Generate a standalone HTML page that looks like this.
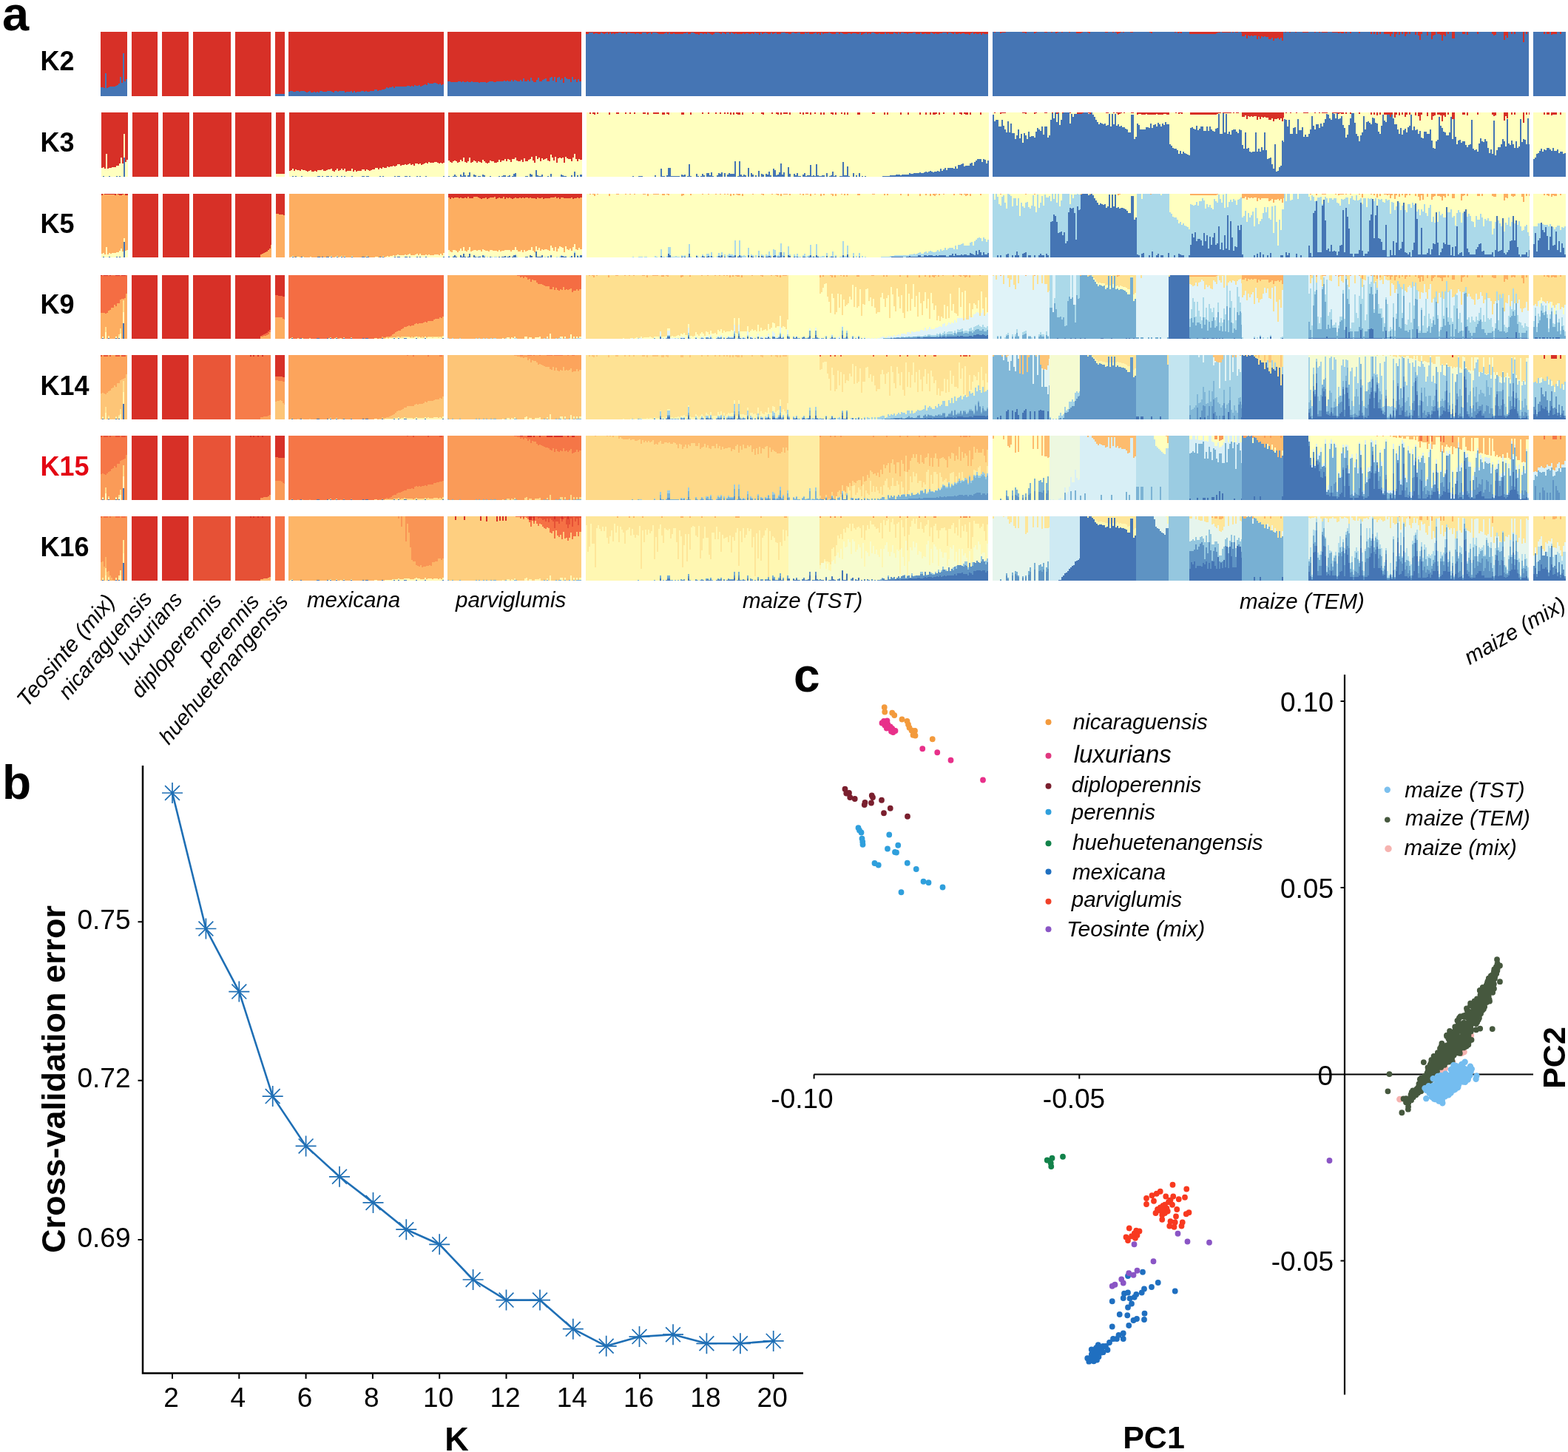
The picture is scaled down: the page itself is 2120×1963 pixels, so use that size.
<!DOCTYPE html>
<html><head><meta charset="utf-8"><title>Figure</title>
<style>
html,body{margin:0;padding:0;background:#fff}
body{width:2120px;height:1963px;overflow:hidden;font-family:"Liberation Sans",sans-serif}
svg{display:block}
text{font-family:"Liberation Sans",sans-serif}
</style></head><body>
<svg width="2120" height="1963" viewBox="0 0 2120 1963">
<rect width="2120" height="1963" fill="#fff"/>
<g shape-rendering="crispEdges">
<g transform="translate(0,43) scale(1,0.8650)">
<path fill="#d73027" d="M136 100V0H172V100zM177.75 100V0H213.25V100zM219.25 100V0H255V100zM260.5 100V0H312V100zM317.5 100V0H366.25V100zM372 100V0H384.5V100zM390 100V0H599.75V100zM605 100V0H786.25V100zM791.75 100V0H1335.75V100zM1343.5 100V0H1345.5V100zM1351.5 100V0H1359.5V100zM1381.5 100V0H1387.5V100zM1397.5 100V0H1401.5V100zM1411.5 100V0H1415.5V100zM1421 100V0H1423V100zM1427 100V0H1431V100zM1435 100V0H1437V100zM1445 100V0H1447V100zM1455 100V0H1460V100zM1460 100V0H1464V100zM1470 100V0H1474V100zM1494 100V0H1498V100zM1504 100V0H1506V100zM1508 100V0H1516V100zM1518 100V0H1520V100zM1528 100V0H1532V100zM1554 100V0H1558V100zM1588 100V0H1590V100zM1592 100V0H1598V100zM1608 100V0H1650V100zM1652 100V0H1664V100zM1666 100V0H1668V100zM1670 100V0H1674V100zM1678 100V0H1678.5V100zM1678.5 100V0H1735V100zM1737 100V0H1739V100zM1743 100V0H1745V100zM1751 100V0H1753V100zM1761 100V0H1768.5V100zM1776.5 100V0H1778.5V100zM1782.5 100V0H1784.5V100zM1786.5 100V0H1794.5V100zM1800.5 100V0H1816.5V100zM1818.5 100V0H1820.5V100zM1824.5 100V0H1826.5V100zM1836.5 100V0H1838.5V100zM1852.5 100V0H1854.5V100zM1856.5 100V0H1858.5V100zM1860.5 100V0H1862.5V100zM1864.5 100V0H1866.5V100zM1870.5 100V0H1882.5V100zM1884.5 100V0H1888.5V100zM1890.5 100V0H1892.5V100zM1894.5 100V0H1896.5V100zM1898.5 100V0H1902.5V100zM1904.5 100V0H1906.5V100zM1912.5 100V0H1914.5V100zM1916.5 100V0H1922.5V100zM1928.5 100V0H1930.5V100zM1934.5 100V0H1940.5V100zM1942.5 100V0H1954.5V100zM1956.5 100V0H1958.5V100zM1962.5 100V0H1966.5V100zM1976.5 100V0H1980.5V100zM1982.5 100V0H1984.5V100zM1996.5 100V0H1998.5V100zM2016.5 100V0H2022.5V100zM2032.5 100V0H2038.5V100zM2042.5 100V0H2044.5V100zM2046.5 100V0H2048.5V100zM2058.5 100V0H2060.5V100zM2062.5 100V0H2064.5V100zM2066.5 100V0H2067V100zM2086.5 100V0H2088.5V100zM2090.5 100V0H2094.5V100zM2096.5 100V0H2104.5V100zM2108.5 100V0H2110.5V100z"/>
<path fill="#4575b4" d="M136 100V87H140V88H142V65H144V88H146V87H148V86H150V85H156V84H158V83H160V81H162V70H164V80H166V34H168V77H170V74H172V100zM372 100V97H384.5V100zM390 100V94H392V93H396V94H400V93H404V94H406V93H412V94H414V95H416V94H418V93H420V95H424V94H426V95H428V94H430V95H432V93H436V94H442V93H444V92H448V94H450V95H452V93H454V92H456V94H458V93H466V95H468V94H474V93H476V95H478V93H480V95H482V94H488V93H492V94H494V93H496V94H500V93H502V92H506V90H510V92H512V91H516V90H520V89H522V87H524V88H526V87H530V86H532V88H534V86H536V85H538V86H542V85H548V86H550V84H554V85H556V84H558V86H560V83H562V84H566V83H568V85H570V84H572V83H574V82H576V83H578V80H580V81H586V80H590V81H592V82H594V81H596V83H598V82H599.75V100zM605 100V77H607V78H609V79H619V78H623V79H625V78H627V79H631V78H633V79H637V78H639V79H647V80H649V79H657V80H659V79H661V77H667V79H671V78H673V77H675V78H681V76H683V77H685V76H687V78H691V75H693V77H695V75H697V76H699V77H703V75H705V78H707V73H709V78H713V75H715V78H717V72H719V76H721V79H725V75H727V72H729V78H731V77H733V75H735V74H737V73H739V77H743V72H745V71H747V76H749V70H751V79H753V72H755V71H757V75H759V73H761V80H763V71H765V73H767V74H771V79H773V71H775V75H777V74H779V79H781V74H783V78H786.25V100zM791.75 100V3H795.75V1H801.75V4H803.75V2H807.75V3H809.75V4H811.75V1H813.75V2H815.75V3H817.75V2H819.75V1H821.75V4H823.75V1H825.75V4H827.75V2H829.75V3H831.75V2H835.75V1H839.75V2H843.75V1H845.75V4H847.75V1H851.75V2H857.75V3H859.75V2H863.75V3H865.75V4H867.75V1H873.75V4H875.75V2H877.75V1H879.75V3H881.75V1H887.75V2H889.75V3H897.75V2H899.75V1H901.75V3H903.75V1H905.75V4H909.75V2H911.75V3H917.75V4H921.75V3H923.75V2H927.75V1H929.75V4H931.75V3H933.75V1H937.75V2H939.75V4H943.75V5H945.75V2H949.75V3H951.75V2H953.75V3H955.75V1H957.75V2H959.75V4H961.75V5H963.75V4H965.75V1H971.75V2H973.75V4H975.75V1H977.75V2H979.75V3H981.75V1H985.75V4H987.75V1H989.75V2H991.75V4H993.75V2H995.75V3H1001.75V4H1003.75V2H1005.75V3H1007.75V2H1011.75V4H1015.75V2H1017.75V3H1019.75V1H1021.75V2H1025.75V5H1027.75V1H1029.75V4H1031.75V2H1033.75V1H1035.75V2H1037.75V4H1041.75V1H1043.75V4H1045.75V2H1047.75V1H1049.75V3H1053.75V4H1055.75V1H1061.75V2H1065.75V3H1069.75V1H1073.75V2H1077.75V1H1081.75V3H1085.75V4H1087.75V1H1089.75V2H1091.75V1H1093.75V4H1095.75V3H1099.75V2H1101.75V1H1103.75V4H1105.75V2H1107.75V5H1109.75V1H1111.75V3H1113.75V2H1119.75V1H1121.75V2H1123.75V4H1129.75V1H1133.75V3H1135.75V1H1137.75V2H1139.75V3H1143.75V4H1145.75V2H1149.75V4H1151.75V2H1157.75V3H1161.75V1H1163.75V5H1165.75V4H1167.75V2H1169.75V1H1171.75V4H1173.75V2H1175.75V3H1177.75V1H1181.75V2H1183.75V3H1185.75V4H1187.75V2H1189.75V3H1195.75V1H1197.75V4H1199.75V2H1201.75V4H1203.75V3H1205.75V4H1207.75V1H1209.75V2H1211.75V4H1213.75V1H1215.75V3H1217.75V1H1221.75V2H1225.75V4H1227.75V2H1233.75V1H1237.75V4H1239.75V3H1241.75V4H1243.75V1H1245.75V4H1249.75V2H1251.75V4H1257.75V1H1259.75V2H1261.75V4H1263.75V2H1265.75V3H1269.75V2H1273.75V1H1279.75V4H1281.75V1H1285.75V2H1287.75V3H1289.75V1H1291.75V3H1295.75V2H1297.75V3H1299.75V2H1303.75V4H1305.75V3H1309.75V5H1311.75V2H1313.75V1H1315.75V3H1317.75V2H1319.75V4H1323.75V2H1325.75V5H1327.75V2H1329.75V4H1333.75V3H1335.75V100zM1341.5 100V0H1343.5V1H1345.5V0H1351.5V2H1353.5V1H1359.5V0H1381.5V1H1385.5V2H1387.5V0H1397.5V2H1399.5V1H1401.5V0H1411.5V1H1415.5V0H1419V100zM1419 100V0H1421V1H1423V0H1427V2H1429V1H1431V0H1435V1H1437V0H1445V1H1447V0H1455V2H1460V100zM1460 100V2H1462V1H1464V0H1470V1H1472V2H1474V0H1494V1H1498V0H1504V1H1506V0H1508V1H1510V3H1512V2H1514V1H1516V0H1518V1H1520V0H1528V1H1532V0H1536V100zM1536 100V0H1554V1H1556V2H1558V0H1580V100zM1580 100V0H1588V1H1590V0H1592V2H1594V1H1596V2H1598V0H1608V100zM1608 100V3H1644V2H1646V1H1650V0H1652V1H1664V0H1666V1H1668V0H1670V1H1674V0H1678V1H1678.5V100zM1678.5 100V7H1682.5V5H1684.5V10H1686.5V6H1688.5V7H1690.5V6H1692.5V7H1694.5V6H1698.5V12H1700.5V7H1702.5V10H1704.5V7H1706.5V8H1708.5V7H1710.5V8H1714.5V12H1716.5V11H1718.5V9H1720.5V14H1722.5V10H1726.5V9H1728.5V11H1730.5V9H1732.5V14H1734.5V8H1735V100zM1735 100V0H1737V1H1739V0H1743V1H1745V0H1751V1H1753V0H1761V1H1768.5V100zM1768.5 100V0H1776.5V1H1778.5V0H1782.5V1H1784.5V0H1786.5V1H1794.5V0H1800.5V1H1808.5V2H1810.5V1H1812.5V2H1816.5V0H1818.5V2H1820.5V0H1824.5V2H1826.5V0H1836.5V2H1838.5V0H1852.5V3H1854.5V0H1856.5V3H1858.5V0H1860.5V5H1862.5V0H1864.5V4H1866.5V0H1870.5V3H1874.5V4H1876.5V3H1878.5V7H1880.5V3H1882.5V0H1884.5V8H1886.5V4H1888.5V0H1890.5V5H1892.5V0H1894.5V4H1896.5V0H1898.5V7H1900.5V4H1902.5V0H1904.5V4H1906.5V0H1912.5V5H1914.5V0H1916.5V6H1918.5V13H1920.5V4H1922.5V0H1928.5V6H1930.5V0H1934.5V12H1936.5V6H1938.5V5H1940.5V0H1942.5V4H1946.5V5H1948.5V14H1950.5V5H1952.5V7H1954.5V0H1956.5V4H1958.5V0H1962.5V10H1966.5V0H1976.5V4H1980.5V0H1982.5V5H1984.5V0H1996.5V4H1998.5V0H2016.5V4H2018.5V6H2020.5V5H2022.5V0H2032.5V13H2034.5V6H2036.5V9H2038.5V0H2042.5V4H2044.5V0H2046.5V4H2048.5V0H2058.5V16H2060.5V0H2062.5V4H2064.5V0H2066.5V4H2067V100zM2072.5 100V0H2086.5V3H2088.5V0H2090.5V3H2092.5V4H2094.5V0H2096.5V5H2098.5V3H2100.5V4H2104.5V0H2108.5V3H2110.5V0H2116.5V100z"/>
</g>
<g transform="translate(.75,152) scale(1,0.8675)">
<path fill="#d73027" d="M136 100V0H172V100zM177.75 100V0H213.25V100zM219.25 100V0H255V100zM260.5 100V0H312V100zM317.5 100V0H366.25V100zM372 100V0H384.5V100zM390 100V0H599.75V100zM605 100V0H786.25V100zM795.75 100V0H797.75V100zM799.75 100V0H803.75V100zM805.75 100V0H807.75V100zM821.75 100V0H823.75V100zM831.75 100V0H835.75V100zM843.75 100V0H845.75V100zM849.75 100V0H851.75V100zM855.75 100V0H857.75V100zM867.75 100V0H871.75V100zM873.75 100V0H875.75V100zM881.75 100V0H889.75V100zM893.75 100V0H897.75V100zM899.75 100V0H903.75V100zM919.75 100V0H923.75V100zM931.75 100V0H933.75V100zM947.75 100V0H949.75V100zM955.75 100V0H957.75V100zM965.75 100V0H967.75V100zM971.75 100V0H973.75V100zM977.75 100V0H979.75V100zM981.75 100V0H983.75V100zM985.75 100V0H987.75V100zM989.75 100V0H991.75V100zM993.75 100V0H999.75V100zM1001.75 100V0H1003.75V100zM1015.75 100V0H1017.75V100zM1027.75 100V0H1031.75V100zM1041.75 100V0H1043.75V100zM1047.75 100V0H1051.75V100zM1053.75 100V0H1055.75V100zM1057.75 100V0H1063.75V100zM1065.75 100V0H1067.75V100zM1079.75 100V0H1081.75V100zM1083.75 100V0H1085.75V100zM1087.75 100V0H1091.75V100zM1093.75 100V0H1095.75V100zM1099.75 100V0H1101.75V100zM1107.75 100V0H1109.75V100zM1111.75 100V0H1113.75V100zM1121.75 100V0H1125.75V100zM1127.75 100V0H1129.75V100zM1135.75 100V0H1137.75V100zM1139.75 100V0H1141.75V100zM1143.75 100V0H1145.75V100zM1157.75 100V0H1161.75V100zM1177.75 100V0H1181.75V100zM1193.75 100V0H1195.75V100zM1197.75 100V0H1199.75V100zM1215.75 100V0H1217.75V100zM1225.75 100V0H1227.75V100zM1241.75 100V0H1243.75V100zM1249.75 100V0H1251.75V100zM1255.75 100V0H1257.75V100zM1259.75 100V0H1265.75V100zM1267.75 100V0H1269.75V100zM1273.75 100V0H1275.75V100zM1287.75 100V0H1289.75V100zM1295.75 100V0H1299.75V100zM1301.75 100V0H1307.75V100zM1309.75 100V0H1311.75V100zM1323.75 100V0H1325.75V100zM1343.5 100V0H1345.5V100zM1351.5 100V0H1359.5V100zM1381.5 100V0H1387.5V100zM1397.5 100V0H1401.5V100zM1411.5 100V0H1415.5V100zM1421 100V0H1423V100zM1427 100V0H1431V100zM1435 100V0H1437V100zM1445 100V0H1447V100zM1455 100V0H1460V100zM1460 100V0H1464V100zM1470 100V0H1474V100zM1494 100V0H1498V100zM1504 100V0H1506V100zM1508 100V0H1516V100zM1518 100V0H1520V100zM1528 100V0H1532V100zM1536 100V0H1580V100zM1588 100V0H1590V100zM1592 100V0H1598V100zM1608 100V0H1650V100zM1652 100V0H1664V100zM1666 100V0H1668V100zM1670 100V0H1674V100zM1678 100V0H1678.5V100zM1678.5 100V0H1735V100zM1737 100V0H1739V100zM1743 100V0H1745V100zM1751 100V0H1753V100zM1761 100V0H1768.5V100zM1776.5 100V0H1778.5V100zM1782.5 100V0H1784.5V100zM1786.5 100V0H1794.5V100zM1800.5 100V0H1816.5V100zM1818.5 100V0H1820.5V100zM1824.5 100V0H1826.5V100zM1836.5 100V0H1838.5V100zM1852.5 100V0H1854.5V100zM1856.5 100V0H1858.5V100zM1860.5 100V0H1862.5V100zM1864.5 100V0H1866.5V100zM1870.5 100V0H1882.5V100zM1884.5 100V0H1888.5V100zM1890.5 100V0H1892.5V100zM1894.5 100V0H1896.5V100zM1898.5 100V0H1902.5V100zM1904.5 100V0H1906.5V100zM1912.5 100V0H1914.5V100zM1916.5 100V0H1922.5V100zM1928.5 100V0H1930.5V100zM1934.5 100V0H1940.5V100zM1942.5 100V0H1954.5V100zM1956.5 100V0H1958.5V100zM1962.5 100V0H1966.5V100zM1976.5 100V0H1980.5V100zM1982.5 100V0H1984.5V100zM1996.5 100V0H1998.5V100zM2016.5 100V0H2022.5V100zM2032.5 100V0H2038.5V100zM2042.5 100V0H2044.5V100zM2046.5 100V0H2048.5V100zM2058.5 100V0H2060.5V100zM2062.5 100V0H2064.5V100zM2066.5 100V0H2067V100zM2086.5 100V0H2088.5V100zM2090.5 100V0H2094.5V100zM2096.5 100V0H2104.5V100zM2108.5 100V0H2110.5V100z"/>
<path fill="#ffffbf" d="M136 100V87H138V85H140V88H142V65H144V88H146V86H150V85H156V83H160V80H162V70H164V80H166V34H168V77H170V74H172V100zM372 100V96H384.5V100zM390 100V91H392V90H394V88H396V91H398V89H400V90H404V91H406V89H408V90H412V91H414V92H416V91H418V90H420V92H424V91H426V92H428V90H434V89H436V91H440V90H442V89H446V88H448V91H450V92H452V90H454V88H456V91H458V90H460V88H462V90H464V88H466V92H468V91H474V88H476V92H478V90H480V92H482V91H488V89H492V91H494V89H496V90H498V91H500V90H502V89H506V87H510V89H512V86H514V88H516V85H518V87H520V86H522V84H524V85H526V84H530V83H532V84H534V83H536V81H540V83H542V82H546V81H548V82H550V81H552V80H554V82H556V81H558V83H560V80H562V79H564V81H566V79H568V82H570V81H572V80H574V78H576V80H578V77H580V78H586V77H590V78H592V79H594V78H596V80H598V78H599.75V100zM605 100V75H607V77H609V78H611V76H613V75H615V76H617V78H619V77H621V74H623V76H625V70H627V77H629V78H631V76H633V70H635V78H637V77H639V75H641V76H643V78H645V76H647V77H649V78H651V74H653V76H655V78H657V79H659V78H661V75H663V76H667V78H671V77H673V74H675V77H677V75H681V73H683V76H685V73H687V74H689V77H691V73H695V70H697V75H699V76H703V74H705V77H707V72H709V76H713V74H715V73H717V69H719V75H721V78H723V68H725V73H727V70H729V76H731V72H733V74H735V73H737V72H739V75H741V76H743V66H745V70H747V75H749V69H751V78H753V71H755V70H757V71H759V70H761V78H763V69H765V72H767V73H771V76H773V70H775V65H777V73H779V76H781V73H783V74H786.25V100zM791.75 100V0H795.75V2H797.75V0H799.75V2H801.75V4H803.75V0H805.75V2H807.75V0H821.75V4H823.75V0H831.75V2H835.75V0H843.75V2H845.75V0H849.75V2H851.75V0H855.75V2H857.75V0H867.75V2H871.75V0H873.75V4H875.75V0H881.75V2H889.75V0H893.75V3H897.75V0H899.75V2H901.75V3H903.75V0H919.75V4H921.75V3H923.75V0H931.75V3H933.75V0H947.75V2H949.75V0H955.75V2H957.75V0H965.75V2H967.75V0H971.75V2H973.75V0H977.75V2H979.75V0H981.75V2H983.75V0H985.75V4H987.75V0H989.75V3H991.75V0H993.75V2H995.75V3H999.75V0H1001.75V4H1003.75V0H1015.75V2H1017.75V0H1027.75V2H1029.75V3H1031.75V0H1041.75V2H1043.75V0H1047.75V2H1049.75V3H1051.75V0H1053.75V4H1055.75V0H1057.75V2H1063.75V0H1065.75V3H1067.75V0H1079.75V2H1081.75V0H1083.75V3H1085.75V0H1087.75V2H1091.75V0H1093.75V4H1095.75V0H1099.75V2H1101.75V0H1107.75V4H1109.75V0H1111.75V3H1113.75V0H1121.75V2H1123.75V4H1125.75V0H1127.75V4H1129.75V0H1135.75V2H1137.75V0H1139.75V3H1141.75V0H1143.75V3H1145.75V0H1157.75V3H1161.75V0H1177.75V2H1181.75V0H1193.75V3H1195.75V0H1197.75V3H1199.75V0H1215.75V3H1217.75V0H1225.75V4H1227.75V0H1241.75V4H1243.75V0H1249.75V3H1251.75V0H1255.75V4H1257.75V0H1259.75V3H1261.75V4H1263.75V2H1265.75V0H1267.75V3H1269.75V0H1273.75V2H1275.75V0H1287.75V3H1289.75V0H1295.75V2H1297.75V3H1299.75V0H1301.75V2H1303.75V4H1305.75V3H1307.75V0H1309.75V4H1311.75V0H1323.75V3H1325.75V0H1335.75V100zM1341.5 100V0H1343.5V1H1345.5V0H1351.5V2H1353.5V1H1359.5V0H1381.5V1H1385.5V2H1387.5V0H1397.5V2H1399.5V1H1401.5V0H1411.5V1H1415.5V0H1419V100zM1419 100V0H1421V100zM1423 100V0H1425V100zM1427 100V2H1429V100zM1431 100V0H1435V100zM1445 100V1H1447V0H1455V100zM1470 100V1H1472V100zM1476 100V0H1494V1H1498V0H1504V1H1506V0H1508V1H1510V3H1512V2H1514V1H1516V0H1518V1H1520V0H1528V1H1532V0H1536V100zM1536 100V3H1538V2H1542V3H1548V2H1550V3H1552V4H1556V3H1560V4H1562V2H1564V4H1566V3H1572V2H1576V3H1580V100zM1580 100V0H1588V1H1590V0H1592V2H1594V1H1596V2H1598V0H1608V100zM1608 100V3H1644V2H1646V1H1650V0H1652V100zM1654 100V1H1664V0H1666V1H1668V0H1670V1H1674V0H1678V1H1678.5V100zM1678.5 100V7H1682.5V5H1684.5V10H1686.5V6H1688.5V7H1690.5V6H1692.5V7H1694.5V6H1698.5V12H1700.5V7H1702.5V10H1704.5V7H1706.5V8H1708.5V7H1710.5V8H1714.5V12H1716.5V11H1718.5V9H1720.5V14H1722.5V10H1726.5V9H1728.5V11H1730.5V9H1732.5V14H1734.5V8H1735V100zM1735 100V0H1737V1H1739V0H1743V1H1745V0H1751V1H1753V0H1761V1H1768.5V100zM1768.5 100V0H1776.5V1H1778.5V0H1782.5V1H1784.5V0H1786.5V1H1794.5V0H1800.5V100zM1802.5 100V1H1806.5V100zM1808.5 100V2H1810.5V1H1812.5V2H1816.5V0H1818.5V2H1820.5V0H1824.5V2H1826.5V0H1836.5V2H1838.5V0H1852.5V3H1854.5V0H1856.5V3H1858.5V0H1860.5V5H1862.5V0H1864.5V4H1866.5V0H1870.5V3H1874.5V100zM1882.5 100V0H1884.5V8H1886.5V4H1888.5V0H1890.5V5H1892.5V0H1894.5V4H1896.5V0H1898.5V7H1900.5V4H1902.5V0H1904.5V4H1906.5V0H1912.5V5H1914.5V0H1916.5V6H1918.5V13H1920.5V4H1922.5V0H1928.5V6H1930.5V0H1934.5V12H1936.5V6H1938.5V5H1940.5V0H1942.5V4H1946.5V5H1948.5V14H1950.5V5H1952.5V7H1954.5V0H1956.5V4H1958.5V0H1962.5V10H1964.5V100zM1966.5 100V0H1976.5V4H1980.5V0H1982.5V5H1984.5V0H1996.5V4H1998.5V0H2016.5V4H2018.5V6H2020.5V5H2022.5V0H2032.5V13H2034.5V6H2036.5V9H2038.5V0H2042.5V4H2044.5V0H2046.5V4H2048.5V0H2058.5V16H2060.5V0H2062.5V4H2064.5V0H2066.5V4H2067V100zM2072.5 100V0H2086.5V3H2088.5V0H2090.5V3H2092.5V4H2094.5V0H2096.5V5H2098.5V3H2100.5V4H2104.5V0H2108.5V3H2110.5V0H2116.5V100z"/>
<path fill="#4575b4" d="M138 100V99H140V100zM146 100V99H148V100zM156 100V99H158V100zM160 100V99H162V100zM166 100V70H168V100zM394 100V99H396V100zM398 100V99H400V100zM406 100V99H408V100zM428 100V99H432V100zM434 100V99H436V100zM440 100V99H444V100zM446 100V99H448V100zM454 100V99H456V100zM460 100V99H462V100zM464 100V99H466V100zM474 100V99H476V100zM488 100V99H492V100zM494 100V99H498V100zM512 100V99H514V100zM516 100V99H518V100zM532 100V99H534V100zM536 100V99H540V100zM546 100V99H550V100zM552 100V99H554V100zM562 100V99H564V100zM566 100V99H568V100zM574 100V99H576V100zM598 100V99H599.75V100zM605 100V99H607V100zM611 100V99H613V97H615V99H617V100zM621 100V97H623V99H625V93H627V98H629V100zM631 100V98H633V93H635V100zM639 100V97H641V98H643V100zM645 100V99H649V100zM651 100V97H653V98H655V100zM661 100V99H663V100zM673 100V99H675V100zM677 100V99H679V98H683V100zM685 100V99H687V98H689V100zM691 100V99H693V96H695V95H697V100zM709 100V99H713V100zM715 100V96H717V97H719V100zM723 100V90H725V98H727V99H731V97H733V100zM739 100V99H741V100zM743 100V96H745V100zM757 100V97H759V98H761V99H765V100zM771 100V98H773V100zM775 100V92H777V100zM779 100V98H781V100zM783 100V97H786.25V100zM853.75 100V99H855.75V100zM861.75 100V99H867.75V100zM883.75 100V98H885.75V100zM891.75 100V88H893.75V99H897.75V100zM899.75 100V98H901.75V86H905.75V99H917.75V100zM919.75 100V97H921.75V98H923.75V97H925.75V100zM927.75 100V99H929.75V81H931.75V99H933.75V100zM939.75 100V96H941.75V99H943.75V100zM945.75 100V99H947.75V96H949.75V98H951.75V100zM953.75 100V95H957.75V98H959.75V93H961.75V99H963.75V100zM967.75 100V98H969.75V94H971.75V96H973.75V93H975.75V100zM977.75 100V95H979.75V100zM981.75 100V97H983.75V94H985.75V96H991.75V76H993.75V100zM995.75 100V99H997.75V76H999.75V97H1001.75V99H1003.75V97H1005.75V98H1007.75V100zM1009.75 100V87H1011.75V100zM1013.75 100V95H1015.75V97H1017.75V100zM1019.75 100V98H1021.75V100zM1023.75 100V91H1025.75V100zM1027.75 100V96H1029.75V97H1031.75V100zM1033.75 100V96H1035.75V97H1037.75V92H1039.75V98H1041.75V100zM1043.75 100V88H1045.75V90H1047.75V98H1049.75V97H1051.75V93H1053.75V80H1055.75V97H1057.75V93H1059.75V100zM1063.75 100V85H1065.75V96H1067.75V100zM1071.75 100V96H1073.75V98H1075.75V95H1077.75V99H1081.75V100zM1083.75 100V97H1085.75V95H1087.75V99H1089.75V98H1093.75V82H1095.75V99H1097.75V98H1099.75V99H1101.75V81H1103.75V98H1105.75V99H1109.75V98H1113.75V100zM1115.75 100V94H1117.75V100zM1119.75 100V99H1121.75V98H1123.75V92H1125.75V99H1127.75V98H1129.75V100zM1133.75 100V99H1137.75V77H1139.75V98H1143.75V84H1145.75V99H1147.75V100zM1151.75 100V94H1153.75V100zM1155.75 100V98H1157.75V100zM1159.75 100V94H1161.75V100zM1163.75 100V99H1165.75V100zM1167.75 100V99H1169.75V100zM1191.75 100V99H1201.75V98H1209.75V97H1215.75V98H1217.75V97H1227.75V95H1229.75V96H1233.75V95H1239.75V94H1241.75V93H1243.75V95H1247.75V93H1249.75V92H1251.75V93H1253.75V92H1255.75V91H1257.75V92H1259.75V93H1261.75V92H1265.75V91H1267.75V92H1269.75V88H1271.75V91H1273.75V89H1275.75V87H1277.75V90H1279.75V87H1283.75V86H1287.75V88H1289.75V84H1291.75V88H1293.75V82H1297.75V81H1299.75V80H1301.75V84H1303.75V83H1309.75V80H1311.75V78H1313.75V83H1315.75V77H1317.75V75H1319.75V73H1325.75V77H1327.75V73H1329.75V74H1331.75V79H1333.75V75H1335.75V100zM1341.5 100V3H1343.5V14H1345.5V12H1349.5V22H1353.5V11H1355.5V21H1357.5V27H1359.5V31H1361.5V14H1363.5V31H1365.5V17H1367.5V32H1371.5V41H1373.5V36H1375.5V27H1377.5V40H1379.5V34H1381.5V47H1383.5V32H1385.5V36H1387.5V42H1389.5V30H1391.5V38H1393.5V37H1397.5V39H1399.5V30H1401.5V24H1403.5V26H1405.5V29H1407.5V22H1409.5V35H1411.5V22H1415.5V39H1417.5V36H1419V100zM1419 100V12H1421V1H1423V9H1425V0H1427V15H1429V1H1431V20H1433V11H1435V1H1437V0H1445V17H1447V2H1449V7H1451V2H1460V100zM1460 100V2H1462V1H1464V0H1470V2H1474V0H1476V3H1478V7H1480V11H1482V15H1484V18H1486V16H1488V17H1490V18H1492V17H1494V21H1496V20H1498V2H1500V22H1502V2H1504V19H1506V2H1508V21H1510V18H1512V22H1514V21H1516V23H1520V25H1522V27H1524V31H1528V3H1530V4H1532V41H1534V38H1536V100zM1536 100V17H1538V20H1540V26H1544V27H1548V23H1552V24H1554V17H1556V24H1558V20H1560V18H1562V22H1564V16H1566V18H1568V22H1570V17H1572V20H1574V15H1576V19H1580V100zM1580 100V49H1582V52H1584V55H1586V57H1588V56H1590V59H1592V64H1594V60H1596V64H1598V61H1600V63H1602V64H1604V66H1606V67H1608V100zM1608 100V24H1610V23H1612V25H1614V27H1616V21H1618V28H1620V25H1622V22H1626V29H1630V22H1632V29H1634V22H1636V27H1638V29H1640V30H1642V25H1644V24H1646V2H1648V34H1652V1H1654V31H1656V2H1658V34H1660V30H1662V35H1664V28H1666V26H1670V30H1672V32H1674V26H1676V28H1678V21H1678.5V100zM1678.5 100V51H1680.5V56H1682.5V31H1684.5V57H1686.5V55H1688.5V61H1690.5V62H1692.5V61H1696.5V31H1698.5V61H1700.5V57H1702.5V61H1704.5V54H1706.5V59H1708.5V31H1710.5V59H1712.5V73H1714.5V71H1716.5V70H1718.5V81H1720.5V88H1722.5V49H1724.5V92H1726.5V91H1728.5V85H1730.5V83H1732.5V44H1734.5V46H1735V100zM1735 100V10H1737V11H1739V22H1741V11H1743V34H1745V33H1747V24H1749V23H1751V34H1753V10H1755V28H1759V23H1761V38H1763V35H1765V38H1768.5V100zM1768.5 100V34H1770.5V27H1772.5V6H1774.5V21H1776.5V26H1778.5V18H1780.5V19H1782.5V24H1784.5V17H1786.5V22H1788.5V16H1790.5V10H1792.5V2H1794.5V3H1796.5V9H1798.5V11H1800.5V1H1802.5V2H1804.5V9H1806.5V1H1808.5V10H1810.5V9H1812.5V6H1814.5V20H1816.5V24H1818.5V39H1820.5V35H1822.5V20H1824.5V9H1826.5V1H1830.5V16H1832.5V33H1834.5V37H1836.5V45H1838.5V36H1840.5V31H1842.5V6H1844.5V27H1846.5V15H1848.5V14H1850.5V16H1852.5V19H1854.5V8H1856.5V9H1858.5V16H1860.5V17H1862.5V30H1864.5V34H1866.5V21H1868.5V4H1870.5V13H1872.5V15H1874.5V4H1876.5V3H1878.5V7H1880.5V3H1882.5V9H1884.5V18H1886.5V19H1888.5V26H1890.5V34H1892.5V24H1894.5V35H1896.5V28H1898.5V25H1900.5V31H1902.5V23H1904.5V21H1906.5V4H1908.5V28H1910.5V22H1912.5V28H1914.5V27H1916.5V33H1918.5V29H1920.5V39H1922.5V40H1924.5V30H1928.5V33H1930.5V34H1932.5V27H1934.5V44H1936.5V55H1938.5V56H1940.5V45H1942.5V43H1944.5V7H1946.5V21H1948.5V24H1950.5V30H1952.5V31H1954.5V36H1958.5V31H1960.5V7H1962.5V42H1964.5V10H1966.5V38H1968.5V49H1970.5V44H1972.5V43H1974.5V47H1976.5V45H1980.5V51H1982.5V54H1984.5V51H1986.5V49H1988.5V11H1990.5V57H1992.5V59H1994.5V58H1996.5V61H1998.5V48H2000.5V40H2002.5V45H2004.5V46H2006.5V42H2008.5V45H2010.5V55H2012.5V63H2014.5V58H2016.5V65H2018.5V13H2020.5V67H2022.5V59H2024.5V54H2028.5V49H2030.5V41H2032.5V45H2034.5V53H2036.5V10H2038.5V48H2040.5V51H2042.5V44H2044.5V49H2046.5V55H2048.5V45H2050.5V55H2052.5V53H2054.5V10H2056.5V46H2058.5V41H2060.5V43H2062.5V49H2064.5V9H2066.5V49H2067V100zM2072.5 100V73H2074.5V70H2076.5V65H2078.5V63H2080.5V60H2082.5V57H2084.5V61H2086.5V58H2088.5V59H2090.5V55H2094.5V58H2096.5V60H2098.5V55H2100.5V60H2104.5V58H2106.5V63H2108.5V61H2112.5V65H2114.5V63H2116.5V100z"/>
</g>
<g transform="translate(.75,261.5) scale(1,0.8650)">
<path fill="#d73027" d="M136 100V0H172V100zM177.75 100V0H213.25V100zM219.25 100V0H255V100zM260.5 100V0H312V100zM317.5 100V0H366.25V100zM372 100V0H384.5V100zM605 100V0H786.25V100z"/>
<path fill="#fdae61" d="M136 100V3H138V1H140V2H154V3H156V1H158V2H160V3H164V2H166V1H168V3H172V100zM351.5 100V95H353.5V94H355.5V93H357.5V92H359.5V91H361.5V89H363.5V86H365.5V80H366.25V100zM372 100V32H376V33H382V34H384.5V100zM390 100V0H599.75V100zM605 100V6H607V9H609V6H611V7H613V6H619V7H621V6H623V7H627V6H629V8H631V5H633V7H635V8H637V7H639V5H645V6H647V7H649V9H651V7H653V8H655V6H657V9H659V7H661V6H667V5H669V9H671V8H673V6H675V7H679V5H681V9H683V6H685V7H687V6H689V7H691V9H693V8H695V6H697V8H699V7H701V6H703V7H705V6H707V8H709V6H713V8H715V6H717V8H723V9H725V6H727V7H731V6H733V9H735V8H739V7H743V6H749V5H751V7H753V6H755V9H757V6H761V8H763V7H767V8H769V7H771V6H773V9H775V8H779V6H781V7H783V6H786.25V100zM795.75 100V0H797.75V100zM799.75 100V0H803.75V100zM805.75 100V0H807.75V100zM821.75 100V0H823.75V100zM831.75 100V0H835.75V100zM843.75 100V0H845.75V100zM849.75 100V0H851.75V100zM855.75 100V0H857.75V100zM867.75 100V0H871.75V100zM873.75 100V0H875.75V100zM881.75 100V0H889.75V100zM893.75 100V0H897.75V100zM899.75 100V0H903.75V100zM919.75 100V0H923.75V100zM931.75 100V0H933.75V100zM947.75 100V0H949.75V100zM955.75 100V0H957.75V100zM965.75 100V0H967.75V100zM971.75 100V0H973.75V100zM977.75 100V0H979.75V100zM981.75 100V0H983.75V100zM985.75 100V0H987.75V100zM989.75 100V0H991.75V100zM993.75 100V0H999.75V100zM1001.75 100V0H1003.75V100zM1015.75 100V0H1017.75V100zM1027.75 100V0H1031.75V100zM1041.75 100V0H1043.75V100zM1047.75 100V0H1051.75V100zM1053.75 100V0H1055.75V100zM1057.75 100V0H1063.75V100zM1065.75 100V0H1067.75V100zM1079.75 100V0H1081.75V100zM1083.75 100V0H1085.75V100zM1087.75 100V0H1091.75V100zM1093.75 100V0H1095.75V100zM1099.75 100V0H1101.75V100zM1107.75 100V0H1109.75V100zM1111.75 100V0H1113.75V100zM1121.75 100V0H1125.75V100zM1127.75 100V0H1129.75V100zM1135.75 100V0H1137.75V100zM1139.75 100V0H1141.75V100zM1143.75 100V0H1145.75V100zM1157.75 100V0H1161.75V100zM1177.75 100V0H1181.75V100zM1193.75 100V0H1195.75V100zM1197.75 100V0H1199.75V100zM1215.75 100V0H1217.75V100zM1225.75 100V0H1227.75V100zM1241.75 100V0H1243.75V100zM1249.75 100V0H1251.75V100zM1255.75 100V0H1257.75V100zM1259.75 100V0H1265.75V100zM1267.75 100V0H1269.75V100zM1273.75 100V0H1275.75V100zM1287.75 100V0H1289.75V100zM1295.75 100V0H1299.75V100zM1301.75 100V0H1307.75V100zM1309.75 100V0H1311.75V100zM1323.75 100V0H1325.75V100zM1343.5 100V0H1345.5V100zM1351.5 100V0H1359.5V100zM1381.5 100V0H1387.5V100zM1397.5 100V0H1401.5V100zM1411.5 100V0H1415.5V100zM1460 100V0H1464V100zM1470 100V0H1474V100zM1494 100V0H1498V100zM1504 100V0H1506V100zM1508 100V0H1516V100zM1518 100V0H1520V100zM1528 100V0H1532V100zM1554 100V0H1556V100zM1608 100V0H1650V100zM1652 100V0H1664V100zM1666 100V0H1668V100zM1670 100V0H1674V100zM1678 100V0H1678.5V100zM1678.5 100V0H1735V100zM2086.5 100V0H2088.5V100zM2090.5 100V0H2094.5V100zM2096.5 100V0H2104.5V100zM2108.5 100V0H2110.5V100zM1768.5 100V0H1772.5V100zM1774.5 100V0H1780.5V100zM1782.5 100V0H1784.5V100zM1786.5 100V0H1794.5V100zM1800.5 100V0H1816.5V100zM1818.5 100V0H1820.5V100zM1824.5 100V0H1826.5V100zM1836.5 100V0H1838.5V100zM1840.5 100V0H1842.5V100zM1852.5 100V0H1854.5V100zM1856.5 100V0H1858.5V100zM1860.5 100V0H1862.5V100zM1864.5 100V0H1866.5V100zM1870.5 100V0H1882.5V100zM1884.5 100V0H1888.5V100zM1890.5 100V0H1892.5V100zM1894.5 100V0H1896.5V100zM1898.5 100V0H1902.5V100zM1904.5 100V0H1906.5V100zM1912.5 100V0H1914.5V100zM1916.5 100V0H1924.5V100zM1928.5 100V0H1930.5V100zM1934.5 100V0H1940.5V100zM1942.5 100V0H1954.5V100zM1956.5 100V0H1958.5V100zM1962.5 100V0H1966.5V100zM1974.5 100V0H1980.5V100zM1982.5 100V0H1984.5V100zM1996.5 100V0H2000.5V100zM2002.5 100V0H2004.5V100zM2016.5 100V0H2022.5V100zM2032.5 100V0H2038.5V100zM2042.5 100V0H2048.5V100zM2056.5 100V0H2060.5V100zM2062.5 100V0H2064.5V100zM2066.5 100V0H2067V100z"/>
<path fill="#ffffbf" d="M136 100V94H138V93H140V95H142V84H144V95H146V93H148V94H150V93H156V92H160V90H162V86H164V91H166V70H168V90H170V88H172V100zM392 100V99H394V98H396V100zM400 100V99H404V100zM408 100V99H410V100zM418 100V99H420V100zM444 100V99H446V98H448V100zM452 100V99H454V98H456V100zM458 100V99H460V98H462V100zM464 100V98H466V100zM474 100V98H476V100zM494 100V98H496V100zM506 100V99H510V100zM516 100V98H518V100zM520 100V99H522V98H524V99H526V98H530V97H532V98H534V97H536V95H538V96H540V97H542V96H546V95H548V96H550V95H552V94H554V97H556V96H558V97H560V95H562V94H564V96H566V94H568V97H570V96H574V95H576V97H578V95H580V96H586V95H592V96H594V94H596V96H598V93H599.75V100zM605 100V88H607V91H609V92H611V89H615V90H617V92H619V90H621V86H623V90H625V84H627V90H629V91H631V89H633V84H635V91H637V90H639V88H641V89H643V90H645V89H649V91H651V87H653V88H655V90H659V91H661V88H665V90H671V91H673V88H675V91H677V90H681V88H683V89H685V88H687V89H689V91H691V88H695V84H697V88H699V91H703V89H705V92H707V88H709V91H711V90H713V89H715V88H717V84H719V90H721V92H723V83H725V88H727V85H729V90H731V87H733V89H735V87H739V88H741V90H743V82H745V85H747V90H749V84H751V91H753V86H755V83H757V84H759V85H761V92H763V83H765V87H767V88H769V86H771V90H773V84H775V79H777V87H779V89H781V85H783V87H786.25V100zM791.75 100V0H795.75V2H797.75V0H799.75V2H801.75V4H803.75V0H805.75V2H807.75V0H821.75V4H823.75V0H831.75V2H835.75V0H843.75V2H845.75V0H849.75V2H851.75V0H855.75V2H857.75V0H867.75V2H871.75V0H873.75V4H875.75V0H881.75V2H889.75V0H893.75V3H897.75V0H899.75V2H901.75V3H903.75V0H919.75V4H921.75V3H923.75V0H931.75V3H933.75V0H947.75V2H949.75V0H955.75V2H957.75V0H965.75V2H967.75V0H971.75V2H973.75V0H977.75V2H979.75V0H981.75V2H983.75V0H985.75V4H987.75V0H989.75V3H991.75V0H993.75V2H995.75V3H999.75V0H1001.75V4H1003.75V0H1015.75V2H1017.75V0H1027.75V2H1029.75V3H1031.75V0H1041.75V2H1043.75V0H1047.75V2H1049.75V3H1051.75V0H1053.75V4H1055.75V0H1057.75V2H1063.75V0H1065.75V3H1067.75V0H1079.75V2H1081.75V0H1083.75V3H1085.75V0H1087.75V2H1091.75V0H1093.75V4H1095.75V0H1099.75V2H1101.75V0H1107.75V4H1109.75V0H1111.75V3H1113.75V0H1121.75V2H1123.75V4H1125.75V0H1127.75V4H1129.75V0H1135.75V2H1137.75V0H1139.75V3H1141.75V0H1143.75V3H1145.75V0H1157.75V3H1161.75V0H1177.75V2H1181.75V0H1193.75V3H1195.75V0H1197.75V3H1199.75V0H1215.75V3H1217.75V0H1225.75V4H1227.75V0H1241.75V4H1243.75V0H1249.75V3H1251.75V0H1255.75V4H1257.75V0H1259.75V3H1261.75V4H1263.75V2H1265.75V0H1267.75V3H1269.75V0H1273.75V2H1275.75V0H1287.75V3H1289.75V0H1295.75V2H1297.75V3H1299.75V0H1301.75V2H1303.75V4H1305.75V3H1307.75V0H1309.75V4H1311.75V0H1323.75V3H1325.75V0H1335.75V100zM1343.5 100V1H1345.5V100zM1347.5 100V0H1351.5V2H1353.5V1H1359.5V0H1361.5V100zM1363.5 100V0H1381.5V1H1385.5V2H1387.5V0H1397.5V2H1399.5V1H1401.5V0H1411.5V1H1415.5V0H1419V100zM1419 100V0H1421V100zM1423 100V0H1425V100zM1427 100V0H1429V100zM1431 100V0H1435V100zM1445 100V0H1455V100zM1457 100V0H1460V100zM1470 100V1H1472V100zM1476 100V0H1494V1H1498V0H1504V1H1506V0H1508V1H1510V3H1512V2H1514V1H1516V0H1518V1H1520V0H1528V1H1532V0H1536V100zM1542 100V0H1544V100zM1568 100V0H1570V100zM1574 100V0H1576V100zM1580 100V0H1608V100zM1608 100V3H1644V2H1646V1H1650V0H1652V1H1656V100zM1658 100V1H1664V0H1666V1H1668V0H1670V1H1674V0H1678V1H1678.5V100zM1678.5 100V7H1682.5V5H1684.5V10H1686.5V6H1688.5V7H1690.5V6H1692.5V7H1694.5V6H1698.5V12H1700.5V7H1702.5V10H1704.5V7H1706.5V8H1708.5V7H1710.5V8H1714.5V12H1716.5V11H1718.5V9H1720.5V14H1722.5V10H1726.5V9H1728.5V11H1730.5V9H1732.5V14H1734.5V8H1735V100zM1737 100V0H1739V100zM1743 100V0H1747V100zM1753 100V0H1755V100zM2072.5 100V0H2086.5V3H2088.5V0H2090.5V3H2092.5V4H2094.5V0H2096.5V5H2098.5V3H2100.5V4H2104.5V0H2108.5V3H2110.5V0H2116.5V100zM1768.5 100V1H1770.5V2H1772.5V0H1774.5V1H1778.5V3H1780.5V0H1782.5V1H1784.5V0H1786.5V2H1792.5V1H1794.5V0H1800.5V1H1804.5V2H1806.5V1H1808.5V3H1810.5V2H1816.5V0H1818.5V2H1820.5V0H1824.5V2H1826.5V0H1836.5V2H1838.5V0H1840.5V6H1842.5V0H1852.5V2H1854.5V0H1856.5V3H1858.5V0H1860.5V6H1862.5V0H1864.5V4H1866.5V0H1870.5V2H1874.5V3H1876.5V2H1878.5V8H1880.5V3H1882.5V0H1884.5V9H1886.5V3H1888.5V0H1890.5V5H1892.5V0H1894.5V3H1896.5V0H1898.5V6H1900.5V3H1902.5V0H1904.5V3H1906.5V0H1912.5V4H1914.5V0H1916.5V5H1918.5V11H1920.5V3H1922.5V10H1924.5V0H1928.5V5H1930.5V0H1934.5V10H1936.5V5H1938.5V4H1940.5V0H1942.5V4H1946.5V5H1948.5V11H1950.5V4H1952.5V6H1954.5V0H1956.5V4H1958.5V0H1962.5V8H1966.5V0H1974.5V11H1976.5V4H1978.5V3H1980.5V0H1982.5V4H1984.5V0H1996.5V4H2000.5V0H2002.5V4H2004.5V0H2016.5V4H2018.5V5H2022.5V0H2032.5V11H2034.5V6H2036.5V8H2038.5V0H2042.5V4H2044.5V5H2046.5V4H2048.5V0H2056.5V5H2058.5V13H2060.5V0H2062.5V4H2064.5V0H2066.5V4H2067V100z"/>
<path fill="#abd9e9" d="M605 100V98H607V100zM611 100V98H613V100zM621 100V96H623V100zM643 100V99H645V100zM647 100V98H649V100zM653 100V97H655V100zM657 100V99H659V100zM663 100V99H665V100zM667 100V99H671V100zM683 100V99H685V100zM695 100V95H697V99H699V100zM735 100V99H737V100zM739 100V98H741V100zM751 100V99H753V100zM755 100V99H757V96H759V100zM763 100V98H765V100zM769 100V99H771V100zM775 100V91H777V100zM779 100V97H781V99H783V96H786.25V100zM853.75 100V99H855.75V100zM861.75 100V99H867.75V100zM869.75 100V99H873.75V100zM883.75 100V98H885.75V99H887.75V100zM891.75 100V87H893.75V99H897.75V100zM899.75 100V98H901.75V84H905.75V99H911.75V98H913.75V99H917.75V100zM919.75 100V96H921.75V98H923.75V96H925.75V100zM927.75 100V99H929.75V79H931.75V99H933.75V100zM939.75 100V96H941.75V99H943.75V100zM945.75 100V99H947.75V95H949.75V98H951.75V100zM953.75 100V94H957.75V98H959.75V92H961.75V99H963.75V100zM967.75 100V98H969.75V93H971.75V96H973.75V92H975.75V100zM977.75 100V95H979.75V100zM981.75 100V97H983.75V94H985.75V95H989.75V96H991.75V73H993.75V100zM995.75 100V98H997.75V73H999.75V97H1001.75V98H1003.75V96H1005.75V98H1007.75V100zM1009.75 100V85H1011.75V100zM1013.75 100V95H1015.75V97H1017.75V100zM1019.75 100V97H1021.75V100zM1023.75 100V90H1025.75V100zM1027.75 100V95H1029.75V96H1031.75V100zM1033.75 100V95H1035.75V96H1037.75V91H1039.75V97H1041.75V100zM1043.75 100V87H1045.75V89H1047.75V98H1049.75V97H1051.75V92H1053.75V78H1055.75V97H1057.75V92H1059.75V100zM1063.75 100V83H1065.75V95H1067.75V100zM1071.75 100V95H1073.75V98H1075.75V94H1077.75V99H1081.75V100zM1083.75 100V97H1085.75V94H1087.75V99H1089.75V98H1091.75V97H1093.75V80H1095.75V99H1097.75V98H1099.75V99H1101.75V79H1103.75V98H1105.75V99H1109.75V98H1113.75V100zM1115.75 100V93H1117.75V100zM1119.75 100V99H1121.75V98H1123.75V91H1125.75V99H1127.75V97H1129.75V100zM1133.75 100V99H1137.75V74H1139.75V98H1143.75V82H1145.75V99H1147.75V100zM1151.75 100V93H1153.75V100zM1155.75 100V98H1157.75V100zM1159.75 100V93H1161.75V100zM1163.75 100V98H1165.75V100zM1167.75 100V99H1169.75V100zM1189.75 100V99H1201.75V98H1207.75V97H1217.75V96H1221.75V97H1223.75V96H1227.75V95H1233.75V94H1235.75V95H1237.75V94H1239.75V93H1241.75V92H1243.75V94H1247.75V92H1249.75V91H1251.75V93H1253.75V91H1255.75V90H1257.75V91H1259.75V92H1263.75V91H1265.75V89H1267.75V91H1269.75V87H1271.75V90H1273.75V88H1275.75V85H1277.75V89H1279.75V86H1281.75V85H1287.75V87H1289.75V82H1291.75V87H1293.75V80H1297.75V79H1299.75V78H1301.75V82H1303.75V81H1309.75V77H1311.75V76H1313.75V81H1315.75V75H1317.75V72H1319.75V70H1321.75V69H1323.75V70H1325.75V74H1327.75V69H1329.75V71H1331.75V76H1333.75V72H1335.75V100zM1341.5 100V0H1343.5V10H1345.5V0H1347.5V5H1349.5V17H1351.5V19H1353.5V5H1355.5V3H1357.5V14H1359.5V24H1361.5V0H1363.5V2H1365.5V4H1367.5V20H1369.5V8H1371.5V7H1373.5V19H1375.5V7H1377.5V35H1379.5V14H1381.5V20H1383.5V23H1385.5V14H1387.5V13H1389.5V21H1391.5V24H1393.5V19H1395.5V3H1397.5V20H1399.5V29H1401.5V2H1403.5V22H1405.5V15H1407.5V4H1409.5V19H1411.5V2H1413.5V6H1417.5V4H1419V100zM1419 100V12H1421V0H1423V9H1425V0H1427V15H1429V0H1431V20H1433V11H1435V0H1445V17H1447V2H1449V7H1451V2H1455V0H1457V2H1460V100zM1536 100V0H1542V9H1544V0H1554V2H1556V0H1568V3H1570V0H1574V1H1576V0H1580V100zM1580 100V29H1582V32H1584V36H1586V38H1590V41H1592V47H1594V45H1596V49H1598V47H1600V50H1602V52H1604V53H1606V56H1608V100zM1608 100V17H1610V18H1612V19H1614V18H1616V13H1618V19H1620V12H1624V8H1626V11H1628V24H1630V17H1632V21H1634V18H1636V23H1638V25H1640V9H1642V12H1644V15H1646V2H1648V9H1650V14H1652V2H1654V23H1656V1H1658V21H1660V13H1662V10H1664V13H1666V9H1668V11H1670V18H1672V10H1674V9H1676V6H1678V15H1678.5V100zM1678.5 100V38H1680.5V35H1682.5V27H1684.5V44H1686.5V31H1688.5V38H1690.5V34H1692.5V28H1694.5V51H1696.5V22H1698.5V39H1700.5V48H1702.5V43H1704.5V40H1706.5V31H1708.5V21H1710.5V30H1712.5V21H1714.5V39H1716.5V41H1718.5V20H1720.5V62H1722.5V19H1724.5V45H1726.5V81H1728.5V41H1730.5V57H1732.5V25H1735V100zM1735 100V0H1737V12H1739V0H1743V11H1745V10H1747V0H1753V9H1755V0H1768.5V100zM2072.5 100V52H2074.5V51H2076.5V52H2078.5V47H2082.5V100zM2084.5 100V48H2086.5V49H2092.5V52H2094.5V48H2096.5V100zM2098.5 100V53H2100.5V56H2102.5V53H2104.5V50H2108.5V57H2110.5V53H2112.5V54H2114.5V51H2116.5V100zM1768.5 100V5H1770.5V11H1772.5V3H1774.5V5H1776.5V12H1778.5V11H1780.5V6H1784.5V5H1786.5V17H1788.5V100zM1790.5 100V5H1792.5V7H1794.5V15H1796.5V7H1798.5V8H1800.5V10H1802.5V8H1804.5V7H1806.5V15H1808.5V16H1810.5V19H1812.5V9H1814.5V10H1816.5V9H1818.5V6H1822.5V17H1824.5V7H1826.5V4H1828.5V10H1830.5V11H1832.5V3H1834.5V11H1836.5V10H1838.5V8H1840.5V17H1842.5V7H1846.5V21H1848.5V7H1850.5V9H1852.5V7H1854.5V100zM1856.5 100V12H1858.5V8H1860.5V100zM1862.5 100V9H1864.5V10H1866.5V9H1868.5V13H1870.5V14H1872.5V9H1874.5V11H1876.5V10H1878.5V32H1880.5V13H1882.5V14H1884.5V26H1886.5V20H1888.5V100zM1890.5 100V15H1892.5V26H1894.5V19H1896.5V100zM1898.5 100V26H1900.5V29H1902.5V17H1906.5V23H1908.5V14H1910.5V18H1912.5V100zM1914.5 100V28H1916.5V25H1918.5V34H1920.5V25H1922.5V28H1924.5V17H1926.5V31H1928.5V35H1930.5V23H1932.5V18H1934.5V45H1936.5V36H1938.5V46H1940.5V100zM1942.5 100V44H1944.5V28H1946.5V34H1948.5V32H1950.5V37H1952.5V38H1954.5V100zM1956.5 100V29H1958.5V30H1960.5V25H1962.5V37H1964.5V35H1966.5V50H1968.5V31H1970.5V26H1972.5V30H1974.5V46H1976.5V31H1978.5V100zM1982.5 100V36H1984.5V32H1986.5V35H1988.5V43H1990.5V44H1992.5V53H1994.5V35H1996.5V41H2000.5V32H2002.5V37H2004.5V51H2006.5V40H2008.5V42H2010.5V39H2012.5V43H2016.5V64H2018.5V55H2020.5V45H2022.5V100zM2024.5 100V42H2026.5V47H2028.5V52H2030.5V100zM2032.5 100V60H2034.5V46H2036.5V49H2038.5V38H2040.5V51H2042.5V45H2044.5V100zM2046.5 100V47H2048.5V100zM2050.5 100V49H2052.5V43H2054.5V52H2056.5V58H2058.5V57H2060.5V52H2062.5V49H2064.5V61H2066.5V66H2067V100z"/>
<path fill="#4575b4" d="M138 100V99H140V100zM146 100V99H148V100zM156 100V99H158V100zM160 100V99H162V100zM166 100V76H168V100zM394 100V99H396V100zM398 100V99H400V100zM406 100V99H408V100zM428 100V99H432V100zM434 100V99H436V100zM440 100V99H444V100zM446 100V99H448V100zM454 100V99H456V100zM460 100V99H462V100zM464 100V99H466V100zM474 100V99H476V100zM488 100V99H492V100zM494 100V99H498V100zM512 100V99H514V100zM516 100V99H518V100zM532 100V99H534V100zM536 100V99H540V100zM546 100V99H550V100zM552 100V99H554V100zM562 100V99H564V100zM566 100V99H568V100zM574 100V99H576V100zM598 100V99H599.75V100zM605 100V99H607V100zM611 100V99H613V97H615V99H617V100zM621 100V97H623V99H625V94H627V99H629V100zM631 100V99H633V94H635V100zM639 100V97H641V99H643V100zM645 100V99H649V100zM651 100V97H653V99H655V100zM661 100V99H663V100zM673 100V99H675V100zM677 100V99H681V98H683V100zM685 100V99H687V98H689V100zM691 100V99H693V97H695V96H697V100zM709 100V99H713V100zM715 100V96H717V98H719V100zM723 100V91H725V99H731V97H733V100zM739 100V99H741V100zM743 100V96H745V100zM757 100V98H761V99H765V100zM771 100V98H773V100zM775 100V93H777V100zM779 100V98H781V100zM783 100V97H786.25V100zM891.75 100V98H893.75V100zM901.75 100V94H903.75V96H905.75V100zM919.75 100V99H921.75V100zM923.75 100V99H925.75V100zM929.75 100V94H931.75V100zM939.75 100V98H941.75V100zM947.75 100V98H949.75V99H951.75V100zM953.75 100V99H955.75V98H957.75V100zM959.75 100V98H961.75V100zM969.75 100V98H971.75V99H973.75V97H975.75V100zM977.75 100V99H979.75V100zM983.75 100V98H987.75V99H991.75V97H993.75V100zM995.75 100V99H997.75V96H999.75V99H1001.75V100zM1009.75 100V96H1011.75V100zM1013.75 100V98H1015.75V99H1017.75V100zM1023.75 100V98H1025.75V100zM1027.75 100V98H1029.75V99H1031.75V100zM1033.75 100V99H1037.75V98H1039.75V99H1041.75V100zM1043.75 100V98H1045.75V97H1047.75V100zM1049.75 100V99H1053.75V92H1055.75V100zM1057.75 100V98H1059.75V100zM1063.75 100V96H1065.75V98H1067.75V100zM1071.75 100V99H1073.75V100zM1075.75 100V99H1077.75V100zM1083.75 100V99H1087.75V100zM1091.75 100V99H1093.75V97H1095.75V100zM1097.75 100V99H1099.75V100zM1101.75 100V96H1103.75V99H1105.75V100zM1115.75 100V98H1117.75V100zM1121.75 100V99H1125.75V100zM1127.75 100V99H1129.75V100zM1137.75 100V96H1139.75V100zM1143.75 100V95H1145.75V100zM1151.75 100V99H1153.75V100zM1159.75 100V99H1161.75V100zM1203.75 100V99H1219.75V100zM1223.75 100V99H1227.75V98H1229.75V99H1239.75V97H1243.75V99H1247.75V97H1251.75V98H1253.75V97H1259.75V98H1263.75V97H1265.75V98H1267.75V97H1273.75V96H1277.75V99H1281.75V97H1283.75V96H1285.75V94H1287.75V98H1289.75V94H1291.75V97H1297.75V95H1299.75V97H1301.75V95H1305.75V97H1307.75V96H1309.75V93H1311.75V94H1313.75V95H1315.75V97H1317.75V90H1319.75V95H1321.75V88H1323.75V92H1325.75V97H1327.75V92H1329.75V95H1333.75V93H1335.75V100zM1347.5 100V97H1349.5V100zM1351.5 100V97H1353.5V100zM1359.5 100V95H1361.5V94H1363.5V100zM1367.5 100V96H1369.5V100zM1371.5 100V96H1373.5V91H1375.5V97H1377.5V100zM1381.5 100V94H1383.5V93H1385.5V92H1387.5V100zM1389.5 100V97H1393.5V100zM1397.5 100V97H1399.5V100zM1403.5 100V96H1405.5V94H1407.5V96H1411.5V100zM1413.5 100V94H1415.5V97H1417.5V100zM1419 100V44H1421V43H1423V33H1425V35H1427V45H1429V62H1431V61H1433V59H1435V65H1437V61H1439V78H1441V75H1443V30H1445V22H1447V24H1449V23H1451V31H1453V72H1455V20H1457V26H1459V25H1460V100zM1460 100V2H1462V1H1464V0H1470V3H1472V2H1474V0H1476V3H1478V7H1480V11H1482V15H1484V18H1486V16H1488V17H1490V18H1492V17H1494V22H1496V20H1498V2H1500V22H1502V2H1504V20H1506V2H1508V23H1510V21H1512V24H1514V22H1516V23H1518V24H1520V25H1522V27H1524V31H1528V4H1532V41H1534V38H1536V100zM1536 100V95H1538V96H1540V100zM1542 100V94H1544V93H1546V100zM1552 100V97H1554V100zM1556 100V91H1558V100zM1562 100V97H1564V94H1566V100zM1568 100V96H1570V97H1572V100zM1578 100V93H1580V100zM1586 100V96H1588V100zM1592 100V94H1594V95H1596V97H1598V96H1600V100zM1606 100V96H1608V100zM1608 100V80H1610V63H1612V69H1614V61H1616V75H1618V71H1622V73H1624V81H1626V62H1628V75H1630V65H1632V86H1634V68H1636V80H1638V69H1640V62H1642V80H1644V78H1646V51H1648V87H1650V77H1652V88H1654V65H1656V86H1658V34H1660V89H1662V43H1664V69H1666V90H1668V83H1670V84H1672V50H1674V57H1676V49H1678V76H1678.5V100zM1678.5 100V95H1680.5V100zM1694.5 100V97H1696.5V100zM1698.5 100V94H1700.5V100zM1702.5 100V92H1704.5V100zM1706.5 100V95H1708.5V100zM1712.5 100V96H1714.5V100zM1716.5 100V93H1718.5V100zM1730.5 100V96H1734.5V100zM1737 100V92H1739V97H1741V93H1743V100zM1751 100V94H1753V100zM1757 100V97H1759V100zM2072.5 100V79H2074.5V62H2076.5V91H2078.5V73H2080.5V70H2082.5V46H2084.5V57H2086.5V61H2088.5V53H2090.5V66H2092.5V89H2094.5V68H2096.5V51H2098.5V81H2100.5V80H2102.5V60H2104.5V89H2106.5V75H2108.5V92H2110.5V78H2112.5V85H2114.5V95H2116.5V100zM1768.5 100V82H1770.5V93H1772.5V99H1774.5V31H1776.5V27H1778.5V12H1780.5V92H1786.5V19H1788.5V10H1790.5V42H1792.5V88H1794.5V86H1796.5V91H1798.5V80H1800.5V91H1802.5V90H1804.5V91H1806.5V97H1808.5V91H1810.5V82H1812.5V80H1814.5V26H1816.5V92H1818.5V23H1820.5V36H1822.5V55H1824.5V94H1828.5V99H1830.5V94H1836.5V88H1838.5V15H1840.5V90H1842.5V98H1844.5V94H1848.5V91H1850.5V42H1852.5V33H1854.5V9H1856.5V70H1858.5V34H1860.5V19H1862.5V70H1864.5V71H1866.5V76H1868.5V88H1872.5V49H1874.5V99H1878.5V89H1880.5V97H1882.5V75H1884.5V97H1886.5V77H1888.5V12H1890.5V88H1892.5V86H1894.5V76H1896.5V15H1898.5V92H1900.5V93H1902.5V95H1904.5V92H1906.5V99H1908.5V88H1910.5V77H1912.5V16H1914.5V40H1916.5V95H1920.5V54H1922.5V95H1928.5V93H1930.5V86H1932.5V95H1934.5V87H1936.5V78H1938.5V79H1940.5V29H1942.5V77H1944.5V97H1946.5V92H1948.5V86H1950.5V77H1952.5V79H1954.5V21H1956.5V80H1960.5V97H1962.5V84H1964.5V98H1966.5V83H1968.5V51H1970.5V95H1972.5V93H1974.5V92H1976.5V98H1978.5V28H1980.5V25H1982.5V86H1984.5V92H1986.5V95H1994.5V87H1996.5V84H1998.5V79H2000.5V78H2002.5V91H2004.5V90H2006.5V95H2016.5V92H2018.5V99H2020.5V89H2022.5V35H2024.5V91H2026.5V90H2028.5V89H2030.5V39H2032.5V93H2034.5V95H2036.5V92H2038.5V88H2040.5V75H2042.5V73H2044.5V35H2046.5V73H2048.5V42H2050.5V84H2052.5V95H2054.5V99H2056.5V95H2062.5V92H2064.5V99H2066.5V89H2067V100z"/>
</g>
<g transform="translate(0,371.5) scale(1,0.8650)">
<path fill="#d73027" d="M136 100V0H138V100zM140 100V0H146V100zM148 100V0H150V100zM156 100V0H162V100zM164 100V0H170V100zM177.75 100V0H213.25V100zM219.25 100V0H255V100zM260.5 100V0H312V100zM317.5 100V0H366.25V100zM372 100V0H384.5V100zM703 100V0H707V100zM713 100V0H719V100zM721 100V0H723V100zM729 100V0H731V100zM739 100V0H747V100zM749 100V0H761V100zM767 100V0H769V100zM773 100V0H777V100z"/>
<path fill="#f46d43" d="M136 100V2H138V0H140V2H146V0H148V2H150V0H156V2H162V0H164V2H170V0H172V100zM351.5 100V95H353.5V94H355.5V93H357.5V92H359.5V91H361.5V89H363.5V86H365.5V80H366.25V100zM372 100V32H376V33H382V34H384.5V100zM390 100V0H599.75V100zM695 100V0H703V1H707V0H713V1H719V0H721V1H723V0H729V1H731V0H739V1H747V0H749V1H761V0H767V1H769V0H773V1H777V0H786.25V100z"/>
<path fill="#fdae61" d="M136 100V60H138V59H140V60H142V61H144V59H146V56H148V55H150V52H152V51H154V47H156V49H158V44H162V39H164V38H166V37H168V36H170V30H172V100zM351.5 100V96H355.5V95H359.5V94H361.5V93H363.5V90H365.5V86H366.25V100zM372 100V67H376V66H380V67H382V69H384V70H384.5V100zM458 100V99H460V100zM512 100V99H516V97H518V98H522V97H526V96H528V95H530V93H532V92H534V90H536V88H538V87H542V85H544V84H546V82H550V80H552V79H554V80H556V79H560V77H562V76H564V77H566V76H572V75H574V73H576V74H578V72H586V70H588V69H594V67H596V68H598V65H599.75V100zM605 100V0H695V1H699V2H703V4H705V3H707V5H709V3H711V4H713V8H715V6H717V11H719V8H721V9H725V12H727V15H729V14H731V15H733V16H735V17H737V18H743V22H745V23H747V19H749V24H751V20H753V24H755V25H757V23H759V24H761V19H763V24H765V23H767V24H769V23H771V21H773V27H775V25H779V22H781V25H783V23H786.25V100zM795.75 100V0H797.75V100zM799.75 100V0H803.75V100zM805.75 100V0H807.75V100zM821.75 100V0H823.75V100zM831.75 100V0H835.75V100zM843.75 100V0H845.75V100zM849.75 100V0H851.75V100zM855.75 100V0H857.75V100zM867.75 100V0H871.75V100zM873.75 100V0H875.75V100zM881.75 100V0H889.75V100zM893.75 100V0H897.75V100zM899.75 100V0H903.75V100zM919.75 100V0H923.75V100zM931.75 100V0H933.75V100zM947.75 100V0H949.75V100zM955.75 100V0H957.75V100zM965.75 100V0H967.75V100zM971.75 100V0H973.75V100zM977.75 100V0H979.75V100zM981.75 100V0H983.75V100zM985.75 100V0H987.75V100zM989.75 100V0H991.75V100zM993.75 100V0H999.75V100zM1001.75 100V0H1003.75V100zM1015.75 100V0H1017.75V100zM1027.75 100V0H1031.75V100zM1041.75 100V0H1043.75V100zM1047.75 100V0H1051.75V100zM1053.75 100V0H1055.75V100zM1057.75 100V0H1063.75V100zM1107.5 100V0H1109.5V100zM1111.5 100V0H1113.5V100zM1121.5 100V0H1125.5V100zM1127.5 100V0H1129.5V100zM1135.5 100V0H1137.5V100zM1139.5 100V0H1141.5V100zM1143.5 100V0H1145.5V100zM1157.5 100V0H1161.5V100zM1177.5 100V0H1181.5V100zM1193.5 100V0H1195.5V100zM1197.5 100V0H1199.5V100zM1215.5 100V0H1217.5V100zM1225.5 100V0H1227.5V100zM1241.5 100V0H1243.5V100zM1249.5 100V0H1251.5V100zM1255.5 100V0H1257.5V100zM1259.5 100V0H1265.5V100zM1267.5 100V0H1269.5V100zM1273.5 100V0H1275.5V100zM1287.5 100V0H1289.5V100zM1295.5 100V0H1299.5V100zM1301.5 100V0H1307.5V100zM1309.5 100V0H1311.5V100zM1323.5 100V0H1325.5V100zM1343.5 100V0H1345.5V100zM1351.5 100V0H1359.5V100zM1381.5 100V0H1387.5V100zM1397.5 100V0H1401.5V100zM1411.5 100V0H1415.5V100zM1460 100V0H1464V100zM1470 100V0H1474V100zM1494 100V0H1498V100zM1504 100V0H1506V100zM1508 100V0H1516V100zM1518 100V0H1520V100zM1528 100V0H1532V100zM1608 100V0H1650V100zM1652 100V0H1664V100zM1666 100V0H1668V100zM1670 100V0H1674V100zM1678 100V0H1678.5V100zM1678.5 100V0H1735V100zM2086.5 100V0H2088.5V100zM2090.5 100V0H2094.5V100zM2096.5 100V0H2104.5V100zM2108.5 100V0H2110.5V100zM1768.5 100V0H1772.5V100zM1774.5 100V0H1780.5V100zM1782.5 100V0H1784.5V100zM1786.5 100V0H1794.5V100zM1800.5 100V0H1816.5V100zM1818.5 100V0H1820.5V100zM1824.5 100V0H1826.5V100zM1836.5 100V0H1838.5V100zM1840.5 100V0H1842.5V100zM1852.5 100V0H1854.5V100zM1856.5 100V0H1858.5V100zM1860.5 100V0H1862.5V100zM1864.5 100V0H1866.5V100zM1870.5 100V0H1882.5V100zM1884.5 100V0H1888.5V100zM1890.5 100V0H1892.5V100zM1894.5 100V0H1896.5V100zM1898.5 100V0H1902.5V100zM1904.5 100V0H1906.5V100zM1912.5 100V0H1914.5V100zM1916.5 100V0H1924.5V100zM1928.5 100V0H1930.5V100zM1934.5 100V0H1940.5V100zM1942.5 100V0H1954.5V100zM1956.5 100V0H1958.5V100zM1962.5 100V0H1966.5V100zM1974.5 100V0H1980.5V100zM1982.5 100V0H1984.5V100zM1996.5 100V0H2000.5V100zM2002.5 100V0H2004.5V100zM2016.5 100V0H2022.5V100zM2032.5 100V0H2038.5V100zM2042.5 100V0H2048.5V100zM2056.5 100V0H2060.5V100zM2062.5 100V0H2064.5V100zM2066.5 100V0H2067V100z"/>
<path fill="#fee090" d="M138 100V96H140V100zM142 100V81H144V100zM146 100V95H148V100zM156 100V96H158V100zM160 100V93H162V84H164V100zM166 100V40H168V100zM392 100V99H394V98H396V100zM402 100V99H404V100zM408 100V99H410V100zM418 100V99H420V100zM444 100V99H446V98H448V100zM452 100V99H454V98H456V100zM460 100V99H462V100zM464 100V98H466V100zM474 100V98H476V100zM506 100V99H510V100zM520 100V99H522V98H524V99H526V98H532V100zM534 100V98H536V97H540V98H542V97H546V96H548V97H554V98H556V97H558V98H560V97H562V96H564V97H568V98H570V97H572V98H574V96H576V98H578V96H580V97H586V96H592V97H594V96H596V97H598V95H599.75V100zM791.75 100V0H795.75V2H797.75V0H799.75V2H801.75V4H803.75V0H805.75V2H807.75V0H821.75V4H823.75V0H831.75V2H835.75V0H843.75V2H845.75V0H849.75V2H851.75V0H855.75V2H857.75V0H867.75V2H871.75V0H873.75V4H875.75V0H881.75V2H889.75V0H893.75V3H897.75V0H899.75V2H901.75V3H903.75V0H919.75V4H921.75V3H923.75V0H931.75V3H933.75V0H947.75V2H949.75V0H955.75V2H957.75V0H965.75V2H967.75V0H971.75V2H973.75V0H977.75V2H979.75V0H981.75V2H983.75V0H985.75V4H987.75V0H989.75V3H991.75V0H993.75V2H995.75V3H999.75V0H1001.75V4H1003.75V0H1015.75V2H1017.75V0H1027.75V2H1029.75V3H1031.75V0H1041.75V2H1043.75V0H1047.75V2H1049.75V3H1051.75V0H1053.75V4H1055.75V0H1057.75V2H1063.75V0H1066V100zM1107.5 100V4H1109.5V0H1111.5V3H1113.5V0H1121.5V2H1123.5V4H1125.5V0H1127.5V4H1129.5V0H1135.5V2H1137.5V0H1139.5V3H1141.5V0H1143.5V3H1145.5V0H1157.5V3H1161.5V0H1177.5V2H1181.5V0H1193.5V3H1195.5V0H1197.5V3H1199.5V0H1215.5V3H1217.5V0H1225.5V4H1227.5V0H1241.5V4H1243.5V0H1249.5V3H1251.5V0H1255.5V4H1257.5V0H1259.5V3H1261.5V4H1263.5V2H1265.5V0H1267.5V3H1269.5V0H1273.5V2H1275.5V0H1287.5V3H1289.5V0H1295.5V2H1297.5V3H1299.5V0H1301.5V2H1303.5V4H1305.5V3H1307.5V0H1309.5V4H1311.5V0H1323.5V2H1325.5V0H1335.75V100zM1341.5 100V0H1343.5V100zM1345.5 100V0H1347.5V100zM1355.5 100V1H1357.5V100zM1361.5 100V0H1367.5V100zM1369.5 100V0H1373.5V100zM1375.5 100V0H1377.5V100zM1395.5 100V0H1397.5V100zM1401.5 100V0H1403.5V100zM1407.5 100V0H1409.5V100zM1411.5 100V1H1415.5V0H1419V100zM1470 100V1H1472V100zM1476 100V0H1494V1H1498V0H1504V1H1506V0H1508V1H1510V3H1512V2H1514V1H1516V0H1518V1H1520V0H1528V1H1532V0H1536V100zM1542 100V0H1544V100zM1574 100V0H1576V100zM1580 100V0H1582V100zM1608 100V3H1644V2H1646V1H1650V0H1652V1H1656V100zM1658 100V1H1664V0H1666V1H1668V0H1670V1H1674V0H1678V1H1678.5V100zM1678.5 100V7H1682.5V5H1684.5V10H1686.5V6H1688.5V7H1690.5V6H1692.5V7H1694.5V6H1698.5V12H1700.5V7H1702.5V10H1704.5V7H1706.5V8H1708.5V7H1710.5V8H1714.5V12H1716.5V11H1718.5V9H1720.5V14H1722.5V10H1726.5V9H1728.5V11H1730.5V9H1732.5V14H1734.5V8H1735V100zM2072.5 100V0H2086.5V3H2088.5V0H2090.5V3H2092.5V4H2094.5V0H2096.5V4H2098.5V3H2100.5V4H2104.5V0H2108.5V3H2110.5V0H2116.5V100zM1770.5 100V2H1772.5V0H1774.5V100zM1778.5 100V3H1780.5V100zM1784.5 100V0H1786.5V2H1788.5V100zM1796.5 100V0H1800.5V100zM1808.5 100V3H1810.5V100zM1812.5 100V2H1816.5V100zM1820.5 100V0H1824.5V100zM1830.5 100V0H1832.5V100zM1838.5 100V0H1840.5V6H1842.5V0H1846.5V100zM1856.5 100V3H1858.5V0H1860.5V6H1862.5V100zM1864.5 100V4H1866.5V0H1870.5V100zM1872.5 100V2H1874.5V3H1876.5V2H1878.5V8H1880.5V3H1882.5V0H1884.5V9H1886.5V3H1888.5V0H1890.5V5H1892.5V0H1894.5V3H1896.5V0H1898.5V6H1900.5V3H1902.5V0H1904.5V3H1906.5V0H1912.5V3H1914.5V0H1916.5V5H1918.5V11H1920.5V3H1922.5V10H1924.5V0H1928.5V5H1930.5V0H1934.5V10H1936.5V5H1938.5V3H1940.5V0H1942.5V4H1946.5V5H1948.5V10H1950.5V4H1954.5V0H1956.5V4H1958.5V0H1962.5V8H1966.5V0H1974.5V11H1976.5V4H1978.5V3H1980.5V0H1982.5V4H1984.5V0H1996.5V4H2000.5V0H2002.5V4H2004.5V0H2016.5V4H2018.5V5H2022.5V0H2032.5V11H2034.5V6H2036.5V8H2038.5V0H2042.5V4H2044.5V3H2046.5V4H2048.5V0H2056.5V5H2058.5V13H2060.5V0H2062.5V4H2064.5V0H2066.5V4H2067V100z"/>
<path fill="#ffffbf" d="M138 100V97H140V100zM142 100V90H144V100zM146 100V97H148V100zM156 100V97H158V100zM160 100V96H162V92H164V100zM166 100V58H168V100zM522 100V99H524V100zM526 100V99H532V98H534V99H538V98H540V99H546V98H554V99H560V98H562V97H564V99H566V98H568V99H574V97H576V99H578V98H584V99H586V98H592V99H594V98H596V99H598V97H599.75V100zM679 100V99H681V100zM685 100V98H689V100zM691 100V98H693V99H695V97H697V100zM709 100V97H711V96H713V100zM715 100V98H719V100zM723 100V98H729V97H731V100zM739 100V97H741V100zM743 100V92H745V100zM757 100V96H761V100zM763 100V96H765V100zM771 100V93H773V100zM775 100V96H777V100zM779 100V96H781V100zM783 100V96H786.25V100zM841.75 100V99H843.75V100zM851.75 100V99H853.75V100zM857.75 100V99H859.75V98H861.75V100zM865.75 100V97H867.75V99H869.75V98H877.75V97H879.75V98H881.75V99H883.75V96H887.75V97H891.75V88H893.75V96H897.75V97H899.75V95H901.75V84H905.75V96H907.75V95H909.75V97H911.75V96H913.75V95H915.75V94H917.75V95H919.75V92H921.75V93H923.75V91H925.75V94H929.75V77H931.75V95H935.75V96H937.75V95H939.75V90H941.75V93H943.75V95H945.75V92H947.75V90H949.75V92H951.75V95H953.75V88H955.75V90H957.75V93H959.75V87H961.75V92H965.75V91H967.75V93H969.75V86H971.75V89H973.75V85H975.75V91H977.75V87H979.75V90H981.75V88H987.75V86H989.75V87H991.75V68H993.75V91H995.75V92H997.75V68H999.75V89H1001.75V88H1003.75V89H1009.75V80H1011.75V90H1013.75V87H1015.75V85H1017.75V87H1019.75V86H1021.75V88H1023.75V78H1025.75V89H1027.75V83H1029.75V87H1031.75V86H1033.75V85H1035.75V87H1037.75V77H1039.75V85H1041.75V83H1043.75V74H1045.75V76H1047.75V83H1049.75V80H1053.75V64H1055.75V83H1057.75V80H1059.75V81H1061.75V85H1063.75V70H1066V100zM1066 100V0H1107.5V100zM1107.5 100V29H1109.5V27H1111.5V20H1113.5V15H1115.5V13H1117.5V34H1119.5V42H1121.5V60H1123.5V29H1125.5V36H1127.5V62H1129.5V58H1131.5V29H1133.5V52H1135.5V31H1137.5V63H1139.5V39H1141.5V49H1143.5V47H1145.5V45H1147.5V34H1149.5V39H1151.5V16H1153.5V50H1155.5V19H1157.5V52H1159.5V49H1161.5V23H1163.5V64H1165.5V46H1167.5V47H1169.5V22H1171.5V21H1173.5V41H1175.5V35H1177.5V49H1179.5V37H1181.5V52H1183.5V61H1185.5V58H1189.5V35H1191.5V28H1193.5V38H1195.5V50H1197.5V36H1199.5V32H1201.5V68H1203.5V19H1205.5V31H1207.5V49H1209.5V57H1211.5V21H1213.5V34H1215.5V53H1217.5V32H1219.5V59H1221.5V68H1223.5V14H1225.5V57H1227.5V29H1229.5V56H1231.5V37H1233.5V15H1235.5V50H1237.5V33H1239.5V65H1241.5V27H1243.5V45H1245.5V63H1247.5V41H1249.5V27H1251.5V53H1253.5V37H1255.5V69H1257.5V28H1259.5V44H1261.5V55H1263.5V48H1265.5V71H1267.5V64H1269.5V72H1271.5V65H1273.5V68H1275.5V47H1277.5V69H1279.5V49H1281.5V68H1283.5V29H1285.5V56H1287.5V46H1289.5V60H1291.5V61H1293.5V64H1295.5V20H1297.5V50H1299.5V27H1301.5V100zM1303.5 100V25H1305.5V100zM1309.5 100V45H1311.5V100zM1313.5 100V54H1315.5V44H1317.5V47H1319.5V53H1321.5V40H1323.5V100zM1325.5 100V26H1327.5V53H1329.5V100zM1331.5 100V35H1333.5V58H1335.75V100zM1476 100V2H1478V5H1480V8H1482V11H1484V13H1486V12H1488V13H1494V17H1496V16H1498V100zM1500 100V17H1502V1H1504V15H1506V100zM1508 100V18H1510V17H1512V19H1514V17H1516V18H1518V19H1522V20H1524V23H1528V3H1532V31H1534V28H1536V100zM2080.5 100V40H2082.5V35H2084.5V100zM2092.5 100V45H2094.5V100zM2096.5 100V42H2098.5V100zM2100.5 100V52H2102.5V100zM2104.5 100V45H2106.5V100zM2112.5 100V52H2114.5V100z"/>
<path fill="#e0f3f8" d="M853.75 100V99H855.75V100zM863.75 100V99H867.75V100zM891.75 100V89H893.75V99H895.75V100zM899.75 100V98H901.75V87H905.75V99H911.75V100zM913.75 100V99H915.75V100zM919.75 100V97H921.75V98H923.75V97H925.75V100zM927.75 100V99H929.75V83H931.75V100zM939.75 100V96H941.75V99H943.75V100zM947.75 100V96H949.75V98H951.75V100zM953.75 100V96H955.75V95H957.75V98H959.75V94H961.75V100zM967.75 100V98H969.75V95H971.75V97H973.75V94H975.75V100zM977.75 100V96H979.75V100zM981.75 100V98H983.75V95H985.75V96H989.75V97H991.75V78H993.75V100zM997.75 100V78H999.75V98H1001.75V100zM1003.75 100V97H1005.75V98H1007.75V100zM1009.75 100V88H1011.75V100zM1013.75 100V96H1015.75V97H1017.75V100zM1019.75 100V98H1021.75V100zM1023.75 100V92H1025.75V100zM1027.75 100V96H1029.75V97H1031.75V100zM1033.75 100V96H1035.75V97H1037.75V92H1039.75V98H1041.75V100zM1043.75 100V89H1045.75V91H1047.75V98H1051.75V94H1053.75V82H1055.75V98H1057.75V93H1059.75V100zM1063.75 100V86H1066V100zM1066 100V96H1068V100zM1072 100V96H1074V98H1076V95H1078V100zM1094 100V84H1096V99H1098V100zM1102 100V83H1104V100zM1107.5 100V99H1109.5V100zM1119.5 100V99H1121.5V100zM1123.5 100V93H1125.5V100zM1131.5 100V98H1133.5V97H1135.5V100zM1137.5 100V80H1139.5V100zM1149.5 100V98H1151.5V100zM1155.5 100V98H1157.5V99H1159.5V100zM1167.5 100V98H1169.5V100zM1171.5 100V99H1175.5V100zM1177.5 100V99H1179.5V100zM1181.5 100V99H1183.5V100zM1185.5 100V99H1189.5V98H1191.5V97H1195.5V100zM1197.5 100V98H1199.5V95H1201.5V97H1203.5V95H1205.5V96H1207.5V94H1209.5V97H1211.5V94H1213.5V93H1215.5V95H1217.5V92H1223.5V93H1225.5V90H1229.5V92H1231.5V89H1233.5V90H1237.5V89H1239.5V88H1243.5V86H1247.5V87H1249.5V83H1251.5V87H1253.5V85H1255.5V82H1257.5V85H1263.5V83H1267.5V81H1269.5V80H1271.5V81H1273.5V77H1275.5V76H1277.5V80H1279.5V78H1281.5V74H1283.5V77H1285.5V75H1287.5V76H1289.5V71H1291.5V75H1293.5V68H1301.5V71H1303.5V68H1305.5V70H1309.5V64H1311.5V66H1315.5V62H1317.5V61H1319.5V58H1321.5V60H1323.5V64H1325.5V60H1327.5V55H1329.5V64H1331.5V62H1333.5V59H1335.75V100zM1341.5 100V2H1343.5V1H1345.5V8H1347.5V0H1351.5V2H1353.5V1H1355.5V14H1357.5V1H1359.5V0H1361.5V5H1363.5V19H1365.5V7H1367.5V0H1369.5V16H1371.5V22H1373.5V0H1375.5V13H1377.5V0H1381.5V1H1385.5V2H1387.5V0H1395.5V24H1397.5V2H1399.5V1H1401.5V14H1403.5V0H1407.5V13H1409.5V0H1411.5V14H1415.5V27H1417.5V25H1419V100zM1423 100V0H1427V100zM1447 100V0H1449V100zM1451 100V0H1455V100zM1536 100V0H1542V5H1544V0H1574V1H1576V0H1580V100zM1608 100V15H1610V16H1612V18H1614V17H1616V12H1618V18H1620V12H1622V11H1624V8H1626V10H1628V22H1630V16H1632V19H1634V17H1636V21H1638V22H1640V9H1642V11H1644V14H1646V2H1648V9H1650V12H1652V2H1654V20H1656V1H1658V100zM1660 100V12H1662V10H1664V12H1666V9H1668V10H1670V16H1672V10H1674V8H1676V6H1678V13H1678.5V100zM1678.5 100V35H1680.5V32H1682.5V25H1684.5V40H1686.5V29H1688.5V35H1690.5V31H1692.5V27H1694.5V46H1696.5V20H1698.5V36H1700.5V43H1702.5V39H1704.5V37H1706.5V29H1708.5V20H1710.5V28H1712.5V21H1714.5V36H1716.5V38H1718.5V20H1720.5V57H1722.5V18H1724.5V42H1726.5V73H1728.5V39H1730.5V52H1732.5V24H1735V100zM2072.5 100V48H2074.5V46H2076.5V49H2078.5V41H2080.5V50H2082.5V100zM2084.5 100V41H2086.5V42H2088.5V44H2090.5V41H2092.5V55H2094.5V42H2096.5V100zM2098.5 100V48H2100.5V62H2102.5V47H2104.5V55H2106.5V44H2108.5V54H2110.5V50H2112.5V62H2114.5V47H2116.5V100zM1768.5 100V1H1770.5V13H1772.5V5H1774.5V100zM1776.5 100V1H1778.5V100zM1780.5 100V0H1782.5V1H1784.5V7H1786.5V18H1788.5V2H1792.5V1H1794.5V0H1796.5V9H1798.5V10H1800.5V1H1804.5V2H1806.5V1H1808.5V18H1810.5V2H1812.5V10H1814.5V12H1816.5V0H1818.5V100zM1820.5 100V8H1822.5V19H1824.5V2H1826.5V0H1830.5V13H1832.5V0H1836.5V2H1838.5V100zM1840.5 100V19H1842.5V8H1844.5V9H1846.5V0H1852.5V2H1854.5V100zM1856.5 100V13H1858.5V10H1860.5V100zM1862.5 100V0H1864.5V9H1866.5V8H1868.5V15H1870.5V2H1872.5V8H1874.5V9H1878.5V33H1880.5V13H1882.5V16H1884.5V28H1886.5V22H1888.5V100zM1890.5 100V14H1892.5V100zM1894.5 100V22H1896.5V100zM1898.5 100V25H1900.5V27H1902.5V19H1904.5V17H1906.5V20H1908.5V100zM1910.5 100V18H1912.5V100zM1916.5 100V26H1918.5V37H1920.5V27H1922.5V28H1924.5V15H1926.5V27H1928.5V37H1930.5V23H1932.5V15H1934.5V43H1936.5V37H1938.5V100zM1942.5 100V45H1944.5V28H1946.5V35H1948.5V100zM1950.5 100V37H1952.5V100zM1956.5 100V27H1958.5V100zM1960.5 100V23H1962.5V35H1964.5V34H1966.5V100zM1968.5 100V28H1970.5V22H1972.5V26H1974.5V47H1976.5V27H1978.5V100zM1982.5 100V34H1984.5V30H1986.5V34H1988.5V37H1990.5V39H1992.5V47H1994.5V30H1996.5V39H1998.5V37H2000.5V27H2002.5V33H2004.5V45H2006.5V39H2008.5V100zM2010.5 100V36H2014.5V41H2016.5V62H2018.5V46H2020.5V41H2022.5V100zM2024.5 100V40H2026.5V100zM2032.5 100V57H2034.5V43H2036.5V45H2038.5V32H2040.5V100zM2042.5 100V41H2044.5V100zM2046.5 100V44H2048.5V100zM2050.5 100V44H2052.5V39H2054.5V53H2056.5V58H2058.5V53H2060.5V52H2062.5V42H2064.5V56H2066.5V64H2067V100z"/>
<path fill="#abd9e9" d="M605 100V99H607V100zM611 100V99H613V100zM621 100V99H623V100zM643 100V99H645V100zM647 100V99H649V100zM653 100V99H655V100zM657 100V99H659V100zM663 100V99H665V100zM667 100V99H671V100zM683 100V99H685V100zM695 100V99H699V100zM735 100V99H737V100zM739 100V99H741V100zM751 100V99H753V100zM755 100V99H759V100zM763 100V99H765V100zM769 100V99H771V100zM775 100V99H777V100zM779 100V99H786.25V100zM861.75 100V99H863.75V100zM891.75 100V95H893.75V100zM895.75 100V99H897.75V100zM901.75 100V94H905.75V100zM911.75 100V99H913.75V100zM915.75 100V99H917.75V100zM929.75 100V91H931.75V99H933.75V100zM939.75 100V98H941.75V100zM945.75 100V99H947.75V98H949.75V100zM959.75 100V97H961.75V99H963.75V100zM969.75 100V97H971.75V98H973.75V97H975.75V100zM977.75 100V98H979.75V100zM983.75 100V97H985.75V98H991.75V89H993.75V100zM995.75 100V99H997.75V89H999.75V100zM1001.75 100V99H1003.75V98H1005.75V100zM1009.75 100V94H1011.75V100zM1023.75 100V96H1025.75V100zM1027.75 100V98H1029.75V100zM1033.75 100V98H1035.75V100zM1037.75 100V96H1039.75V100zM1043.75 100V95H1045.75V96H1047.75V100zM1051.75 100V97H1053.75V91H1055.75V100zM1057.75 100V97H1059.75V100zM1063.75 100V93H1066V100zM1115.5 100V95H1117.5V100zM1123.5 100V94H1125.5V100zM1127.5 100V98H1129.5V100zM1137.5 100V82H1139.5V100zM1141.5 100V98H1143.5V87H1145.5V99H1147.5V100zM1151.5 100V95H1153.5V100zM1159.5 100V95H1161.5V100zM1203.5 100V98H1205.5V100zM1207.5 100V98H1211.5V100zM1215.5 100V98H1217.5V97H1221.5V100zM1223.5 100V97H1227.5V96H1229.5V97H1233.5V96H1239.5V95H1243.5V96H1247.5V95H1249.5V94H1251.5V95H1253.5V93H1257.5V94H1265.5V92H1267.5V93H1269.5V91H1271.5V93H1273.5V91H1275.5V89H1277.5V92H1279.5V90H1281.5V89H1287.5V91H1289.5V87H1291.5V91H1293.5V85H1295.5V86H1297.5V85H1299.5V84H1301.5V88H1303.5V87H1307.5V88H1309.5V84H1311.5V83H1313.5V86H1315.5V82H1317.5V80H1319.5V79H1321.5V78H1323.5V80H1325.5V82H1327.5V78H1329.5V82H1331.5V83H1333.5V80H1335.75V100zM1347.5 100V95H1349.5V100zM1351.5 100V95H1353.5V100zM1357.5 100V98H1359.5V93H1361.5V91H1363.5V100zM1367.5 100V93H1369.5V100zM1371.5 100V93H1373.5V85H1375.5V95H1377.5V100zM1381.5 100V90H1383.5V88H1385.5V87H1387.5V100zM1389.5 100V95H1393.5V98H1395.5V100zM1397.5 100V95H1399.5V100zM1403.5 100V93H1405.5V90H1407.5V93H1411.5V100zM1413.5 100V89H1415.5V95H1417.5V100zM1419 100V0H1423V100zM1425 100V36H1427V0H1447V100zM1449 100V0H1451V100zM1453 100V47H1455V0H1460V100zM1608 100V69H1610V54H1612V36H1614V42H1616V65H1618V42H1620V56H1622V65H1624V71H1626V35H1628V66H1630V52H1632V71H1634V46H1636V53H1638V58H1640V51H1642V71H1644V66H1646V43H1648V75H1650V68H1652V74H1654V53H1656V62H1658V17H1660V71H1662V25H1664V41H1666V76H1668V51H1670V71H1672V19H1674V34H1676V43H1678V60H1678.5V100zM1678.5 100V98H1680.5V100zM1694.5 100V97H1696.5V100zM1698.5 100V98H1700.5V100zM1702.5 100V94H1704.5V100zM1706.5 100V98H1708.5V100zM1712.5 100V98H1714.5V100zM1716.5 100V94H1718.5V100zM1730.5 100V98H1732.5V97H1734.5V100zM1735 100V0H1768.5V100zM2072.5 100V72H2074.5V51H2076.5V82H2078.5V61H2080.5V65H2082.5V44H2084.5V48H2086.5V58H2088.5V48H2090.5V62H2092.5V84H2094.5V62H2096.5V52H2098.5V76H2100.5V77H2102.5V56H2104.5V74H2106.5V69H2108.5V87H2110.5V66H2112.5V79H2114.5V88H2116.5V100zM1768.5 100V29H1770.5V21H1772.5V79H1774.5V1H1776.5V26H1778.5V12H1780.5V65H1782.5V76H1784.5V67H1786.5V19H1788.5V4H1790.5V31H1792.5V8H1794.5V64H1796.5V58H1798.5V54H1800.5V79H1802.5V78H1804.5V75H1806.5V90H1808.5V79H1810.5V65H1814.5V24H1816.5V69H1818.5V2H1820.5V16H1822.5V22H1824.5V84H1826.5V74H1830.5V31H1832.5V59H1834.5V68H1836.5V33H1838.5V5H1840.5V37H1842.5V16H1844.5V71H1846.5V62H1848.5V3H1850.5V15H1852.5V11H1854.5V0H1856.5V54H1858.5V11H1860.5V20H1862.5V46H1864.5V53H1868.5V67H1870.5V76H1872.5V35H1874.5V46H1876.5V89H1878.5V82H1880.5V85H1882.5V45H1884.5V87H1886.5V61H1888.5V10H1890.5V15H1892.5V19H1894.5V60H1896.5V14H1898.5V77H1900.5V78H1902.5V70H1904.5V43H1906.5V75H1908.5V11H1910.5V48H1912.5V12H1914.5V24H1916.5V80H1918.5V87H1920.5V51H1922.5V79H1924.5V64H1926.5V37H1928.5V83H1930.5V61H1932.5V69H1934.5V76H1936.5V65H1938.5V35H1940.5V26H1942.5V63H1944.5V89H1946.5V82H1948.5V26H1950.5V64H1952.5V26H1954.5V10H1956.5V67H1958.5V25H1960.5V68H1962.5V73H1964.5V48H1966.5V31H1968.5V32H1970.5V69H1972.5V60H1974.5V74H1976.5V87H1978.5V26H1980.5V19H1982.5V70H1984.5V66H1986.5V74H1988.5V65H1990.5V71H1992.5V73H1994.5V65H1996.5V71H1998.5V59H2000.5V51H2002.5V73H2004.5V63H2006.5V73H2008.5V28H2010.5V68H2012.5V70H2014.5V68H2016.5V82H2018.5V87H2020.5V76H2022.5V26H2024.5V71H2026.5V31H2028.5V36H2030.5V30H2032.5V78H2034.5V82H2036.5V83H2038.5V64H2040.5V49H2042.5V54H2044.5V21H2046.5V55H2048.5V30H2050.5V63H2052.5V73H2054.5V75H2056.5V79H2058.5V83H2060.5V76H2062.5V80H2064.5V81H2066.5V76H2067V100z"/>
<path fill="#74add1" d="M883.75 100V99H885.75V100zM891.75 100V96H893.75V100zM899.75 100V99H901.75V95H905.75V100zM921.75 100V99H923.75V100zM929.75 100V94H931.75V100zM949.75 100V99H951.75V100zM953.75 100V98H957.75V99H959.75V98H961.75V100zM967.75 100V99H969.75V98H971.75V100zM973.75 100V98H975.75V100zM983.75 100V98H985.75V100zM991.75 100V92H993.75V100zM997.75 100V92H999.75V100zM1005.75 100V99H1007.75V100zM1009.75 100V96H1011.75V100zM1013.75 100V98H1015.75V100zM1019.75 100V99H1021.75V100zM1023.75 100V97H1025.75V100zM1037.75 100V97H1039.75V99H1041.75V100zM1043.75 100V96H1045.75V97H1047.75V99H1049.75V100zM1051.75 100V98H1053.75V93H1055.75V100zM1057.75 100V98H1059.75V100zM1063.75 100V95H1066V100zM1066 100V97H1068V100zM1072 100V97H1074V100zM1076 100V96H1078V99H1082V100zM1084 100V98H1086V96H1088V99H1092V98H1094V87H1096V100zM1098 100V99H1102V87H1104V98H1106V99H1107.5V100zM1109.5 100V99H1113.5V100zM1115.5 100V97H1117.5V100zM1121.5 100V99H1123.5V96H1125.5V99H1127.5V100zM1133.5 100V99H1135.5V100zM1137.5 100V87H1139.5V99H1143.5V91H1145.5V100zM1151.5 100V97H1153.5V100zM1155.5 100V99H1157.5V100zM1159.5 100V97H1161.5V100zM1163.5 100V99H1165.5V100zM1167.5 100V99H1169.5V100zM1193.5 100V99H1203.5V100zM1205.5 100V99H1207.5V100zM1211.5 100V98H1215.5V100zM1217.5 100V98H1227.5V97H1229.5V98H1233.5V97H1241.5V96H1243.5V97H1247.5V96H1253.5V95H1257.5V96H1265.5V95H1267.5V96H1269.5V93H1271.5V95H1273.5V94H1275.5V93H1277.5V95H1279.5V93H1287.5V94H1289.5V91H1291.5V93H1293.5V90H1299.5V89H1301.5V92H1303.5V91H1307.5V92H1309.5V89H1311.5V88H1313.5V91H1315.5V88H1317.5V86H1319.5V85H1323.5V87H1327.5V85H1329.5V88H1333.5V86H1335.75V100zM1347.5 100V97H1349.5V100zM1351.5 100V97H1353.5V100zM1359.5 100V95H1361.5V94H1363.5V100zM1367.5 100V96H1369.5V100zM1371.5 100V96H1373.5V91H1375.5V97H1377.5V100zM1381.5 100V94H1383.5V93H1385.5V92H1387.5V100zM1389.5 100V97H1393.5V100zM1397.5 100V97H1399.5V100zM1403.5 100V96H1405.5V94H1407.5V96H1411.5V100zM1413.5 100V94H1415.5V97H1417.5V100zM1419 100V52H1423V58H1425V45H1427V54H1429V67H1433V65H1435V70H1437V67H1439V80H1441V79H1443V41H1445V34H1447V38H1449V35H1451V47H1453V75H1455V32H1457V37H1459V36H1460V100zM1460 100V2H1462V1H1464V0H1470V3H1472V2H1474V0H1476V3H1478V7H1480V11H1482V15H1484V18H1486V16H1488V17H1490V18H1492V17H1494V22H1496V20H1498V2H1500V22H1502V2H1504V20H1506V2H1508V23H1510V21H1512V24H1514V22H1516V23H1518V24H1520V25H1522V27H1524V31H1528V4H1532V41H1534V38H1536V100zM1536 100V98H1540V100zM1542 100V98H1546V100zM1552 100V98H1554V100zM1556 100V98H1558V100zM1562 100V98H1566V100zM1568 100V98H1570V100zM1578 100V98H1580V100zM1608 100V82H1610V68H1612V74H1614V66H1616V79H1618V74H1620V75H1622V77H1624V84H1626V67H1628V78H1630V70H1632V87H1634V73H1636V83H1638V72H1640V66H1642V83H1644V80H1646V58H1648V87H1650V80H1652V89H1654V70H1656V88H1658V49H1660V90H1662V52H1664V74H1666V91H1668V84H1670V86H1672V58H1674V63H1676V57H1678V78H1678.5V100zM2072.5 100V81H2074.5V64H2076.5V90H2078.5V76H2080.5V71H2082.5V56H2084.5V59H2086.5V63H2088.5V57H2090.5V68H2092.5V90H2094.5V69H2096.5V57H2098.5V81H2100.5V82H2102.5V62H2104.5V88H2106.5V75H2108.5V93H2110.5V80H2112.5V86H2114.5V95H2116.5V100zM1768.5 100V73H1770.5V86H1772.5V98H1774.5V48H1776.5V31H1778.5V24H1780.5V85H1786.5V23H1788.5V15H1790.5V42H1792.5V85H1794.5V78H1796.5V84H1798.5V70H1800.5V83H1806.5V95H1808.5V84H1810.5V73H1812.5V71H1814.5V30H1816.5V86H1818.5V6H1820.5V38H1822.5V46H1824.5V88H1826.5V89H1828.5V98H1830.5V89H1836.5V82H1838.5V46H1840.5V84H1842.5V97H1844.5V89H1848.5V85H1850.5V30H1852.5V19H1854.5V31H1856.5V60H1858.5V29H1860.5V24H1862.5V61H1866.5V68H1868.5V89H1870.5V81H1872.5V39H1874.5V98H1878.5V87H1880.5V96H1882.5V66H1884.5V96H1886.5V69H1888.5V29H1890.5V82H1892.5V84H1894.5V68H1896.5V33H1898.5V87H1902.5V90H1904.5V86H1906.5V99H1908.5V85H1910.5V69H1912.5V37H1914.5V39H1916.5V91H1920.5V55H1922.5V91H1928.5V88H1930.5V80H1932.5V91H1934.5V81H1936.5V71H1938.5V78H1940.5V42H1942.5V69H1944.5V96H1946.5V86H1948.5V82H1950.5V69H1952.5V79H1954.5V51H1956.5V73H1958.5V78H1960.5V96H1962.5V77H1964.5V97H1966.5V85H1968.5V53H1970.5V91H1972.5V88H1974.5V87H1976.5V97H1978.5V30H1980.5V28H1982.5V80H1984.5V87H1986.5V91H1988.5V95H1990.5V91H1994.5V81H1996.5V77H1998.5V72H2000.5V70H2002.5V85H2006.5V91H2008.5V94H2010.5V91H2016.5V88H2018.5V98H2020.5V84H2022.5V44H2024.5V86H2026.5V88H2028.5V89H2030.5V51H2032.5V88H2034.5V91H2036.5V90H2038.5V82H2040.5V67H2042.5V64H2044.5V57H2046.5V64H2048.5V44H2050.5V77H2052.5V91H2054.5V98H2056.5V91H2062.5V87H2064.5V99H2066.5V84H2067V100z"/>
<path fill="#4575b4" d="M138 100V99H140V100zM146 100V99H148V100zM156 100V99H158V100zM160 100V99H162V100zM166 100V76H168V100zM394 100V99H396V100zM406 100V99H408V100zM428 100V99H432V100zM442 100V99H444V100zM446 100V99H448V100zM454 100V99H456V100zM464 100V99H466V100zM474 100V99H476V100zM490 100V99H492V100zM494 100V99H498V100zM516 100V99H518V100zM532 100V99H534V100zM538 100V99H540V100zM546 100V99H550V100zM562 100V99H564V100zM574 100V99H576V100zM598 100V99H599.75V100zM891.75 100V98H893.75V100zM901.75 100V97H905.75V100zM919.75 100V99H921.75V100zM923.75 100V99H925.75V100zM929.75 100V96H931.75V100zM939.75 100V99H941.75V100zM947.75 100V99H949.75V100zM953.75 100V99H957.75V100zM959.75 100V99H961.75V100zM969.75 100V99H975.75V100zM977.75 100V99H979.75V100zM981.75 100V99H991.75V95H993.75V100zM997.75 100V95H999.75V99H1001.75V100zM1003.75 100V99H1005.75V100zM1009.75 100V97H1011.75V100zM1013.75 100V99H1017.75V100zM1023.75 100V98H1025.75V100zM1027.75 100V99H1031.75V100zM1033.75 100V99H1037.75V98H1039.75V100zM1043.75 100V98H1047.75V100zM1049.75 100V99H1053.75V96H1055.75V99H1059.75V100zM1063.75 100V97H1066V100zM1066 100V99H1068V100zM1072 100V99H1076V98H1078V100zM1084 100V99H1086V98H1088V100zM1092 100V99H1094V95H1096V100zM1102 100V94H1104V99H1106V100zM1115.5 100V99H1117.5V100zM1123.5 100V98H1125.5V100zM1127.5 100V99H1129.5V100zM1137.5 100V94H1139.5V100zM1143.5 100V96H1145.5V100zM1151.5 100V99H1153.5V100zM1159.5 100V98H1161.5V100zM1203.5 100V99H1205.5V100zM1207.5 100V99H1239.5V98H1243.5V99H1247.5V98H1269.5V97H1271.5V98H1273.5V97H1277.5V98H1279.5V97H1289.5V96H1291.5V97H1293.5V95H1295.5V96H1297.5V95H1301.5V96H1309.5V95H1313.5V96H1315.5V94H1319.5V93H1323.5V94H1327.5V93H1329.5V94H1331.5V95H1333.5V94H1335.75V100zM1429 100V99H1431V100zM1439 100V99H1441V100zM1447 100V99H1449V100zM1453 100V99H1455V100zM1460 100V99H1462V100zM1466 100V99H1468V100zM1488 100V99H1492V100zM1502 100V99H1504V100zM1522 100V99H1524V100zM1526 100V99H1528V100zM1532 100V99H1534V100zM1580 100V3H1582V0H1608V100zM1608 100V99H1610V100zM1618 100V99H1620V100zM1626 100V99H1630V100zM1632 100V99H1634V100zM1638 100V99H1642V100zM1644 100V99H1646V100zM1648 100V99H1650V100zM1652 100V99H1654V100zM1668 100V99H1670V100zM1678 100V99H1678.5V100zM1694.5 100V99H1696.5V100zM1702.5 100V96H1704.5V100zM1716.5 100V96H1718.5V100zM1732.5 100V99H1734.5V100zM2074.5 100V98H2078.5V100zM2080.5 100V98H2082.5V100zM2084.5 100V98H2088.5V100zM2090.5 100V98H2092.5V100zM2094.5 100V98H2096.5V100zM2098.5 100V98H2100.5V100zM2102.5 100V98H2108.5V100zM1768.5 100V99H1772.5V100zM1774.5 100V99H1792.5V96H1794.5V99H1806.5V100zM1808.5 100V99H1818.5V81H1820.5V99H1822.5V90H1824.5V99H1828.5V100zM1830.5 100V99H1838.5V86H1840.5V99H1842.5V100zM1844.5 100V99H1850.5V85H1852.5V84H1854.5V85H1856.5V99H1868.5V100zM1870.5 100V99H1872.5V87H1874.5V100zM1878.5 100V97H1880.5V100zM1882.5 100V99H1884.5V100zM1886.5 100V99H1906.5V100zM1908.5 100V99H1914.5V85H1916.5V99H1944.5V100zM1946.5 100V99H1954.5V89H1956.5V99H1960.5V100zM1962.5 100V99H1964.5V100zM1966.5 100V99H1976.5V100zM1978.5 100V99H1980.5V82H1982.5V99H1988.5V100zM1990.5 100V99H2018.5V100zM2020.5 100V99H2036.5V98H2038.5V99H2048.5V90H2050.5V99H2054.5V100zM2056.5 100V99H2064.5V100zM2066.5 100V99H2067V100z"/>
</g>
<g transform="translate(0,480) scale(1,0.8675)">
<path fill="#d73027" d="M177.75 100V0H213.25V100zM219.25 100V0H255V100zM337.5 100V0H339.5V100zM341.5 100V0H343.5V100zM347.5 100V0H349.5V100zM353.5 100V0H355.5V100zM372 100V0H384.5V100zM2086.5 100V0H2088.5V100zM2096.5 100V0H2104.5V100zM2108.5 100V0H2110.5V100zM1962.5 100V0H1964.5V100z"/>
<path fill="#e95638" d="M136 100V0H138V100zM140 100V0H146V100zM148 100V0H150V100zM156 100V0H162V100zM164 100V0H170V100zM260.5 100V0H312V100zM1107.5 100V0H1109.5V100zM1121.5 100V0H1123.5V100zM1127.5 100V0H1129.5V100zM1135.5 100V0H1137.5V100zM1179.5 100V0H1181.5V100zM1197.5 100V0H1199.5V100zM1215.5 100V0H1217.5V100zM1225.5 100V0H1227.5V100zM1241.5 100V0H1243.5V100zM1249.5 100V0H1251.5V100zM1261.5 100V0H1265.5V100zM1297.5 100V0H1299.5V100zM1301.5 100V0H1307.5V100zM1309.5 100V0H1311.5V100z"/>
<path fill="#f67c4a" d="M317.5 100V0H337.5V2H339.5V0H341.5V2H343.5V0H347.5V2H349.5V0H353.5V2H355.5V0H366.25V100zM372 100V33H376V34H382V35H384.5V100zM550 100V0H552V100zM558 100V0H560V100zM578 100V0H580V100zM594 100V0H598V100zM703 100V0H707V100zM713 100V0H719V100zM721 100V0H723V100zM729 100V0H731V100zM739 100V0H747V100zM749 100V0H761V100zM767 100V0H769V100zM773 100V0H777V100z"/>
<path fill="#fca45c" d="M136 100V2H138V0H140V2H146V0H148V2H150V0H156V2H162V0H164V2H170V0H172V100zM351.5 100V97H355.5V96H361.5V95H363.5V93H365.5V90H366.25V100zM372 100V39H376V40H382V41H384.5V100zM390 100V0H550V1H552V0H558V2H560V0H578V2H580V0H594V2H598V0H599.75V100zM695 100V0H703V1H707V0H713V1H719V0H721V1H723V0H729V1H731V0H739V1H747V0H749V1H761V0H767V1H769V0H773V1H777V0H786.25V100z"/>
<path fill="#fdc577" d="M136 100V60H138V59H140V60H142V61H144V59H146V56H148V55H150V52H152V51H154V47H156V49H158V44H162V39H164V38H166V37H168V36H170V30H172V100zM372 100V73H374V72H376V71H378V70H380V72H382V75H384V77H384.5V100zM392 100V99H394V98H396V100zM402 100V99H404V100zM408 100V99H410V100zM418 100V99H420V100zM452 100V99H454V100zM458 100V99H462V100zM464 100V98H466V100zM474 100V98H476V100zM512 100V99H516V97H518V98H522V97H526V96H528V95H530V93H532V92H534V90H536V88H538V87H542V85H544V84H546V82H550V80H552V79H554V80H556V79H560V77H562V76H564V77H566V76H572V75H574V73H576V74H578V72H586V70H588V69H594V67H596V68H598V65H599.75V100zM605 100V0H695V1H699V2H703V4H705V3H707V5H709V3H711V4H713V8H715V6H717V11H719V8H721V9H725V12H727V15H729V14H731V15H733V16H735V17H737V18H743V22H745V23H747V19H749V24H751V20H753V24H755V25H757V23H759V24H761V19H763V24H765V23H767V24H769V23H771V21H773V27H775V25H779V22H781V25H783V23H786.25V100zM795.75 100V0H797.75V100zM799.75 100V0H803.75V100zM805.75 100V0H807.75V100zM821.75 100V0H823.75V100zM831.75 100V0H835.75V100zM843.75 100V0H845.75V100zM849.75 100V0H851.75V100zM855.75 100V0H857.75V100zM867.75 100V0H871.75V100zM873.75 100V0H875.75V100zM881.75 100V0H889.75V100zM893.75 100V0H897.75V100zM899.75 100V0H903.75V100zM919.75 100V0H923.75V100zM931.75 100V0H933.75V100zM947.75 100V0H949.75V100zM955.75 100V0H957.75V100zM965.75 100V0H967.75V100zM971.75 100V0H973.75V100zM977.75 100V0H979.75V100zM981.75 100V0H983.75V100zM985.75 100V0H987.75V100zM989.75 100V0H991.75V100zM993.75 100V0H999.75V100zM1001.75 100V0H1003.75V100zM1015.75 100V0H1017.75V100zM1027.75 100V0H1031.75V100zM1041.75 100V0H1043.75V100zM1047.75 100V0H1051.75V100zM1053.75 100V0H1055.75V100zM1057.75 100V0H1063.75V100zM1341.5 100V0H1343.5V100zM1353.5 100V0H1355.5V100zM1359.5 100V0H1363.5V100zM1377.5 100V0H1379.5V100zM1381.5 100V0H1383.5V100zM1387.5 100V0H1391.5V100zM1399.5 100V0H1401.5V100zM1405.5 100V0H1419V100zM1640 100V0H1654V100zM1666 100V0H1668V100zM1670 100V0H1672V100zM1676 100V0H1678V100zM1684.5 100V0H1686.5V100zM1696.5 100V0H1698.5V100zM1700.5 100V0H1702.5V100zM1708.5 100V0H1710.5V100zM1714.5 100V0H1718.5V100zM1730.5 100V0H1732.5V100z"/>
<path fill="#fee294" d="M138 100V96H140V100zM142 100V81H144V100zM146 100V95H148V100zM156 100V96H158V100zM160 100V93H162V84H164V100zM166 100V40H168V100zM791.75 100V0H795.75V2H797.75V0H799.75V2H801.75V4H803.75V0H805.75V2H807.75V0H821.75V4H823.75V0H831.75V2H835.75V0H843.75V2H845.75V0H849.75V2H851.75V0H855.75V2H857.75V0H867.75V2H871.75V0H873.75V4H875.75V0H881.75V2H889.75V0H893.75V3H897.75V0H899.75V2H901.75V3H903.75V0H919.75V4H921.75V3H923.75V0H931.75V3H933.75V0H947.75V2H949.75V0H955.75V2H957.75V0H965.75V2H967.75V0H971.75V2H973.75V0H977.75V2H979.75V0H981.75V2H983.75V0H985.75V4H987.75V0H989.75V3H991.75V0H993.75V2H995.75V3H999.75V0H1001.75V4H1003.75V0H1015.75V2H1017.75V0H1027.75V2H1029.75V3H1031.75V0H1041.75V2H1043.75V0H1047.75V2H1049.75V3H1051.75V0H1053.75V4H1055.75V0H1057.75V2H1063.75V0H1066V100zM1107.5 100V2H1109.5V0H1121.5V2H1123.5V0H1127.5V2H1129.5V0H1135.5V2H1137.5V0H1179.5V2H1181.5V0H1197.5V2H1199.5V0H1215.5V2H1217.5V0H1225.5V2H1227.5V0H1241.5V2H1243.5V0H1249.5V2H1251.5V0H1261.5V2H1265.5V0H1297.5V2H1299.5V0H1301.5V2H1307.5V0H1309.5V2H1311.5V0H1335.75V100zM1470 100V0H1472V100zM1476 100V0H1536V100zM1578 100V0H1580V100zM1680.5 100V0H1682.5V100zM1684.5 100V1H1686.5V100zM1688.5 100V0H1690.5V100zM1694.5 100V0H1696.5V2H1698.5V0H1700.5V5H1702.5V0H1708.5V9H1710.5V0H1714.5V11H1716.5V12H1718.5V0H1730.5V18H1732.5V0H1735V100zM2072.5 100V0H2086.5V6H2088.5V0H2096.5V6H2104.5V0H2108.5V6H2110.5V0H2116.5V100zM1860.5 100V0H1862.5V100zM1868.5 100V0H1870.5V100zM1878.5 100V0H1880.5V100zM1882.5 100V0H1888.5V100zM1890.5 100V0H1962.5V3H1964.5V0H2067V100z"/>
<path fill="#fff5b1" d="M138 100V97H140V100zM142 100V90H144V100zM146 100V97H148V100zM156 100V97H158V100zM160 100V96H162V92H164V100zM166 100V58H168V100zM444 100V99H446V98H448V100zM454 100V98H456V100zM506 100V99H510V100zM520 100V99H532V98H538V97H540V99H542V98H546V97H548V98H558V99H560V98H562V97H564V98H574V97H576V98H578V97H580V98H586V97H592V98H594V97H596V98H598V96H599.75V100zM679 100V99H681V100zM685 100V98H689V100zM691 100V98H693V99H695V97H697V100zM709 100V97H711V96H713V100zM715 100V98H719V100zM723 100V98H729V97H731V100zM739 100V97H741V100zM743 100V92H745V100zM757 100V96H761V100zM763 100V96H765V100zM771 100V93H773V100zM775 100V96H777V100zM779 100V96H781V100zM783 100V96H786.25V100zM841.75 100V99H843.75V100zM851.75 100V99H853.75V100zM857.75 100V99H861.75V100zM865.75 100V98H867.75V99H873.75V98H875.75V99H877.75V98H881.75V99H883.75V97H885.75V98H891.75V87H893.75V97H897.75V98H899.75V96H901.75V84H905.75V97H909.75V98H911.75V97H915.75V96H917.75V97H919.75V94H921.75V95H923.75V93H925.75V96H929.75V78H931.75V96H933.75V97H939.75V92H941.75V95H943.75V97H945.75V95H947.75V92H949.75V94H951.75V97H953.75V90H955.75V92H957.75V95H959.75V89H961.75V95H965.75V94H967.75V95H969.75V89H971.75V92H973.75V88H975.75V94H977.75V90H979.75V94H981.75V92H983.75V90H985.75V91H987.75V90H991.75V70H993.75V94H997.75V70H999.75V92H1005.75V93H1009.75V82H1011.75V94H1013.75V90H1017.75V92H1019.75V91H1021.75V93H1023.75V82H1025.75V93H1027.75V88H1029.75V91H1031.75V92H1033.75V89H1035.75V90H1037.75V82H1039.75V90H1043.75V79H1045.75V81H1047.75V89H1049.75V87H1051.75V85H1053.75V69H1055.75V89H1057.75V84H1059.75V88H1061.75V91H1063.75V75H1066V100zM1066 100V0H1107.5V100zM1107.5 100V23H1109.5V22H1111.5V12H1113.5V10H1117.5V29H1119.5V37H1121.5V55H1123.5V20H1125.5V31H1127.5V56H1129.5V53H1131.5V24H1133.5V47H1135.5V26H1137.5V58H1139.5V30H1141.5V44H1143.5V39H1145.5V40H1147.5V29H1149.5V34H1151.5V14H1153.5V45H1155.5V17H1157.5V44H1159.5V41H1161.5V21H1163.5V59H1165.5V41H1167.5V42H1169.5V20H1171.5V19H1173.5V36H1175.5V30H1177.5V42H1179.5V32H1181.5V47H1183.5V56H1185.5V53H1189.5V30H1191.5V23H1193.5V30H1195.5V45H1197.5V29H1199.5V27H1201.5V63H1203.5V17H1205.5V26H1207.5V44H1209.5V52H1211.5V19H1213.5V29H1215.5V47H1217.5V27H1219.5V54H1221.5V63H1223.5V12H1225.5V50H1227.5V26H1229.5V51H1231.5V31H1233.5V12H1235.5V43H1237.5V27H1239.5V58H1241.5V23H1243.5V38H1245.5V56H1247.5V34H1249.5V22H1251.5V45H1253.5V29H1255.5V57H1257.5V24H1259.5V33H1261.5V44H1263.5V39H1265.5V62H1267.5V52H1269.5V63H1271.5V56H1273.5V57H1275.5V37H1277.5V59H1279.5V38H1281.5V58H1283.5V24H1285.5V45H1287.5V32H1289.5V49H1291.5V50H1293.5V52H1295.5V12H1297.5V37H1299.5V21H1301.5V61H1303.5V17H1305.5V63H1307.5V100zM1309.5 100V31H1311.5V54H1313.5V41H1315.5V31H1317.5V34H1319.5V39H1321.5V26H1323.5V53H1325.5V19H1327.5V39H1329.5V100zM1331.5 100V29H1333.5V43H1335.75V100zM1470 100V1H1472V100zM1476 100V2H1478V4H1480V6H1482V8H1484V10H1486V9H1490V10H1494V11H1498V1H1500V12H1502V1H1504V11H1506V1H1508V12H1510V10H1512V12H1516V13H1520V14H1522V15H1524V17H1528V2H1532V23H1534V21H1536V100z"/>
<path fill="#f5fbd1" d="M1419 100V0H1460V100zM2080.5 100V36H2082.5V35H2084.5V100zM2092.5 100V38H2094.5V100zM2096.5 100V40H2098.5V100zM2100.5 100V50H2102.5V100zM2104.5 100V40H2106.5V100zM2112.5 100V46H2114.5V100zM1768.5 100V0H1860.5V1H1862.5V0H1868.5V1H1870.5V0H1878.5V1H1880.5V0H1882.5V2H1886.5V3H1888.5V0H1890.5V2H1892.5V3H1894.5V1H1896.5V4H1900.5V1H1904.5V5H1908.5V6H1910.5V1H1912.5V7H1914.5V1H1916.5V9H1918.5V10H1920.5V1H1922.5V10H1924.5V9H1926.5V10H1928.5V12H1932.5V1H1934.5V12H1936.5V14H1940.5V2H1946.5V16H1948.5V14H1950.5V16H1954.5V13H1956.5V17H1958.5V18H1960.5V17H1962.5V21H1964.5V18H1966.5V20H1968.5V19H1970.5V2H1972.5V20H1974.5V22H1976.5V2H1978.5V3H1980.5V18H1982.5V100zM1984.5 100V23H1986.5V24H1988.5V3H1990.5V24H1992.5V3H1998.5V26H2000.5V100zM2002.5 100V26H2004.5V3H2006.5V29H2008.5V30H2010.5V29H2012.5V3H2014.5V31H2016.5V4H2018.5V26H2020.5V31H2022.5V27H2024.5V33H2026.5V32H2028.5V35H2030.5V25H2032.5V35H2034.5V34H2036.5V28H2038.5V34H2040.5V38H2042.5V4H2044.5V28H2046.5V4H2048.5V31H2050.5V38H2054.5V5H2056.5V41H2058.5V39H2060.5V42H2062.5V5H2067V100z"/>
<path fill="#e2f4f4" d="M1355.5 100V0H1357.5V100zM1361.5 100V1H1363.5V0H1367.5V100zM1369.5 100V0H1373.5V100zM1375.5 100V0H1377.5V100zM1395.5 100V0H1397.5V100zM1401.5 100V0H1403.5V100zM1407.5 100V21H1409.5V100zM1411.5 100V22H1413.5V23H1415.5V16H1417.5V6H1419V100zM1620 100V0H1622V100zM1626 100V0H1628V100zM1640 100V4H1642V9H1644V100zM1648 100V12H1650V100zM1656 100V0H1658V100zM1662 100V0H1664V100zM1666 100V4H1668V100zM1672 100V0H1676V1H1678V100zM1735 100V0H1768.5V100z"/>
<path fill="#c3e5f0" d="M1580 100V0H1608V100z"/>
<path fill="#a3d2e5" d="M853.75 100V99H855.75V100zM863.75 100V99H867.75V100zM883.75 100V98H885.75V100zM891.75 100V88H893.75V99H895.75V100zM899.75 100V98H901.75V86H905.75V99H907.75V100zM909.75 100V99H911.75V100zM913.75 100V99H915.75V100zM919.75 100V97H921.75V98H923.75V97H925.75V100zM927.75 100V99H929.75V81H931.75V100zM939.75 100V96H941.75V99H943.75V100zM947.75 100V96H949.75V98H951.75V100zM953.75 100V95H957.75V98H959.75V93H961.75V100zM967.75 100V98H969.75V94H971.75V96H973.75V93H975.75V100zM977.75 100V95H979.75V100zM981.75 100V97H983.75V94H985.75V96H991.75V76H993.75V100zM997.75 100V76H999.75V97H1001.75V100zM1003.75 100V97H1005.75V98H1007.75V100zM1009.75 100V87H1011.75V100zM1013.75 100V95H1015.75V97H1017.75V100zM1019.75 100V98H1021.75V100zM1023.75 100V91H1025.75V100zM1027.75 100V96H1029.75V97H1031.75V100zM1033.75 100V96H1035.75V97H1037.75V92H1039.75V98H1041.75V100zM1043.75 100V88H1045.75V90H1047.75V98H1049.75V97H1051.75V93H1053.75V80H1055.75V97H1057.75V93H1059.75V100zM1063.75 100V85H1066V100zM1066 100V96H1068V100zM1072 100V96H1074V98H1076V95H1078V100zM1084 100V97H1086V95H1088V100zM1090 100V98H1092V100zM1094 100V82H1096V99H1098V98H1100V100zM1102 100V81H1104V100zM1107.5 100V98H1109.5V100zM1115.5 100V95H1117.5V100zM1119.5 100V99H1121.5V100zM1123.5 100V94H1125.5V98H1127.5V100zM1131.5 100V98H1133.5V97H1135.5V99H1137.5V86H1139.5V100zM1143.5 100V86H1145.5V100zM1149.5 100V98H1151.5V100zM1155.5 100V98H1157.5V99H1159.5V100zM1167.5 100V97H1169.5V100zM1171.5 100V97H1173.5V98H1175.5V100zM1177.5 100V97H1179.5V100zM1181.5 100V97H1183.5V100zM1185.5 100V97H1189.5V96H1191.5V95H1195.5V98H1197.5V97H1199.5V92H1201.5V95H1203.5V92H1205.5V93H1207.5V91H1209.5V95H1211.5V92H1213.5V90H1215.5V92H1217.5V89H1219.5V90H1223.5V92H1225.5V87H1229.5V91H1231.5V87H1233.5V91H1235.5V90H1237.5V88H1239.5V85H1241.5V86H1245.5V85H1247.5V84H1249.5V78H1251.5V87H1253.5V82H1255.5V79H1257.5V82H1259.5V84H1263.5V80H1265.5V82H1267.5V76H1269.5V80H1271.5V77H1273.5V71H1275.5V72H1277.5V79H1281.5V70H1283.5V75H1285.5V67H1287.5V75H1289.5V64H1291.5V71H1293.5V67H1295.5V66H1297.5V63H1299.5V69H1301.5V64H1303.5V62H1305.5V66H1307.5V64H1309.5V56H1311.5V60H1313.5V59H1315.5V63H1317.5V51H1319.5V57H1321.5V47H1323.5V54H1325.5V59H1327.5V49H1329.5V58H1331.5V57H1333.5V54H1335.75V100zM1419 100V97H1421V100zM1423 100V99H1425V100zM1427 100V99H1429V100zM1431 100V95H1433V90H1435V94H1437V92H1439V81H1441V86H1443V84H1445V73H1449V69H1451V73H1453V59H1455V56H1457V59H1459V56H1460V100zM1608 100V0H1620V4H1622V0H1626V11H1628V0H1640V16H1642V12H1644V10H1646V11H1648V52H1650V11H1652V7H1654V0H1656V40H1658V0H1662V39H1664V0H1666V27H1668V0H1670V3H1672V32H1674V22H1676V26H1678V0H1678.5V100zM1712.5 100V8H1714.5V100zM1718.5 100V8H1720.5V100zM1722.5 100V12H1724.5V100zM1732.5 100V18H1734.5V100zM2072.5 100V43H2074.5V41H2076.5V44H2078.5V36H2080.5V44H2082.5V43H2084.5V37H2086.5V40H2090.5V34H2092.5V46H2094.5V38H2096.5V48H2098.5V47H2100.5V58H2102.5V45H2104.5V48H2106.5V39H2108.5V52H2110.5V45H2112.5V54H2114.5V41H2116.5V100zM1768.5 100V3H1770.5V54H1772.5V80H1774.5V20H1776.5V100zM1778.5 100V6H1780.5V20H1782.5V17H1784.5V10H1786.5V100zM1790.5 100V2H1792.5V80H1794.5V100zM1796.5 100V5H1798.5V2H1800.5V23H1802.5V4H1804.5V7H1806.5V80H1808.5V50H1810.5V100zM1812.5 100V16H1814.5V7H1816.5V18H1818.5V7H1820.5V8H1822.5V100zM1824.5 100V25H1826.5V20H1828.5V80H1830.5V33H1832.5V18H1834.5V44H1836.5V4H1838.5V100zM1840.5 100V47H1842.5V80H1844.5V2H1846.5V100zM1848.5 100V43H1850.5V100zM1852.5 100V2H1854.5V100zM1856.5 100V29H1858.5V2H1860.5V30H1862.5V44H1864.5V13H1866.5V32H1868.5V81H1870.5V10H1872.5V2H1874.5V80H1878.5V81H1880.5V80H1882.5V6H1884.5V82H1886.5V13H1888.5V100zM1890.5 100V6H1892.5V100zM1894.5 100V2H1896.5V100zM1898.5 100V41H1900.5V47H1902.5V6H1904.5V13H1906.5V85H1908.5V11H1910.5V19H1912.5V8H1914.5V31H1916.5V17H1918.5V18H1920.5V9H1922.5V14H1924.5V18H1926.5V42H1928.5V33H1930.5V16H1932.5V4H1934.5V42H1936.5V32H1938.5V44H1940.5V100zM1942.5 100V27H1944.5V82H1946.5V27H1948.5V15H1950.5V31H1952.5V32H1954.5V100zM1956.5 100V19H1960.5V100zM1962.5 100V29H1964.5V100zM1966.5 100V42H1968.5V100zM1970.5 100V4H1972.5V28H1976.5V82H1978.5V9H1980.5V100zM1982.5 100V23H1984.5V27H1986.5V29H1988.5V83H1990.5V39H1992.5V21H1994.5V11H1996.5V7H1998.5V33H2000.5V26H2002.5V28H2004.5V19H2006.5V30H2008.5V31H2010.5V30H2012.5V15H2014.5V37H2016.5V19H2018.5V100zM2020.5 100V37H2022.5V100zM2024.5 100V34H2026.5V43H2028.5V44H2030.5V100zM2032.5 100V43H2034.5V35H2036.5V100zM2038.5 100V36H2040.5V44H2042.5V5H2044.5V100zM2046.5 100V7H2048.5V100zM2050.5 100V46H2052.5V40H2054.5V85H2056.5V47H2058.5V40H2060.5V46H2062.5V10H2064.5V85H2066.5V15H2067V100z"/>
<path fill="#81b7d7" d="M605 100V99H607V100zM611 100V99H613V100zM621 100V99H623V100zM643 100V99H645V100zM647 100V99H649V100zM653 100V99H655V100zM657 100V99H659V100zM663 100V99H665V100zM667 100V99H671V100zM683 100V99H685V100zM695 100V99H699V100zM735 100V99H737V100zM739 100V99H741V100zM751 100V99H753V100zM755 100V99H759V100zM763 100V99H765V100zM769 100V99H771V100zM775 100V99H777V100zM779 100V99H786.25V100zM861.75 100V99H863.75V100zM891.75 100V94H893.75V100zM895.75 100V99H897.75V100zM901.75 100V93H905.75V100zM907.75 100V99H909.75V100zM911.75 100V99H913.75V100zM915.75 100V99H917.75V100zM919.75 100V98H921.75V100zM923.75 100V98H925.75V100zM929.75 100V90H931.75V99H933.75V100zM939.75 100V98H941.75V100zM945.75 100V99H947.75V100zM955.75 100V97H957.75V100zM959.75 100V96H961.75V99H963.75V100zM969.75 100V97H971.75V98H973.75V96H975.75V100zM983.75 100V97H985.75V98H987.75V100zM989.75 100V98H991.75V88H993.75V100zM997.75 100V88H999.75V100zM1003.75 100V98H1005.75V100zM1009.75 100V94H1011.75V100zM1023.75 100V96H1025.75V100zM1029.75 100V98H1031.75V100zM1033.75 100V98H1037.75V96H1039.75V100zM1043.75 100V94H1045.75V95H1047.75V100zM1051.75 100V96H1053.75V90H1055.75V100zM1057.75 100V96H1059.75V100zM1063.75 100V92H1066V100zM1066 100V97H1068V100zM1072 100V97H1074V100zM1076 100V96H1078V99H1082V100zM1084 100V98H1086V96H1088V99H1092V98H1094V87H1096V100zM1098 100V99H1102V87H1104V98H1106V99H1107.5V100zM1107.5 100V99H1109.5V100zM1133.5 100V99H1135.5V100zM1137.5 100V88H1139.5V100zM1143.5 100V87H1145.5V100zM1159.5 100V97H1161.5V100zM1191.5 100V99H1193.5V100zM1203.5 100V98H1207.5V100zM1217.5 100V97H1219.5V100zM1227.5 100V95H1229.5V97H1231.5V100zM1237.5 100V97H1239.5V94H1241.5V93H1243.5V100zM1249.5 100V92H1251.5V100zM1253.5 100V92H1255.5V93H1259.5V95H1261.5V100zM1263.5 100V93H1265.5V94H1267.5V92H1271.5V93H1273.5V90H1277.5V96H1279.5V95H1281.5V91H1283.5V90H1285.5V86H1287.5V93H1289.5V85H1291.5V92H1293.5V90H1297.5V86H1299.5V91H1301.5V87H1305.5V91H1307.5V89H1309.5V84H1313.5V86H1315.5V90H1317.5V77H1319.5V85H1321.5V72H1323.5V79H1325.5V89H1327.5V80H1329.5V85H1331.5V86H1333.5V82H1335.75V100zM1341.5 100V2H1343.5V0H1353.5V2H1355.5V8H1357.5V0H1359.5V3H1361.5V10H1363.5V24H1365.5V9H1367.5V0H1369.5V19H1371.5V25H1373.5V0H1375.5V6H1377.5V29H1379.5V0H1381.5V30H1383.5V0H1387.5V26H1389.5V3H1391.5V0H1395.5V45H1397.5V0H1399.5V2H1401.5V31H1403.5V0H1405.5V15H1407.5V49H1409.5V23H1411.5V50H1415.5V61H1417.5V47H1419V100zM1536 100V0H1578V15H1580V100zM1608 100V78H1610V85H1612V84H1614V82H1616V78H1618V61H1620V75H1622V74H1624V69H1626V49H1628V58H1630V76H1632V75H1634V55H1636V73H1638V56H1640V40H1642V67H1644V66H1646V74H1648V76H1650V82H1652V78H1654V54H1656V83H1658V77H1660V75H1662V50H1664V85H1666V90H1668V78H1670V86H1672V90H1674V67H1676V66H1678V77H1678.5V100zM1768.5 100V74H1770.5V70H1772.5V95H1774.5V30H1776.5V54H1778.5V10H1780.5V64H1782.5V72H1784.5V62H1786.5V46H1788.5V38H1790.5V36H1792.5V88H1794.5V69H1796.5V55H1798.5V59H1800.5V82H1802.5V73H1804.5V68H1806.5V95H1808.5V66H1810.5V63H1814.5V40H1816.5V61H1818.5V32H1820.5V20H1822.5V46H1824.5V85H1826.5V72H1828.5V92H1830.5V64H1832.5V53H1834.5V65H1836.5V77H1838.5V14H1840.5V72H1842.5V93H1844.5V57H1848.5V54H1850.5V41H1852.5V38H1854.5V2H1856.5V56H1858.5V31H1860.5V35H1862.5V52H1864.5V57H1866.5V61H1868.5V86H1870.5V80H1872.5V54H1874.5V97H1876.5V96H1878.5V91H1880.5V95H1882.5V39H1884.5V95H1886.5V71H1888.5V17H1890.5V69H1892.5V52H1894.5V67H1896.5V5H1898.5V74H1900.5V71H1902.5V66H1904.5V80H1906.5V93H1908.5V48H1910.5V43H1912.5V26H1914.5V33H1916.5V78H1918.5V70H1920.5V51H1922.5V73H1924.5V51H1926.5V65H1928.5V80H1930.5V63H1934.5V79H1936.5V70H1938.5V63H1940.5V18H1942.5V73H1944.5V95H1946.5V72H1948.5V68H1950.5V72H1952.5V56H1954.5V15H1956.5V74H1958.5V59H1960.5V92H1962.5V76H1964.5V96H1966.5V43H1968.5V30H1970.5V64H1972.5V53H1974.5V63H1976.5V96H1978.5V10H1980.5V21H1982.5V74H1984.5V62H1986.5V56H1988.5V90H1990.5V51H1992.5V64H1994.5V50H1996.5V73H1998.5V61H2000.5V54H2002.5V59H2004.5V60H2006.5V64H2008.5V39H2010.5V49H2012.5V62H2014.5V51H2016.5V83H2018.5V95H2020.5V66H2022.5V31H2024.5V57H2026.5V56H2028.5V57H2030.5V26H2032.5V76H2034.5V81H2036.5V92H2038.5V65H2040.5V45H2042.5V64H2044.5V29H2046.5V67H2048.5V36H2050.5V67H2052.5V70H2054.5V94H2056.5V71H2058.5V82H2060.5V68H2062.5V78H2064.5V95H2066.5V74H2067V100z"/>
<path fill="#6297c6" d="M883.75 100V99H885.75V100zM891.75 100V96H893.75V100zM899.75 100V99H901.75V95H905.75V100zM921.75 100V99H923.75V100zM929.75 100V93H931.75V100zM947.75 100V98H949.75V99H951.75V100zM953.75 100V98H957.75V99H959.75V98H961.75V100zM967.75 100V99H969.75V98H971.75V100zM973.75 100V98H975.75V100zM977.75 100V98H979.75V100zM983.75 100V98H985.75V100zM987.75 100V98H989.75V100zM991.75 100V92H993.75V100zM995.75 100V99H997.75V92H999.75V100zM1001.75 100V99H1003.75V100zM1005.75 100V99H1007.75V100zM1009.75 100V95H1011.75V100zM1013.75 100V98H1015.75V100zM1019.75 100V99H1021.75V100zM1023.75 100V97H1025.75V100zM1027.75 100V98H1029.75V100zM1037.75 100V97H1039.75V99H1041.75V100zM1043.75 100V96H1045.75V97H1047.75V99H1049.75V100zM1051.75 100V97H1053.75V93H1055.75V100zM1057.75 100V97H1059.75V100zM1063.75 100V95H1066V100zM1109.5 100V99H1113.5V100zM1115.5 100V96H1117.5V100zM1121.5 100V99H1123.5V96H1125.5V99H1127.5V98H1129.5V100zM1137.5 100V90H1139.5V99H1143.5V89H1145.5V100zM1151.5 100V98H1153.5V100zM1155.5 100V99H1157.5V100zM1159.5 100V98H1161.5V100zM1163.5 100V99H1165.5V100zM1167.5 100V99H1169.5V100zM1195.5 100V99H1207.5V98H1219.5V100zM1223.5 100V98H1225.5V97H1227.5V96H1229.5V98H1231.5V97H1233.5V98H1239.5V95H1241.5V94H1243.5V98H1247.5V94H1249.5V93H1251.5V96H1253.5V93H1255.5V94H1259.5V96H1263.5V94H1265.5V95H1267.5V93H1269.5V94H1273.5V91H1277.5V97H1279.5V96H1281.5V92H1285.5V88H1287.5V95H1289.5V87H1291.5V93H1293.5V92H1297.5V88H1299.5V93H1301.5V88H1303.5V89H1305.5V92H1307.5V91H1309.5V86H1313.5V88H1315.5V92H1317.5V79H1319.5V88H1321.5V74H1323.5V81H1325.5V91H1327.5V83H1329.5V88H1333.5V84H1335.75V100zM1419 100V99H1421V100zM1431 100V99H1433V98H1435V100zM1437 100V98H1439V90H1443V89H1445V84H1447V82H1449V80H1451V79H1453V72H1455V68H1457V65H1459V63H1460V100zM1460 100V0H1470V2H1472V0H1476V3H1478V6H1480V9H1482V13H1484V15H1486V13H1488V14H1490V15H1494V18H1496V17H1498V2H1500V19H1502V2H1504V16H1506V2H1508V18H1510V16H1512V19H1514V18H1516V20H1520V21H1522V23H1524V27H1526V26H1528V3H1532V35H1534V32H1536V100zM1608 100V93H1610V100zM1618 100V82H1620V100zM1624 100V87H1626V78H1628V80H1630V100zM1632 100V95H1634V80H1636V100zM1638 100V79H1640V69H1642V89H1644V95H1646V100zM1648 100V95H1650V100zM1652 100V94H1654V75H1656V100zM1662 100V70H1664V100zM1668 100V95H1670V100zM1674 100V77H1676V73H1678V83H1678.5V100zM2072.5 100V81H2074.5V66H2076.5V92H2078.5V76H2080.5V73H2082.5V51H2084.5V61H2086.5V65H2088.5V57H2090.5V70H2092.5V90H2094.5V71H2096.5V56H2098.5V83H2100.5V82H2102.5V64H2104.5V90H2106.5V77H2108.5V93H2110.5V80H2112.5V86H2114.5V95H2116.5V100zM1768.5 100V84H1770.5V83H1772.5V100zM1774.5 100V48H1776.5V61H1778.5V29H1780.5V92H1782.5V86H1784.5V87H1786.5V52H1788.5V50H1790.5V53H1792.5V89H1794.5V88H1796.5V91H1798.5V82H1800.5V91H1802.5V82H1804.5V81H1806.5V96H1808.5V76H1810.5V74H1812.5V73H1814.5V50H1816.5V85H1818.5V40H1820.5V51H1822.5V68H1824.5V93H1828.5V97H1830.5V91H1832.5V93H1834.5V94H1836.5V86H1838.5V38H1840.5V90H1842.5V96H1844.5V82H1846.5V83H1848.5V77H1850.5V61H1852.5V51H1854.5V33H1856.5V67H1858.5V56H1860.5V43H1862.5V74H1864.5V69H1866.5V83H1868.5V91H1870.5V89H1872.5V63H1874.5V98H1878.5V92H1880.5V97H1882.5V68H1884.5V97H1886.5V84H1888.5V44H1890.5V77H1892.5V82H1894.5V80H1896.5V34H1898.5V89H1900.5V86H1902.5V94H1904.5V90H1906.5V98H1908.5V75H1910.5V72H1912.5V36H1914.5V57H1916.5V94H1918.5V78H1920.5V59H1922.5V90H1924.5V87H1926.5V93H1928.5V89H1932.5V93H1934.5V87H1936.5V81H1938.5V79H1940.5V45H1942.5V83H1944.5V97H1946.5V81H1948.5V79H1950.5V82H1952.5V70H1954.5V40H1956.5V84H1958.5V78H1960.5V100zM1962.5 100V84H1964.5V98H1966.5V78H1968.5V60H1970.5V93H1972.5V91H1974.5V81H1976.5V98H1978.5V22H1980.5V38H1982.5V88H1984.5V92H1986.5V79H1988.5V96H1990.5V78H1992.5V88H1994.5V74H1996.5V84H1998.5V79H2002.5V77H2004.5V91H2006.5V88H2008.5V78H2010.5V80H2012.5V91H2014.5V83H2016.5V92H2018.5V97H2020.5V78H2022.5V57H2024.5V79H2026.5V84H2028.5V78H2030.5V54H2032.5V93H2034.5V94H2038.5V90H2040.5V71H2042.5V79H2044.5V44H2046.5V81H2048.5V59H2050.5V88H2052.5V94H2054.5V100zM2056.5 100V89H2058.5V94H2060.5V89H2062.5V90H2064.5V99H2066.5V87H2067V100z"/>
<path fill="#4575b4" d="M138 100V99H140V100zM146 100V99H148V100zM156 100V99H158V100zM160 100V99H162V100zM166 100V76H168V100zM394 100V99H396V100zM406 100V99H408V100zM428 100V99H432V100zM442 100V99H444V100zM446 100V99H448V100zM454 100V99H456V100zM464 100V99H466V100zM474 100V99H476V100zM490 100V99H492V100zM494 100V99H498V100zM516 100V99H518V100zM532 100V99H534V100zM538 100V99H540V100zM546 100V99H550V100zM562 100V99H564V100zM574 100V99H576V100zM598 100V99H599.75V100zM891.75 100V98H893.75V100zM901.75 100V97H905.75V100zM919.75 100V99H921.75V100zM923.75 100V99H925.75V100zM929.75 100V96H931.75V100zM939.75 100V99H941.75V100zM947.75 100V99H949.75V100zM953.75 100V99H957.75V100zM959.75 100V99H961.75V100zM969.75 100V99H975.75V100zM977.75 100V99H979.75V100zM981.75 100V99H991.75V95H993.75V100zM997.75 100V95H999.75V99H1001.75V100zM1003.75 100V99H1005.75V100zM1009.75 100V97H1011.75V100zM1013.75 100V99H1017.75V100zM1023.75 100V98H1025.75V100zM1027.75 100V99H1031.75V100zM1033.75 100V99H1037.75V98H1039.75V100zM1043.75 100V98H1047.75V100zM1049.75 100V99H1053.75V96H1055.75V99H1059.75V100zM1063.75 100V97H1066V100zM1066 100V99H1068V100zM1072 100V99H1076V98H1078V100zM1084 100V99H1086V98H1088V100zM1092 100V99H1094V95H1096V100zM1102 100V94H1104V99H1106V100zM1115.5 100V99H1117.5V100zM1123.5 100V98H1125.5V100zM1137.5 100V95H1139.5V100zM1143.5 100V97H1145.5V100zM1151.5 100V99H1153.5V100zM1159.5 100V99H1161.5V100zM1209.5 100V99H1215.5V100zM1217.5 100V99H1249.5V98H1251.5V99H1253.5V98H1259.5V99H1261.5V98H1275.5V97H1277.5V98H1279.5V97H1287.5V98H1289.5V97H1291.5V98H1293.5V96H1301.5V97H1309.5V96H1313.5V97H1315.5V95H1331.5V96H1333.5V95H1335.75V100zM1347.5 100V97H1349.5V100zM1351.5 100V95H1353.5V100zM1359.5 100V88H1361.5V85H1363.5V100zM1367.5 100V87H1369.5V100zM1371.5 100V89H1373.5V84H1375.5V93H1377.5V100zM1381.5 100V90H1383.5V87H1385.5V84H1387.5V100zM1391.5 100V88H1393.5V100zM1397.5 100V88H1399.5V100zM1403.5 100V87H1405.5V85H1407.5V87H1411.5V100zM1415.5 100V88H1417.5V100zM1536 100V96H1540V100zM1542 100V96H1546V100zM1556 100V96H1558V100zM1568 100V96H1570V100zM1622 100V97H1624V100zM1628 100V97H1630V100zM1640 100V91H1642V100zM1654 100V95H1656V100zM1660 100V89H1662V100zM1678 100V97H1678.5V100zM1678.5 100V0H1680.5V1H1682.5V0H1684.5V2H1686.5V0H1688.5V1H1690.5V0H1694.5V2H1696.5V5H1698.5V6H1700.5V15H1702.5V8H1704.5V12H1706.5V11H1708.5V22H1710.5V11H1712.5V20H1714.5V25H1716.5V29H1718.5V20H1720.5V22H1722.5V24H1724.5V19H1726.5V33H1728.5V20H1730.5V47H1732.5V30H1734.5V22H1735V100zM2072.5 100V92H2074.5V85H2076.5V96H2078.5V89H2080.5V88H2082.5V78H2084.5V83H2086.5V84H2088.5V81H2090.5V87H2092.5V95H2094.5V87H2096.5V80H2098.5V93H2100.5V92H2102.5V84H2104.5V95H2106.5V90H2108.5V97H2110.5V91H2112.5V94H2114.5V98H2116.5V100zM1768.5 100V90H1770.5V96H1772.5V99H1774.5V57H1776.5V64H1778.5V44H1780.5V96H1786.5V65H1788.5V57H1790.5V64H1792.5V92H1794.5V93H1796.5V95H1798.5V89H1800.5V95H1806.5V98H1808.5V96H1810.5V91H1812.5V89H1814.5V53H1816.5V96H1818.5V51H1820.5V59H1822.5V80H1824.5V97H1828.5V100zM1830.5 100V97H1836.5V94H1838.5V51H1840.5V95H1842.5V99H1844.5V97H1846.5V98H1848.5V95H1850.5V68H1852.5V58H1854.5V37H1856.5V83H1858.5V59H1860.5V46H1862.5V83H1866.5V86H1868.5V92H1870.5V93H1872.5V68H1874.5V100zM1878.5 100V93H1880.5V98H1882.5V86H1884.5V99H1886.5V87H1888.5V48H1890.5V93H1894.5V86H1896.5V49H1898.5V96H1902.5V97H1904.5V95H1906.5V100zM1908.5 100V94H1910.5V87H1912.5V40H1914.5V62H1916.5V98H1920.5V71H1922.5V98H1928.5V96H1930.5V92H1932.5V98H1934.5V92H1936.5V88H1940.5V54H1942.5V87H1944.5V99H1946.5V95H1948.5V92H1950.5V87H1952.5V88H1954.5V55H1956.5V89H1960.5V98H1962.5V91H1964.5V99H1966.5V90H1968.5V69H1970.5V98H1972.5V96H1976.5V99H1978.5V33H1980.5V51H1982.5V92H1984.5V96H1986.5V98H1988.5V97H1990.5V98H1994.5V93H1996.5V91H1998.5V88H2000.5V87H2002.5V95H2006.5V98H2016.5V96H2018.5V99H2020.5V94H2022.5V61H2024.5V95H2028.5V94H2030.5V69H2032.5V96H2034.5V98H2036.5V96H2038.5V93H2040.5V85H2042.5V84H2044.5V56H2046.5V84H2048.5V68H2050.5V91H2052.5V98H2054.5V99H2056.5V98H2062.5V96H2064.5V100zM2066.5 100V94H2067V100z"/>
</g>
<g transform="translate(0,589.25) scale(1,0.8625)">
<path fill="#d73027" d="M177.75 100V0H213.25V100zM219.25 100V0H255V100zM337.5 100V0H339.5V100zM341.5 100V0H343.5V100zM347.5 100V0H349.5V100zM353.5 100V0H355.5V100zM372 100V0H384.5V100zM703 100V0H707V100zM713 100V0H719V100zM721 100V0H723V100zM729 100V0H731V100zM739 100V0H747V100zM749 100V0H761V100zM767 100V0H769V100zM773 100V0H777V100z"/>
<path fill="#e85337" d="M136 100V0H138V100zM140 100V0H146V100zM148 100V0H150V100zM156 100V0H162V100zM164 100V0H170V100zM260.5 100V0H312V100zM317.5 100V0H337.5V2H339.5V0H341.5V2H343.5V0H347.5V2H349.5V0H353.5V2H355.5V0H366.25V100zM550 100V0H552V100zM558 100V0H560V100zM578 100V0H580V100zM594 100V0H598V100z"/>
<path fill="#f57647" d="M136 100V2H138V0H140V2H146V0H148V2H150V0H156V2H162V0H164V2H170V0H172V100zM372 100V33H376V34H382V35H384.5V100zM390 100V0H550V1H552V0H558V2H560V0H578V2H580V0H594V2H598V0H599.75V100zM695 100V0H703V1H707V0H713V2H719V0H721V2H723V0H729V2H731V0H739V2H747V0H749V2H761V0H767V2H769V0H773V2H777V0H786.25V100zM2086.5 100V0H2088.5V100zM2098.5 100V0H2104.5V100zM2108.5 100V0H2110.5V100zM1890.5 100V0H1892.5V100zM1918.5 100V0H1922.5V100zM1928.5 100V0H1930.5V100zM1934.5 100V0H1936.5V100zM1946.5 100V0H1948.5V100zM1950.5 100V0H1952.5V100zM1962.5 100V0H1964.5V100z"/>
<path fill="#fa9b58" d="M136 100V60H138V59H140V60H142V61H144V59H146V56H148V55H150V52H152V51H154V47H156V49H158V44H162V39H164V38H166V37H168V36H170V30H172V100zM351.5 100V97H355.5V96H361.5V95H363.5V93H365.5V90H366.25V100zM372 100V71H376V70H380V72H382V74H384V75H384.5V100zM392 100V99H394V98H396V100zM402 100V99H404V100zM408 100V99H410V100zM418 100V99H420V100zM452 100V99H454V100zM460 100V99H462V100zM464 100V98H466V100zM474 100V98H476V100zM512 100V99H516V98H518V99H520V98H522V97H524V98H526V97H528V96H530V94H532V93H534V92H536V90H538V89H542V88H544V87H546V85H550V83H556V82H558V83H560V80H562V79H564V80H566V79H568V80H570V79H574V77H576V78H578V76H586V74H590V73H594V72H598V70H599.75V100zM605 100V0H695V1H699V2H703V4H705V3H707V5H709V3H711V4H713V8H715V6H717V11H719V8H721V9H725V12H727V15H729V14H731V15H733V16H735V17H737V18H741V19H743V22H745V23H747V19H749V25H751V20H753V24H755V25H757V23H759V24H761V19H763V24H765V23H767V25H769V23H771V21H773V28H775V26H777V25H779V22H781V25H783V23H786.25V100zM1107.5 100V0H1109.5V100zM1121.5 100V0H1123.5V100zM1127.5 100V0H1129.5V100zM1135.5 100V0H1137.5V100zM1179.5 100V0H1181.5V100zM1197.5 100V0H1199.5V100zM1215.5 100V0H1217.5V100zM1225.5 100V0H1227.5V100zM1241.5 100V0H1243.5V100zM1249.5 100V0H1251.5V100zM1261.5 100V0H1265.5V100zM1297.5 100V0H1299.5V100zM1301.5 100V0H1307.5V100zM1309.5 100V0H1311.5V100zM1642 100V0H1646V100zM1648 100V0H1654V100zM1680.5 100V0H1684.5V100zM1692.5 100V0H1694.5V100zM1708.5 100V0H1710.5V100zM1716.5 100V0H1718.5V100zM1730.5 100V0H1732.5V100z"/>
<path fill="#fdbc6e" d="M803.75 100V0H805.75V100zM819.75 100V0H821.75V100zM823.75 100V0H825.75V100zM827.75 100V0H829.75V100zM835.75 100V0H1066V100zM1107.5 100V2H1109.5V0H1121.5V2H1123.5V0H1127.5V2H1129.5V0H1135.5V2H1137.5V0H1179.5V2H1181.5V0H1197.5V2H1199.5V0H1215.5V2H1217.5V0H1225.5V2H1227.5V0H1241.5V2H1243.5V0H1249.5V2H1251.5V0H1261.5V2H1265.5V0H1297.5V2H1299.5V0H1301.5V2H1307.5V0H1309.5V2H1311.5V0H1335.75V100zM1341.5 100V0H1343.5V100zM1355.5 100V0H1357.5V100zM1361.5 100V0H1367.5V100zM1371.5 100V0H1373.5V100zM1375.5 100V0H1377.5V100zM1395.5 100V0H1397.5V100zM1401.5 100V0H1403.5V100zM1407.5 100V0H1409.5V100zM1411.5 100V0H1419V100zM1470 100V0H1472V100zM1476 100V0H1536V100zM1576 100V0H1580V100zM1684.5 100V0H1686.5V100zM1688.5 100V0H1690.5V100zM1694.5 100V0H1708.5V3H1710.5V0H1716.5V3H1718.5V0H1730.5V3H1732.5V0H1735V100zM2072.5 100V0H2086.5V5H2088.5V0H2098.5V5H2104.5V0H2108.5V5H2110.5V0H2116.5V100zM1860.5 100V0H1862.5V100zM1868.5 100V0H1870.5V100zM1878.5 100V0H1880.5V100zM1882.5 100V0H1888.5V100zM1890.5 100V1H1892.5V0H1918.5V8H1922.5V0H1928.5V9H1930.5V0H1934.5V9H1936.5V0H1946.5V9H1948.5V0H1950.5V10H1952.5V0H1962.5V10H1964.5V0H2067V100z"/>
<path fill="#fed989" d="M138 100V96H140V100zM142 100V81H144V100zM146 100V95H148V100zM156 100V96H158V100zM160 100V93H162V84H164V100zM166 100V46H168V100zM444 100V99H446V98H448V100zM454 100V98H456V100zM506 100V99H510V100zM520 100V99H532V98H538V97H540V99H542V98H546V97H548V98H558V99H560V98H562V97H564V98H574V97H576V98H578V97H580V98H586V97H592V98H594V97H596V98H598V96H599.75V100zM679 100V99H681V100zM685 100V98H689V100zM691 100V98H693V99H695V97H697V100zM709 100V97H711V96H713V100zM715 100V98H719V100zM723 100V98H729V97H731V100zM739 100V97H741V100zM743 100V92H745V100zM757 100V96H761V100zM763 100V96H765V100zM771 100V93H773V100zM775 100V96H777V100zM779 100V96H781V100zM783 100V96H786.25V100zM791.75 100V0H803.75V1H805.75V0H819.75V1H821.75V0H823.75V1H825.75V0H827.75V2H829.75V0H835.75V4H837.75V2H839.75V4H841.75V5H849.75V4H851.75V7H853.75V5H855.75V6H857.75V8H861.75V7H863.75V6H865.75V13H867.75V7H869.75V10H871.75V8H873.75V10H875.75V8H877.75V10H879.75V9H881.75V7H883.75V14H885.75V12H887.75V14H889.75V10H891.75V8H893.75V12H895.75V13H897.75V10H901.75V11H903.75V10H905.75V13H907.75V12H909.75V10H911.75V11H913.75V14H915.75V19H917.75V12H919.75V14H921.75V20H923.75V17H925.75V14H927.75V19H929.75V14H931.75V16H933.75V11H939.75V16H943.75V11H945.75V21H947.75V18H949.75V17H951.75V12H953.75V18H955.75V15H957.75V19H959.75V21H961.75V16H965.75V19H967.75V12H969.75V19H971.75V16H973.75V22H975.75V17H977.75V20H979.75V19H983.75V18H987.75V24H989.75V20H991.75V22H993.75V16H995.75V14H997.75V26H999.75V16H1001.75V22H1003.75V14H1005.75V19H1009.75V15H1011.75V17H1013.75V15H1015.75V25H1017.75V21H1019.75V30H1021.75V19H1023.75V29H1025.75V17H1027.75V28H1029.75V19H1031.75V21H1033.75V17H1035.75V16H1037.75V34H1039.75V18H1041.75V25H1043.75V22H1045.75V24H1047.75V25H1049.75V27H1055.75V25H1057.75V18H1059.75V26H1061.75V18H1063.75V23H1066V100zM1107.5 100V94H1109.5V100zM1115.5 100V92H1117.5V100zM1119.5 100V98H1121.5V100zM1123.5 100V88H1125.5V94H1127.5V100zM1131.5 100V88H1133.5V85H1135.5V91H1137.5V77H1139.5V86H1141.5V88H1143.5V79H1145.5V80H1147.5V74H1149.5V78H1151.5V71H1153.5V73H1155.5V74H1157.5V70H1159.5V69H1163.5V79H1165.5V64H1167.5V72H1169.5V70H1171.5V61H1173.5V66H1175.5V54H1177.5V57H1179.5V60H1181.5V59H1183.5V62H1185.5V58H1187.5V65H1189.5V53H1191.5V60H1193.5V45H1195.5V51H1197.5V46H1199.5V43H1201.5V58H1203.5V43H1205.5V37H1207.5V45H1209.5V59H1211.5V41H1213.5V42H1215.5V63H1217.5V38H1219.5V44H1221.5V55H1223.5V31H1225.5V57H1227.5V53H1229.5V39H1231.5V35H1233.5V29H1235.5V34H1237.5V29H1239.5V41H1241.5V44H1243.5V30H1245.5V42H1247.5V44H1249.5V34H1251.5V33H1253.5V28H1255.5V47H1257.5V34H1259.5V48H1261.5V34H1263.5V28H1265.5V36H1267.5V48H1269.5V36H1271.5V35H1273.5V33H1275.5V36H1277.5V38H1279.5V49H1281.5V32H1283.5V36H1285.5V26H1287.5V27H1289.5V39H1291.5V31H1293.5V37H1295.5V17H1297.5V39H1299.5V25H1301.5V34H1303.5V28H1305.5V31H1307.5V47H1309.5V23H1311.5V47H1313.5V37H1315.5V17H1317.5V26H1319.5V20H1321.5V26H1327.5V21H1329.5V31H1331.5V41H1333.5V22H1335.75V100z"/>
<path fill="#feeda4" d="M1066 100V0H1107.5V100zM1113.5 100V99H1115.5V100zM1129.5 100V95H1131.5V100zM1135.5 100V96H1137.5V100zM1139.5 100V87H1141.5V94H1143.5V100zM1145.5 100V81H1147.5V85H1149.5V100zM1151.5 100V79H1153.5V77H1155.5V92H1157.5V89H1159.5V81H1161.5V84H1163.5V95H1165.5V76H1167.5V100zM1169.5 100V86H1171.5V90H1173.5V93H1175.5V71H1177.5V88H1179.5V78H1181.5V88H1183.5V80H1185.5V86H1187.5V90H1189.5V80H1191.5V92H1193.5V77H1195.5V70H1197.5V67H1199.5V81H1201.5V84H1203.5V78H1205.5V66H1207.5V79H1211.5V71H1213.5V76H1215.5V91H1217.5V72H1219.5V81H1221.5V100zM1223.5 100V56H1225.5V100zM1227.5 100V86H1229.5V64H1231.5V73H1233.5V56H1235.5V63H1237.5V59H1239.5V74H1241.5V71H1243.5V70H1245.5V81H1247.5V73H1249.5V76H1251.5V57H1253.5V53H1255.5V100zM1257.5 100V61H1259.5V75H1261.5V57H1265.5V60H1267.5V100zM1269.5 100V58H1271.5V65H1273.5V72H1275.5V69H1277.5V67H1279.5V73H1281.5V72H1283.5V59H1285.5V58H1287.5V56H1289.5V100zM1291.5 100V64H1293.5V100zM1295.5 100V58H1297.5V100zM1299.5 100V56H1301.5V66H1303.5V100zM1315.5 100V53H1317.5V54H1319.5V55H1321.5V49H1323.5V47H1325.5V100zM1333.5 100V47H1335.75V100z"/>
<path fill="#ffffbf" d="M138 100V97H140V100zM142 100V90H144V100zM146 100V97H148V100zM156 100V97H158V100zM160 100V96H162V92H164V100zM166 100V64H168V100zM1341.5 100V4H1343.5V0H1355.5V6H1357.5V0H1361.5V16H1363.5V18H1365.5V14H1367.5V0H1371.5V26H1373.5V0H1375.5V25H1377.5V0H1395.5V20H1397.5V0H1401.5V21H1403.5V0H1407.5V31H1409.5V0H1411.5V32H1415.5V34H1417.5V33H1419V100zM1560 100V0H1576V1H1578V11H1580V100zM1608 100V0H1612V100zM1616 100V0H1618V100zM1620 100V0H1626V100zM1628 100V0H1634V100zM1638 100V0H1642V6H1646V0H1648V8H1650V7H1652V5H1654V0H1656V100zM1660 100V0H1662V100zM1666 100V0H1668V100zM1670 100V0H1672V100zM1676 100V0H1678.5V100zM1692.5 100V3H1694.5V100zM1712.5 100V12H1714.5V100zM1718.5 100V14H1720.5V100zM1722.5 100V18H1724.5V100zM1732.5 100V23H1734.5V100zM1768.5 100V0H1860.5V1H1862.5V0H1868.5V1H1870.5V0H1878.5V1H1880.5V0H1882.5V2H1886.5V3H1888.5V0H1890.5V3H1894.5V1H1896.5V4H1900.5V1H1904.5V6H1910.5V1H1912.5V7H1914.5V1H1916.5V9H1918.5V18H1920.5V9H1922.5V10H1928.5V21H1930.5V12H1932.5V1H1934.5V21H1936.5V14H1940.5V2H1946.5V25H1948.5V15H1950.5V26H1952.5V17H1954.5V14H1956.5V17H1958.5V18H1960.5V16H1962.5V29H1964.5V17H1966.5V19H1970.5V2H1972.5V20H1974.5V22H1976.5V3H1978.5V2H1980.5V17H1982.5V23H1986.5V24H1988.5V3H1990.5V24H1992.5V3H1998.5V27H2000.5V26H2002.5V27H2004.5V3H2006.5V29H2008.5V30H2012.5V3H2014.5V31H2016.5V4H2018.5V24H2020.5V32H2022.5V30H2024.5V33H2026.5V32H2028.5V35H2030.5V29H2032.5V35H2036.5V26H2038.5V35H2040.5V37H2042.5V4H2044.5V29H2046.5V4H2048.5V32H2050.5V38H2054.5V5H2056.5V41H2058.5V40H2060.5V42H2062.5V5H2067V100z"/>
<path fill="#edf8e0" d="M1419 100V0H1460V100z"/>
<path fill="#d8eff6" d="M1419 100V99H1421V100zM1423 100V99H1425V100zM1431 100V98H1433V97H1435V100zM1437 100V99H1439V81H1441V91H1443V88H1445V80H1447V65H1449V73H1453V53H1455V66H1457V69H1459V68H1460V100zM1460 100V0H1470V2H1472V0H1476V3H1478V6H1480V9H1482V13H1484V15H1486V13H1488V14H1490V15H1494V18H1496V17H1498V2H1500V19H1502V2H1504V16H1506V2H1508V18H1510V16H1512V19H1514V18H1516V20H1520V21H1522V23H1524V27H1526V26H1528V3H1532V35H1534V32H1536V100zM1608 100V5H1612V0H1616V6H1618V0H1620V7H1626V0H1628V8H1632V9H1634V0H1638V9H1640V10H1642V16H1646V10H1648V18H1650V17H1652V15H1654V10H1656V0H1660V10H1662V0H1666V10H1668V0H1670V10H1672V0H1676V10H1678.5V100zM2072.5 100V57H2074.5V55H2076.5V57H2078.5V50H2080.5V49H2082.5V47H2084.5V49H2086.5V51H2088.5V50H2090.5V45H2092.5V47H2096.5V43H2098.5V53H2100.5V54H2102.5V49H2104.5V44H2106.5V42H2108.5V51H2110.5V45H2114.5V39H2116.5V100zM1768.5 100V7H1770.5V33H1772.5V45H1774.5V21H1776.5V46H1778.5V12H1780.5V29H1782.5V26H1784.5V18H1786.5V46H1788.5V43H1790.5V6H1792.5V84H1794.5V77H1796.5V11H1798.5V6H1800.5V32H1802.5V10H1804.5V14H1806.5V85H1808.5V56H1810.5V63H1812.5V25H1814.5V14H1816.5V27H1818.5V14H1820.5V15H1822.5V52H1824.5V33H1826.5V29H1828.5V85H1830.5V42H1832.5V27H1834.5V51H1836.5V10H1838.5V23H1840.5V53H1842.5V85H1844.5V7H1846.5V65H1848.5V50H1850.5V49H1852.5V6H1854.5V8H1856.5V38H1858.5V7H1860.5V38H1862.5V51H1864.5V22H1866.5V40H1868.5V82H1870.5V18H1872.5V6H1874.5V85H1878.5V86H1880.5V85H1882.5V13H1884.5V87H1886.5V23H1888.5V30H1890.5V14H1892.5V68H1894.5V7H1896.5V10H1898.5V61H1900.5V68H1902.5V16H1904.5V25H1906.5V88H1908.5V21H1910.5V38H1912.5V14H1914.5V52H1916.5V32H1918.5V40H1920.5V31H1922.5V26H1924.5V34H1926.5V71H1928.5V65H1930.5V25H1932.5V13H1934.5V80H1936.5V54H1938.5V71H1940.5V37H1942.5V54H1944.5V87H1946.5V54H1948.5V20H1950.5V63H1952.5V54H1954.5V24H1956.5V28H1958.5V23H1960.5V89H1962.5V54H1964.5V93H1966.5V66H1968.5V50H1970.5V10H1972.5V46H1974.5V43H1976.5V88H1978.5V22H1980.5V29H1982.5V28H1984.5V40H1986.5V41H1988.5V86H1990.5V62H1992.5V49H1994.5V28H1996.5V19H1998.5V49H2000.5V30H2002.5V35H2004.5V43H2006.5V33H2010.5V35H2014.5V50H2016.5V42H2018.5V93H2020.5V49H2022.5V45H2024.5V38H2026.5V62H2028.5V59H2030.5V32H2032.5V57H2034.5V38H2036.5V90H2038.5V44H2040.5V54H2042.5V8H2044.5V32H2046.5V14H2048.5V47H2050.5V59H2052.5V45H2054.5V90H2056.5V56H2058.5V43H2060.5V53H2062.5V20H2064.5V90H2066.5V28H2067V100z"/>
<path fill="#bae0ed" d="M1536 100V0H1560V5H1562V16H1564V18H1566V20H1568V23H1570V25H1572V27H1574V29H1576V19H1580V100z"/>
<path fill="#9bcce2" d="M863.75 100V99H867.75V100zM883.75 100V98H885.75V100zM891.75 100V88H893.75V100zM899.75 100V98H901.75V86H905.75V100zM919.75 100V97H921.75V98H923.75V97H925.75V100zM929.75 100V81H931.75V100zM939.75 100V96H941.75V100zM947.75 100V96H949.75V98H951.75V100zM953.75 100V95H957.75V98H959.75V93H961.75V100zM967.75 100V98H969.75V94H971.75V96H973.75V93H975.75V100zM977.75 100V95H979.75V100zM981.75 100V97H983.75V94H985.75V96H991.75V76H993.75V100zM997.75 100V76H999.75V97H1001.75V100zM1003.75 100V97H1005.75V98H1007.75V100zM1009.75 100V87H1011.75V100zM1013.75 100V95H1015.75V97H1017.75V100zM1023.75 100V91H1025.75V100zM1027.75 100V96H1029.75V97H1031.75V100zM1033.75 100V96H1035.75V97H1037.75V92H1039.75V100zM1043.75 100V88H1045.75V90H1047.75V98H1049.75V97H1051.75V93H1053.75V80H1055.75V97H1057.75V93H1059.75V100zM1063.75 100V85H1066V100zM1066 100V96H1068V100zM1072 100V96H1074V98H1076V95H1078V100zM1084 100V97H1086V95H1088V100zM1090 100V98H1092V100zM1094 100V82H1096V99H1098V98H1100V100zM1102 100V81H1104V100zM1115.5 100V96H1117.5V100zM1119.5 100V99H1121.5V100zM1123.5 100V94H1125.5V100zM1133.5 100V96H1135.5V100zM1137.5 100V87H1139.5V100zM1143.5 100V90H1145.5V100zM1151.5 100V97H1153.5V100zM1157.5 100V98H1159.5V97H1161.5V100zM1167.5 100V97H1169.5V100zM1195.5 100V99H1199.5V93H1201.5V100zM1211.5 100V95H1213.5V100zM1215.5 100V95H1217.5V92H1219.5V91H1223.5V95H1225.5V100zM1227.5 100V91H1229.5V94H1231.5V89H1233.5V100zM1235.5 100V92H1237.5V100zM1239.5 100V89H1241.5V91H1243.5V86H1247.5V89H1249.5V83H1251.5V90H1253.5V88H1255.5V83H1257.5V87H1261.5V88H1263.5V85H1267.5V82H1269.5V84H1271.5V81H1273.5V76H1275.5V77H1277.5V80H1281.5V73H1283.5V80H1285.5V75H1287.5V77H1289.5V73H1291.5V74H1293.5V72H1295.5V67H1297.5V71H1299.5V69H1301.5V70H1303.5V66H1305.5V67H1307.5V74H1309.5V62H1311.5V71H1313.5V69H1315.5V61H1317.5V62H1319.5V57H1321.5V62H1325.5V60H1327.5V57H1329.5V59H1331.5V65H1333.5V59H1335.75V100zM1580 100V0H1608V100z"/>
<path fill="#7cb3d4" d="M605 100V99H607V100zM611 100V99H613V100zM621 100V99H623V100zM643 100V99H645V100zM647 100V99H649V100zM653 100V99H655V100zM657 100V99H659V100zM663 100V99H665V100zM667 100V99H671V100zM683 100V99H685V100zM695 100V99H699V100zM735 100V99H737V100zM739 100V99H741V100zM751 100V99H753V100zM755 100V99H759V100zM763 100V99H765V100zM769 100V99H771V100zM775 100V99H777V100zM779 100V99H786.25V100zM853.75 100V99H855.75V100zM861.75 100V99H863.75V100zM883.75 100V99H885.75V100zM891.75 100V92H893.75V99H897.75V100zM899.75 100V99H901.75V90H905.75V99H917.75V100zM919.75 100V98H921.75V99H923.75V98H925.75V100zM927.75 100V99H929.75V87H931.75V99H933.75V100zM939.75 100V97H941.75V99H943.75V100zM945.75 100V99H947.75V97H949.75V99H951.75V100zM953.75 100V97H955.75V96H957.75V99H959.75V95H961.75V99H963.75V100zM967.75 100V99H969.75V96H971.75V97H973.75V95H975.75V100zM977.75 100V97H979.75V100zM981.75 100V98H983.75V96H985.75V97H991.75V83H993.75V100zM995.75 100V99H997.75V83H999.75V98H1001.75V99H1003.75V98H1005.75V99H1007.75V100zM1009.75 100V91H1011.75V100zM1013.75 100V97H1015.75V98H1017.75V100zM1019.75 100V98H1021.75V100zM1023.75 100V94H1025.75V100zM1027.75 100V97H1029.75V98H1031.75V100zM1033.75 100V97H1035.75V98H1037.75V94H1039.75V98H1041.75V100zM1043.75 100V92H1045.75V93H1047.75V99H1049.75V98H1051.75V95H1053.75V86H1055.75V98H1057.75V95H1059.75V100zM1063.75 100V90H1066V100zM1066 100V97H1068V100zM1072 100V97H1074V99H1076V96H1078V99H1082V100zM1084 100V98H1086V96H1088V99H1092V98H1094V87H1096V100zM1098 100V99H1102V87H1104V98H1106V99H1107.5V100zM1107.5 100V98H1109.5V100zM1115.5 100V97H1117.5V100zM1123.5 100V95H1125.5V98H1127.5V100zM1131.5 100V97H1135.5V100zM1137.5 100V90H1139.5V100zM1143.5 100V93H1145.5V100zM1149.5 100V97H1151.5V100zM1155.5 100V98H1157.5V99H1159.5V100zM1167.5 100V98H1169.5V100zM1171.5 100V98H1173.5V99H1175.5V100zM1177.5 100V98H1179.5V100zM1181.5 100V98H1183.5V100zM1185.5 100V98H1187.5V99H1189.5V98H1191.5V96H1195.5V100zM1199.5 100V94H1201.5V97H1203.5V94H1205.5V96H1207.5V94H1209.5V100zM1211.5 100V96H1213.5V93H1215.5V96H1217.5V93H1219.5V92H1223.5V96H1225.5V91H1227.5V92H1229.5V95H1231.5V90H1233.5V93H1237.5V91H1239.5V90H1241.5V92H1243.5V87H1247.5V90H1249.5V84H1251.5V91H1253.5V90H1255.5V84H1257.5V88H1261.5V89H1263.5V86H1265.5V87H1267.5V83H1269.5V85H1271.5V83H1273.5V78H1275.5V79H1277.5V82H1281.5V75H1283.5V82H1285.5V77H1287.5V79H1289.5V75H1291.5V76H1293.5V74H1295.5V70H1297.5V74H1299.5V72H1303.5V69H1307.5V76H1309.5V65H1311.5V74H1313.5V71H1315.5V64H1317.5V66H1319.5V61H1321.5V66H1325.5V64H1327.5V61H1329.5V63H1331.5V68H1333.5V62H1335.75V100zM1351.5 100V98H1353.5V100zM1359.5 100V86H1361.5V95H1363.5V100zM1367.5 100V85H1369.5V100zM1371.5 100V81H1373.5V84H1375.5V90H1377.5V100zM1381.5 100V93H1383.5V100zM1385.5 100V90H1387.5V100zM1389.5 100V82H1391.5V74H1393.5V100zM1397.5 100V67H1399.5V100zM1403.5 100V70H1405.5V69H1407.5V73H1409.5V66H1411.5V100zM1413.5 100V74H1415.5V64H1417.5V100zM1439 100V89H1441V100zM1447 100V87H1449V100zM1453 100V86H1455V100zM1460 100V94H1462V100zM1466 100V90H1468V100zM1488 100V92H1490V100zM1502 100V93H1504V100zM1522 100V88H1524V100zM1526 100V92H1528V100zM1536 100V80H1540V100zM1542 100V80H1546V100zM1556 100V80H1558V100zM1568 100V80H1570V100zM1608 100V27H1610V26H1612V24H1614V26H1616V11H1618V27H1620V13H1622V12H1626V9H1628V36H1630V25H1632V36H1634V17H1636V25H1638V38H1640V19H1642V22H1644V36H1646V41H1648V28H1652V43H1656V11H1658V41H1660V20H1662V13H1664V9H1666V19H1668V10H1670V52H1672V14H1674V11H1676V23H1678V43H1678.5V100zM2072.5 100V69H2074.5V61H2076.5V64H2078.5V54H2080.5V56H2082.5V58H2084.5V57H2086.5V56H2088.5V62H2090.5V53H2092.5V52H2094.5V54H2096.5V49H2098.5V64H2100.5V62H2102.5V57H2104.5V55H2106.5V51H2108.5V56H2110.5V49H2112.5V50H2114.5V49H2116.5V100zM1780.5 100V37H1782.5V31H1784.5V25H1786.5V100zM1790.5 100V12H1792.5V100zM1794.5 100V84H1796.5V20H1798.5V13H1800.5V35H1802.5V13H1804.5V18H1806.5V88H1808.5V59H1810.5V100zM1812.5 100V28H1814.5V18H1816.5V34H1818.5V17H1820.5V23H1822.5V100zM1824.5 100V36H1826.5V35H1828.5V94H1830.5V49H1832.5V37H1834.5V59H1836.5V13H1838.5V100zM1840.5 100V59H1842.5V91H1844.5V14H1846.5V100zM1848.5 100V57H1850.5V100zM1852.5 100V10H1854.5V17H1856.5V42H1858.5V14H1860.5V41H1862.5V57H1864.5V26H1866.5V47H1868.5V100zM1870.5 100V21H1872.5V9H1874.5V89H1876.5V90H1878.5V89H1880.5V90H1882.5V21H1884.5V92H1886.5V27H1888.5V100zM1890.5 100V16H1892.5V100zM1894.5 100V12H1896.5V100zM1898.5 100V66H1900.5V73H1902.5V23H1904.5V28H1906.5V100zM1908.5 100V29H1910.5V46H1912.5V17H1914.5V100zM1916.5 100V37H1918.5V42H1920.5V34H1922.5V31H1924.5V43H1926.5V79H1928.5V68H1930.5V33H1932.5V22H1934.5V82H1936.5V58H1938.5V100zM1942.5 100V58H1944.5V91H1946.5V57H1948.5V24H1950.5V65H1952.5V59H1954.5V100zM1956.5 100V31H1958.5V29H1960.5V100zM1962.5 100V56H1964.5V100zM1970.5 100V18H1972.5V55H1974.5V49H1976.5V93H1978.5V100zM1982.5 100V33H1984.5V48H1988.5V100zM1992.5 100V56H1994.5V35H1996.5V23H1998.5V54H2000.5V37H2002.5V41H2004.5V52H2006.5V40H2008.5V43H2010.5V44H2012.5V43H2014.5V59H2016.5V45H2018.5V100zM2020.5 100V53H2022.5V100zM2024.5 100V44H2026.5V70H2028.5V65H2030.5V100zM2032.5 100V62H2034.5V43H2036.5V100zM2038.5 100V51H2040.5V62H2042.5V13H2044.5V100zM2046.5 100V18H2048.5V100zM2050.5 100V66H2052.5V52H2054.5V100zM2056.5 100V61H2058.5V47H2060.5V59H2062.5V24H2064.5V97H2066.5V32H2067V100z"/>
<path fill="#6095c5" d="M891.75 100V98H893.75V100zM901.75 100V97H905.75V100zM919.75 100V99H921.75V100zM923.75 100V99H925.75V100zM929.75 100V96H931.75V100zM939.75 100V99H941.75V100zM947.75 100V99H949.75V100zM953.75 100V99H957.75V100zM959.75 100V99H961.75V100zM969.75 100V99H975.75V100zM977.75 100V99H979.75V100zM981.75 100V99H991.75V95H993.75V100zM997.75 100V95H999.75V99H1001.75V100zM1003.75 100V99H1005.75V100zM1009.75 100V97H1011.75V100zM1013.75 100V99H1017.75V100zM1023.75 100V98H1025.75V100zM1027.75 100V99H1031.75V100zM1033.75 100V99H1037.75V98H1039.75V100zM1043.75 100V98H1047.75V100zM1049.75 100V99H1053.75V96H1055.75V99H1059.75V100zM1063.75 100V97H1066V100zM1109.5 100V99H1113.5V100zM1115.5 100V98H1117.5V100zM1121.5 100V99H1123.5V97H1125.5V100zM1127.5 100V99H1129.5V100zM1137.5 100V92H1139.5V99H1143.5V94H1145.5V100zM1151.5 100V98H1153.5V100zM1155.5 100V99H1157.5V100zM1159.5 100V98H1161.5V100zM1163.5 100V99H1165.5V100zM1167.5 100V99H1169.5V100zM1201.5 100V99H1227.5V98H1241.5V97H1243.5V98H1247.5V97H1265.5V96H1267.5V97H1269.5V95H1271.5V96H1275.5V95H1277.5V96H1279.5V95H1289.5V94H1291.5V95H1293.5V94H1295.5V93H1299.5V92H1301.5V94H1303.5V93H1307.5V95H1309.5V92H1311.5V93H1313.5V94H1315.5V91H1317.5V90H1319.5V89H1325.5V92H1327.5V90H1331.5V93H1333.5V90H1335.75V100zM1351.5 100V99H1353.5V100zM1359.5 100V94H1361.5V98H1363.5V100zM1367.5 100V94H1369.5V100zM1371.5 100V92H1373.5V94H1375.5V96H1377.5V100zM1381.5 100V97H1383.5V100zM1385.5 100V96H1387.5V100zM1389.5 100V93H1391.5V90H1393.5V100zM1397.5 100V87H1399.5V100zM1403.5 100V88H1407.5V89H1409.5V86H1411.5V100zM1413.5 100V90H1415.5V86H1417.5V100zM1678.5 100V0H1680.5V3H1684.5V1H1686.5V0H1688.5V1H1690.5V0H1692.5V11H1694.5V2H1696.5V3H1698.5V7H1700.5V10H1702.5V9H1704.5V13H1708.5V18H1710.5V13H1712.5V20H1714.5V16H1716.5V22H1720.5V24H1722.5V26H1724.5V23H1726.5V33H1728.5V23H1730.5V34H1732.5V31H1734.5V26H1735V100zM2074.5 100V78H2076.5V100zM2080.5 100V89H2082.5V100zM2084.5 100V81H2086.5V85H2088.5V100zM2090.5 100V89H2092.5V100zM2094.5 100V89H2096.5V100zM2098.5 100V69H2100.5V100zM2102.5 100V79H2104.5V85H2106.5V89H2108.5V100zM1768.5 100V9H1770.5V35H1772.5V100zM1774.5 100V25H1776.5V47H1778.5V17H1780.5V39H1782.5V41H1784.5V52H1786.5V48H1788.5V47H1790.5V49H1792.5V88H1794.5V85H1796.5V89H1798.5V79H1800.5V89H1802.5V75H1804.5V73H1806.5V95H1808.5V66H1812.5V65H1814.5V49H1816.5V79H1818.5V35H1820.5V46H1822.5V59H1824.5V92H1826.5V91H1828.5V95H1830.5V89H1832.5V91H1834.5V93H1836.5V82H1838.5V30H1840.5V88H1842.5V95H1844.5V75H1846.5V73H1848.5V68H1850.5V55H1852.5V47H1854.5V24H1856.5V59H1858.5V55H1860.5V42H1862.5V70H1864.5V63H1866.5V81H1868.5V90H1870.5V87H1872.5V61H1874.5V98H1878.5V91H1880.5V97H1882.5V59H1884.5V97H1886.5V83H1888.5V38H1890.5V70H1892.5V76H1894.5V77H1896.5V18H1898.5V86H1900.5V81H1902.5V93H1904.5V88H1906.5V97H1908.5V66H1910.5V65H1912.5V35H1914.5V58H1916.5V93H1918.5V68H1920.5V53H1922.5V87H1924.5V81H1926.5V91H1928.5V86H1930.5V87H1932.5V92H1934.5V85H1936.5V77H1938.5V76H1940.5V44H1942.5V82H1944.5V97H1946.5V74H1948.5V73H1950.5V80H1952.5V61H1954.5V31H1956.5V83H1958.5V73H1960.5V98H1962.5V81H1964.5V98H1966.5V75H1968.5V57H1970.5V92H1972.5V89H1974.5V74H1976.5V98H1978.5V25H1980.5V34H1982.5V87H1984.5V90H1986.5V70H1988.5V96H1990.5V69H1992.5V84H1994.5V65H1996.5V81H1998.5V75H2000.5V76H2002.5V68H2004.5V89H2006.5V84H2008.5V69H2010.5V72H2012.5V88H2014.5V76H2016.5V91H2018.5V97H2020.5V70H2022.5V52H2024.5V71H2026.5V79H2028.5V70H2030.5V40H2032.5V91H2034.5V93H2038.5V89H2040.5V63H2042.5V78H2044.5V37H2046.5V80H2048.5V53H2050.5V87H2052.5V93H2054.5V100zM2056.5 100V85H2058.5V92H2060.5V85H2062.5V88H2064.5V99H2066.5V85H2067V100z"/>
<path fill="#4575b4" d="M138 100V99H140V100zM146 100V99H148V100zM156 100V99H158V100zM160 100V99H162V100zM166 100V82H168V100zM394 100V99H396V100zM406 100V99H408V100zM428 100V99H432V100zM442 100V99H444V100zM446 100V99H448V100zM454 100V99H456V100zM464 100V99H466V100zM474 100V99H476V100zM490 100V99H492V100zM494 100V99H498V100zM516 100V99H518V100zM532 100V99H534V100zM538 100V99H540V100zM546 100V99H550V100zM562 100V99H564V100zM574 100V99H576V100zM598 100V99H599.75V100zM1608 100V98H1610V100zM1618 100V97H1620V100zM1626 100V97H1630V100zM1632 100V97H1634V100zM1638 100V96H1642V100zM1644 100V93H1646V100zM1648 100V87H1650V100zM1652 100V90H1654V100zM1668 100V98H1670V100zM1678 100V98H1678.5V100zM1694.5 100V95H1696.5V100zM1702.5 100V95H1704.5V100zM1732.5 100V95H1734.5V100zM1735 100V0H1768.5V100zM1768.5 100V16H1770.5V46H1772.5V49H1774.5V35H1776.5V51H1778.5V39H1780.5V45H1782.5V55H1784.5V65H1786.5V66H1788.5V57H1790.5V64H1792.5V93H1796.5V95H1798.5V89H1800.5V95H1806.5V98H1808.5V96H1810.5V91H1812.5V89H1814.5V53H1816.5V96H1818.5V51H1820.5V59H1822.5V78H1824.5V97H1828.5V100zM1830.5 100V97H1836.5V94H1838.5V49H1840.5V95H1842.5V99H1844.5V97H1848.5V95H1850.5V67H1852.5V58H1854.5V30H1856.5V83H1858.5V59H1860.5V46H1862.5V83H1866.5V86H1868.5V93H1872.5V68H1874.5V100zM1878.5 100V93H1880.5V98H1882.5V86H1884.5V99H1886.5V87H1888.5V43H1890.5V93H1894.5V86H1896.5V44H1898.5V96H1902.5V97H1904.5V95H1906.5V100zM1908.5 100V94H1910.5V87H1912.5V40H1914.5V65H1916.5V98H1920.5V71H1922.5V98H1928.5V96H1930.5V92H1932.5V98H1934.5V92H1936.5V88H1940.5V57H1942.5V87H1944.5V99H1946.5V95H1948.5V92H1950.5V87H1952.5V88H1954.5V53H1956.5V89H1960.5V99H1962.5V91H1964.5V99H1966.5V91H1968.5V70H1970.5V98H1972.5V96H1976.5V99H1978.5V39H1980.5V52H1982.5V92H1984.5V96H1986.5V98H1988.5V97H1990.5V98H1994.5V93H1996.5V91H1998.5V88H2000.5V87H2002.5V95H2006.5V98H2016.5V96H2018.5V99H2020.5V94H2022.5V58H2024.5V95H2028.5V94H2030.5V65H2032.5V96H2034.5V98H2036.5V96H2038.5V93H2040.5V85H2042.5V84H2044.5V56H2046.5V84H2048.5V67H2050.5V91H2052.5V98H2054.5V99H2056.5V98H2062.5V96H2064.5V100zM2066.5 100V94H2067V100z"/>
</g>
<g transform="translate(0,698) scale(1,0.8650)">
<path fill="#d73027" d="M177.75 100V0H213.25V100zM219.25 100V0H255V100zM337.5 100V0H339.5V100zM341.5 100V0H343.5V100zM347.5 100V0H349.5V100zM353.5 100V0H355.5V100zM615 100V0H617V100zM627 100V0H629V100zM649 100V0H651V100zM657 100V0H659V100zM671 100V0H673V100zM675 100V0H677V100zM679 100V0H681V100zM683 100V0H685V100zM715 100V0H719V100zM721 100V0H723V100zM749 100V0H751V100zM759 100V0H761V100zM767 100V0H769V100z"/>
<path fill="#e65136" d="M260.5 100V0H312V100zM317.5 100V0H337.5V2H339.5V0H341.5V2H343.5V0H347.5V2H349.5V0H353.5V2H355.5V0H366.25V100zM703 100V0H705V100zM707 100V0H709V100zM713 100V0H715V100zM719 100V0H721V6H723V0H749V5H751V0H759V5H761V0H767V5H769V0H786.25V100z"/>
<path fill="#f57145" d="M136 100V0H138V100zM140 100V0H146V100zM148 100V0H150V100zM156 100V0H162V100zM164 100V0H170V100zM372 100V0H384.5V100zM697 100V0H703V1H705V0H707V2H709V0H713V1H715V6H719V2H721V8H723V1H727V3H729V2H731V3H733V6H735V5H737V8H739V3H741V9H743V4H745V6H747V8H749V18H751V8H755V12H757V4H759V8H761V5H763V2H765V13H767V18H769V13H771V3H773V16H775V1H777V8H779V3H781V14H783V2H786.25V100z"/>
<path fill="#f99455" d="M136 100V2H138V0H140V2H146V0H148V2H150V0H156V2H162V0H164V2H170V0H172V100zM538 100V0H540V100zM542 100V0H544V100zM548 100V0H599.75V100zM1107.5 100V0H1109.5V100zM1121.5 100V0H1123.5V100zM1127.5 100V0H1129.5V100zM1135.5 100V0H1137.5V100zM1179.5 100V0H1181.5V100zM1197.5 100V0H1199.5V100zM1215.5 100V0H1217.5V100zM1225.5 100V0H1227.5V100zM1241.5 100V0H1243.5V100zM1249.5 100V0H1251.5V100zM1261.5 100V0H1265.5V100zM1297.5 100V0H1299.5V100zM1301.5 100V0H1307.5V100zM1309.5 100V0H1311.5V100z"/>
<path fill="#fdb567" d="M136 100V72H138V71H140V79H142V64H144V87H146V85H148V93H150V96H152V99H154V100zM351.5 100V98H355.5V97H361.5V96H363.5V95H365.5V92H366.25V100zM390 100V0H538V3H540V0H542V16H544V0H548V39H550V11H552V26H554V48H556V68H558V71H560V70H562V76H564V77H566V79H568V76H570V80H572V79H576V78H578V77H580V76H582V77H584V72H588V71H590V70H592V66H596V68H598V66H599.75V100zM833.75 100V0H835.75V100zM849.75 100V0H851.75V100zM855.75 100V0H857.75V100zM867.75 100V0H869.75V100zM893.75 100V0H895.75V100zM919.75 100V0H923.75V100zM931.75 100V0H933.75V100zM947.75 100V0H949.75V100zM965.75 100V0H967.75V100zM993.75 100V0H999.75V100zM1027.75 100V0H1029.75V100zM1059.75 100V0H1063.75V100zM1638 100V0H1640V100zM1642 100V0H1646V100zM1648 100V0H1654V100zM1680.5 100V0H1684.5V100zM1692.5 100V0H1694.5V100zM1708.5 100V0H1710.5V100zM1716.5 100V0H1718.5V100zM1730.5 100V0H1732.5V100zM2086.5 100V0H2088.5V100zM2098.5 100V0H2104.5V100zM2108.5 100V0H2110.5V100zM1890.5 100V0H1892.5V100zM1904.5 100V0H1906.5V100zM1918.5 100V0H1922.5V100zM1928.5 100V0H1930.5V100zM1934.5 100V0H1936.5V100zM1946.5 100V0H1948.5V100zM1950.5 100V0H1952.5V100zM1962.5 100V0H1964.5V100zM2016.5 100V0H2018.5V100z"/>
<path fill="#fecf80" d="M605 100V0H615V6H617V0H627V6H629V0H649V7H651V0H657V8H659V0H671V8H673V0H675V7H677V0H679V7H681V0H683V7H685V0H697V1H703V3H705V1H707V5H709V1H711V2H713V5H715V9H717V16H719V7H721V11H723V7H725V11H727V15H729V11H731V13H733V16H735V18H737V20H739V17H741V19H743V25H745V27H747V23H749V35H751V22H753V30H755V32H757V29H759V36H761V24H763V35H765V34H767V38H769V33H771V26H773V36H775V31H779V24H781V31H783V24H786.25V100z"/>
<path fill="#fee699" d="M138 100V96H140V100zM142 100V81H144V100zM146 100V95H148V100zM156 100V96H158V100zM160 100V93H162V84H164V100zM166 100V37H168V100zM791.75 100V0H833.75V2H835.75V0H849.75V2H851.75V0H855.75V2H857.75V0H867.75V2H869.75V0H893.75V2H895.75V0H919.75V2H923.75V0H931.75V2H933.75V0H947.75V2H949.75V0H965.75V2H967.75V0H993.75V2H999.75V0H1027.75V2H1029.75V0H1059.75V2H1063.75V0H1066V100zM1107.5 100V2H1109.5V0H1121.5V2H1123.5V0H1127.5V2H1129.5V0H1135.5V2H1137.5V0H1179.5V2H1181.5V0H1197.5V2H1199.5V0H1215.5V2H1217.5V0H1225.5V2H1227.5V0H1241.5V2H1243.5V0H1249.5V2H1251.5V0H1261.5V2H1265.5V0H1297.5V2H1299.5V0H1301.5V2H1307.5V0H1309.5V2H1311.5V0H1335.75V100zM1341.5 100V0H1343.5V100zM1355.5 100V0H1357.5V100zM1361.5 100V0H1367.5V100zM1369.5 100V0H1373.5V100zM1375.5 100V0H1377.5V100zM1385.5 100V0H1389.5V100zM1395.5 100V0H1397.5V100zM1401.5 100V0H1403.5V100zM1407.5 100V0H1409.5V100zM1411.5 100V0H1419V100zM1470 100V0H1472V100zM1476 100V0H1536V100zM1608 100V0H1612V100zM1616 100V0H1618V100zM1620 100V0H1626V100zM1628 100V0H1634V100zM1638 100V2H1640V0H1642V4H1646V0H1648V5H1652V3H1654V0H1656V100zM1660 100V0H1662V100zM1666 100V0H1668V100zM1670 100V0H1672V100zM1676 100V0H1678.5V100zM1684.5 100V0H1686.5V100zM1688.5 100V0H1690.5V100zM1694.5 100V0H1708.5V3H1710.5V0H1716.5V3H1718.5V0H1730.5V3H1732.5V0H1735V100zM2072.5 100V0H2086.5V5H2088.5V0H2098.5V5H2102.5V4H2104.5V0H2108.5V5H2110.5V0H2116.5V100zM1768.5 100V0H1780.5V100zM1784.5 100V0H1824.5V100zM1826.5 100V0H1832.5V100zM1834.5 100V0H1852.5V100zM1854.5 100V0H1872.5V100zM1874.5 100V0H1890.5V1H1892.5V0H1904.5V4H1906.5V0H1918.5V6H1922.5V0H1928.5V6H1930.5V0H1934.5V7H1936.5V0H1946.5V7H1948.5V0H1950.5V7H1952.5V0H1962.5V8H1964.5V0H2016.5V10H2018.5V0H2067V100z"/>
<path fill="#fff7b2" d="M138 100V98H140V100zM142 100V92H144V100zM146 100V97H148V100zM156 100V98H158V100zM160 100V96H162V93H164V100zM166 100V58H168V100zM392 100V99H394V98H396V100zM444 100V99H446V98H448V100zM454 100V98H456V100zM460 100V99H462V100zM464 100V98H466V100zM474 100V98H476V100zM506 100V99H510V100zM520 100V99H530V98H538V97H540V98H546V97H554V98H560V97H562V96H564V97H568V98H574V96H576V98H578V97H584V98H586V97H592V98H594V97H596V98H598V96H599.75V100zM679 100V99H681V100zM685 100V98H689V100zM691 100V98H693V99H695V97H697V100zM709 100V97H711V96H713V100zM715 100V98H719V100zM723 100V98H729V97H731V100zM739 100V97H741V100zM743 100V92H745V100zM757 100V96H761V100zM763 100V96H765V100zM771 100V93H773V100zM775 100V96H777V100zM779 100V96H781V100zM783 100V96H786.25V100zM791.75 100V14H793.75V56H795.75V47H797.75V12H799.75V43H803.75V80H805.75V18H807.75V14H809.75V20H811.75V23H813.75V16H815.75V23H817.75V16H819.75V34H821.75V43H823.75V31H825.75V22H827.75V39H829.75V12H831.75V26H833.75V15H835.75V40H837.75V16H839.75V21H841.75V25H843.75V43H845.75V22H847.75V21H849.75V17H851.75V30H853.75V20H855.75V29H857.75V33H859.75V29H861.75V30H863.75V15H865.75V82H867.75V22H869.75V41H871.75V21H873.75V29H875.75V21H877.75V27H879.75V23H881.75V14H883.75V67H885.75V32H887.75V55H889.75V20H891.75V13H893.75V30H895.75V42H897.75V19H899.75V21H901.75V22H903.75V20H905.75V35H907.75V28H909.75V19H913.75V40H915.75V67H917.75V22H919.75V31H921.75V80H923.75V45H925.75V28H927.75V70H929.75V28H931.75V52H933.75V17H935.75V15H937.75V16H939.75V30H941.75V32H943.75V15H945.75V66H947.75V53H949.75V35H951.75V16H953.75V33H957.75V60H959.75V67H961.75V26H965.75V36H967.75V16H969.75V36H971.75V24H973.75V55H975.75V29H977.75V35H979.75V33H981.75V32H983.75V40H985.75V30H987.75V57H989.75V32H991.75V38H993.75V26H995.75V19H997.75V77H999.75V23H1001.75V41H1003.75V18H1005.75V34H1007.75V29H1009.75V19H1011.75V23H1013.75V20H1015.75V49H1017.75V32H1019.75V94H1021.75V27H1023.75V66H1025.75V22H1027.75V69H1029.75V33H1031.75V30H1033.75V22H1035.75V18H1037.75V100zM1039.75 100V23H1041.75V37H1043.75V31H1045.75V34H1047.75V40H1049.75V42H1051.75V68H1053.75V41H1055.75V46H1057.75V21H1059.75V38H1061.75V22H1063.75V31H1066V100zM1107.5 100V76H1109.5V100zM1113.5 100V67H1115.5V70H1117.5V71H1119.5V72H1121.5V75H1123.5V51H1125.5V49H1127.5V63H1129.5V45H1131.5V30H1133.5V35H1135.5V28H1137.5V36H1139.5V20H1141.5V26H1143.5V17H1145.5V18H1147.5V11H1149.5V23H1151.5V12H1153.5V18H1155.5V21H1157.5V17H1159.5V16H1161.5V18H1163.5V34H1165.5V14H1167.5V37H1169.5V22H1171.5V14H1173.5V20H1175.5V7H1177.5V13H1181.5V16H1183.5V20H1185.5V18H1187.5V25H1189.5V10H1191.5V35H1193.5V6H1195.5V14H1197.5V7H1199.5V5H1201.5V24H1203.5V9H1205.5V4H1207.5V13H1209.5V34H1211.5V12H1213.5V9H1215.5V52H1217.5V6H1219.5V17H1221.5V31H1223.5V3H1225.5V53H1227.5V29H1229.5V16H1231.5V7H1233.5V4H1235.5V12H1237.5V4H1239.5V20H1243.5V9H1245.5V20H1247.5V26H1249.5V15H1251.5V13H1253.5V6H1255.5V31H1257.5V17H1259.5V40H1261.5V15H1263.5V11H1265.5V22H1267.5V35H1269.5V22H1271.5V19H1275.5V17H1277.5V22H1279.5V46H1281.5V20H1285.5V14H1287.5V10H1289.5V27H1291.5V17H1293.5V30H1295.5V5H1297.5V34H1299.5V15H1301.5V23H1303.5V13H1305.5V24H1307.5V50H1309.5V9H1311.5V51H1313.5V32H1315.5V7H1317.5V11H1323.5V18H1325.5V16H1327.5V12H1329.5V23H1331.5V38H1333.5V13H1335.75V100zM1470 100V1H1472V100zM1478 100V3H1480V5H1482V7H1484V9H1486V8H1490V9H1494V10H1498V1H1500V11H1502V1H1504V10H1506V1H1508V11H1510V9H1512V11H1514V10H1516V12H1522V13H1524V16H1526V15H1528V2H1532V21H1534V19H1536V100zM1576 100V0H1580V100z"/>
<path fill="#f7fcce" d="M1066 100V0H1107.5V100zM1107.5 100V82H1109.5V73H1113.5V71H1115.5V82H1117.5V74H1119.5V84H1121.5V85H1123.5V71H1125.5V68H1127.5V74H1129.5V61H1131.5V57H1133.5V65H1135.5V51H1137.5V67H1139.5V39H1141.5V49H1143.5V47H1145.5V36H1147.5V40H1149.5V59H1151.5V36H1153.5V39H1155.5V55H1157.5V52H1159.5V44H1161.5V48H1163.5V66H1165.5V42H1167.5V79H1169.5V54H1171.5V57H1173.5V62H1175.5V39H1177.5V58H1179.5V46H1181.5V59H1183.5V52H1185.5V60H1187.5V64H1189.5V51H1191.5V80H1193.5V51H1195.5V45H1197.5V41H1199.5V55H1201.5V63H1203.5V56H1205.5V45H1207.5V58H1209.5V65H1211.5V52H1213.5V54H1215.5V90H1217.5V50H1219.5V64H1221.5V77H1223.5V38H1225.5V100zM1227.5 100V71H1229.5V49H1231.5V53H1233.5V39H1235.5V49H1237.5V42H1239.5V60H1241.5V54H1243.5V56H1245.5V66H1247.5V62H1249.5V64H1251.5V44H1253.5V38H1255.5V76H1257.5V51H1259.5V73H1261.5V44H1263.5V47H1265.5V52H1267.5V77H1269.5V51H1271.5V56H1273.5V65H1275.5V57H1279.5V77H1281.5V67H1283.5V49H1285.5V51H1287.5V45H1289.5V70H1291.5V56H1293.5V100zM1295.5 100V51H1297.5V100zM1299.5 100V51H1301.5V61H1303.5V58H1305.5V65H1307.5V100zM1309.5 100V54H1311.5V100zM1315.5 100V48H1317.5V45H1319.5V52H1321.5V39H1323.5V44H1325.5V59H1327.5V57H1331.5V100zM1333.5 100V43H1335.75V100z"/>
<path fill="#e6f5ed" d="M1341.5 100V3H1343.5V0H1355.5V1H1357.5V0H1361.5V5H1363.5V11H1365.5V9H1367.5V0H1369.5V15H1371.5V19H1373.5V0H1375.5V19H1377.5V0H1385.5V28H1387.5V25H1389.5V0H1395.5V17H1397.5V0H1401.5V17H1403.5V0H1407.5V20H1409.5V0H1411.5V19H1413.5V18H1415.5V19H1417.5V17H1419V100zM1560 100V0H1576V1H1578V11H1580V100zM1608 100V3H1610V4H1612V0H1616V5H1618V0H1620V6H1622V7H1626V0H1628V8H1630V9H1634V0H1638V13H1640V11H1642V16H1644V18H1646V14H1648V23H1650V24H1652V22H1654V16H1656V0H1660V15H1662V0H1666V13H1668V0H1670V11H1672V0H1676V7H1678V8H1678.5V100zM1692.5 100V3H1694.5V100zM1712.5 100V12H1714.5V100zM1718.5 100V14H1720.5V100zM1722.5 100V18H1724.5V100zM1732.5 100V23H1734.5V100zM2072.5 100V61H2074.5V49H2076.5V60H2078.5V39H2080.5V36H2082.5V31H2084.5V51H2086.5V54H2088.5V41H2090.5V43H2092.5V38H2094.5V39H2096.5V35H2098.5V48H2100.5V49H2102.5V50H2104.5V40H2106.5V46H2108.5V53H2110.5V62H2112.5V46H2114.5V41H2116.5V100zM1768.5 100V2H1770.5V4H1772.5V2H1776.5V1H1778.5V100zM1780.5 100V0H1784.5V3H1786.5V100zM1790.5 100V2H1792.5V3H1794.5V9H1796.5V4H1800.5V1H1802.5V4H1804.5V3H1806.5V9H1808.5V8H1810.5V1H1812.5V3H1814.5V4H1816.5V1H1818.5V2H1820.5V4H1822.5V100zM1824.5 100V0H1826.5V2H1828.5V6H1830.5V7H1832.5V0H1834.5V7H1836.5V4H1838.5V100zM1840.5 100V8H1842.5V4H1846.5V2H1848.5V5H1850.5V1H1852.5V0H1854.5V100zM1856.5 100V5H1860.5V9H1862.5V6H1864.5V4H1866.5V6H1868.5V8H1870.5V7H1872.5V0H1874.5V5H1876.5V1H1878.5V19H1880.5V1H1882.5V10H1884.5V13H1886.5V11H1888.5V100zM1890.5 100V8H1892.5V21H1894.5V1H1896.5V100zM1898.5 100V16H1900.5V3H1902.5V1H1904.5V14H1906.5V19H1908.5V10H1910.5V2H1912.5V10H1914.5V3H1916.5V14H1918.5V22H1920.5V8H1922.5V13H1924.5V12H1926.5V25H1928.5V29H1930.5V15H1932.5V1H1934.5V36H1936.5V23H1938.5V34H1940.5V100zM1942.5 100V4H1944.5V2H1946.5V28H1948.5V14H1950.5V31H1952.5V24H1954.5V100zM1956.5 100V17H1958.5V21H1960.5V18H1962.5V28H1964.5V19H1966.5V100zM1970.5 100V2H1972.5V22H1974.5V25H1976.5V2H1978.5V100zM1982.5 100V22H1984.5V23H1986.5V25H1988.5V4H1990.5V100zM1992.5 100V5H1994.5V3H1998.5V27H2000.5V23H2002.5V24H2004.5V5H2006.5V29H2008.5V30H2010.5V28H2012.5V4H2014.5V32H2016.5V16H2018.5V42H2020.5V31H2022.5V100zM2024.5 100V31H2026.5V39H2028.5V100zM2032.5 100V39H2034.5V31H2036.5V32H2038.5V29H2040.5V100zM2042.5 100V4H2044.5V100zM2046.5 100V4H2048.5V100zM2050.5 100V40H2052.5V34H2054.5V5H2056.5V43H2058.5V35H2060.5V42H2062.5V4H2064.5V6H2067V100z"/>
<path fill="#ceeaf3" d="M1419 100V0H1460V100z"/>
<path fill="#b2dceb" d="M1735 100V0H1768.5V100zM2076.5 100V72H2078.5V47H2082.5V100zM2090.5 100V55H2092.5V46H2094.5V50H2096.5V43H2098.5V64H2100.5V60H2102.5V100zM2104.5 100V56H2106.5V58H2108.5V61H2110.5V69H2112.5V55H2116.5V100zM1768.5 100V67H1770.5V49H1772.5V91H1774.5V21H1776.5V22H1778.5V4H1780.5V57H1782.5V60H1784.5V54H1786.5V8H1788.5V4H1790.5V32H1792.5V78H1794.5V45H1796.5V53H1798.5V54H1800.5V69H1802.5V61H1804.5V56H1806.5V74H1808.5V42H1810.5V31H1812.5V47H1814.5V36H1816.5V50H1818.5V24H1820.5V18H1822.5V11H1824.5V73H1826.5V63H1828.5V83H1830.5V54H1832.5V49H1834.5V54H1836.5V69H1838.5V5H1840.5V57H1842.5V86H1844.5V51H1846.5V19H1848.5V36H1850.5V19H1852.5V35H1854.5V1H1856.5V38H1858.5V31H1860.5V25H1862.5V37H1864.5V44H1866.5V50H1868.5V81H1870.5V72H1872.5V50H1874.5V86H1876.5V92H1878.5V73H1880.5V91H1882.5V31H1884.5V83H1886.5V63H1888.5V1H1890.5V58H1892.5V26H1894.5V62H1896.5V9H1898.5V57H1900.5V50H1902.5V63H1904.5V71H1906.5V75H1908.5V38H1910.5V30H1912.5V25H1914.5V21H1916.5V70H1918.5V54H1920.5V40H1922.5V65H1924.5V44H1926.5V49H1928.5V63H1930.5V59H1932.5V61H1934.5V59H1936.5V54H1938.5V42H1940.5V3H1942.5V54H1944.5V90H1946.5V55H1948.5V60H1950.5V57H1952.5V36H1954.5V13H1956.5V67H1958.5V53H1960.5V86H1962.5V62H1964.5V92H1966.5V35H1968.5V23H1970.5V62H1972.5V46H1974.5V49H1976.5V91H1978.5V3H1980.5V18H1982.5V70H1984.5V57H1986.5V43H1988.5V73H1990.5V34H1992.5V44H1994.5V34H1996.5V62H1998.5V49H2000.5V51H2002.5V48H2004.5V45H2006.5V60H2008.5V34H2010.5V42H2012.5V49H2014.5V40H2016.5V63H2018.5V76H2020.5V50H2022.5V25H2024.5V49H2026.5V40H2028.5V41H2030.5V23H2032.5V64H2034.5V77H2036.5V83H2038.5V61H2040.5V37H2042.5V60H2044.5V25H2046.5V60H2048.5V29H2050.5V56H2052.5V66H2054.5V92H2056.5V59H2058.5V77H2060.5V59H2062.5V66H2064.5V80H2066.5V58H2067V100z"/>
<path fill="#95c7df" d="M1143.5 100V89H1145.5V100zM1149.5 100V97H1151.5V100zM1189.5 100V98H1191.5V96H1193.5V100zM1199.5 100V93H1201.5V100zM1205.5 100V96H1207.5V100zM1215.5 100V96H1217.5V100zM1221.5 100V91H1223.5V96H1225.5V92H1227.5V100zM1231.5 100V89H1233.5V100zM1235.5 100V93H1237.5V100zM1243.5 100V87H1247.5V100zM1251.5 100V91H1253.5V100zM1257.5 100V88H1259.5V89H1261.5V90H1263.5V87H1265.5V100zM1267.5 100V83H1269.5V100zM1271.5 100V84H1273.5V79H1275.5V100zM1277.5 100V83H1279.5V100zM1287.5 100V80H1289.5V100zM1291.5 100V78H1293.5V100zM1301.5 100V74H1303.5V70H1305.5V71H1307.5V80H1309.5V100zM1313.5 100V72H1315.5V100zM1325.5 100V63H1327.5V100zM1331.5 100V69H1333.5V66H1335.75V100zM1580 100V0H1608V100zM1608 100V39H1610V38H1612V36H1614V38H1616V32H1618V37H1622V32H1624V31H1626V35H1628V41H1630V30H1632V41H1634V21H1636V28H1638V44H1642V39H1646V43H1648V61H1652V51H1654V47H1656V36H1658V34H1660V48H1662V38H1664V29H1666V41H1668V30H1670V50H1672V37H1674V34H1676V39H1678V36H1678.5V100z"/>
<path fill="#78b0d3" d="M605 100V99H607V100zM611 100V99H613V100zM621 100V99H623V100zM643 100V99H645V100zM647 100V99H649V100zM653 100V99H655V100zM657 100V99H659V100zM663 100V99H665V100zM667 100V99H671V100zM683 100V99H685V100zM695 100V99H699V100zM735 100V99H737V100zM739 100V99H741V100zM751 100V99H753V100zM755 100V99H759V100zM763 100V99H765V100zM769 100V99H771V100zM775 100V99H777V100zM779 100V99H786.25V100zM861.75 100V99H863.75V100zM883.75 100V99H885.75V100zM891.75 100V93H893.75V100zM895.75 100V99H897.75V100zM901.75 100V92H905.75V99H909.75V100zM911.75 100V99H913.75V100zM915.75 100V99H917.75V100zM919.75 100V98H921.75V100zM923.75 100V98H925.75V100zM929.75 100V90H931.75V99H933.75V100zM939.75 100V98H941.75V99H943.75V100zM945.75 100V99H947.75V98H949.75V100zM953.75 100V97H957.75V100zM959.75 100V96H961.75V99H963.75V100zM969.75 100V97H971.75V98H973.75V96H975.75V100zM977.75 100V98H979.75V100zM983.75 100V97H985.75V98H991.75V87H993.75V100zM995.75 100V99H997.75V87H999.75V100zM1001.75 100V99H1003.75V98H1005.75V100zM1009.75 100V93H1011.75V100zM1013.75 100V97H1015.75V98H1017.75V100zM1023.75 100V95H1025.75V100zM1027.75 100V98H1031.75V100zM1033.75 100V98H1037.75V95H1039.75V100zM1043.75 100V93H1045.75V95H1047.75V100zM1051.75 100V96H1053.75V89H1055.75V100zM1057.75 100V96H1059.75V100zM1063.75 100V92H1066V100zM1351.5 100V98H1353.5V100zM1359.5 100V89H1361.5V96H1363.5V100zM1367.5 100V88H1369.5V100zM1371.5 100V85H1373.5V87H1375.5V92H1377.5V100zM1381.5 100V94H1383.5V100zM1385.5 100V92H1387.5V100zM1389.5 100V86H1391.5V80H1393.5V100zM1397.5 100V73H1399.5V100zM1403.5 100V76H1405.5V75H1407.5V79H1409.5V73H1411.5V100zM1413.5 100V80H1415.5V71H1417.5V100zM1678.5 100V0H1680.5V3H1684.5V1H1686.5V0H1688.5V1H1690.5V0H1692.5V11H1694.5V2H1696.5V3H1698.5V7H1700.5V10H1702.5V9H1704.5V13H1708.5V18H1710.5V13H1712.5V20H1714.5V16H1716.5V22H1720.5V24H1722.5V26H1724.5V23H1726.5V33H1728.5V23H1730.5V34H1732.5V31H1734.5V26H1735V100zM1768.5 100V71H1770.5V64H1772.5V95H1774.5V30H1776.5V41H1778.5V9H1780.5V65H1782.5V68H1784.5V60H1786.5V24H1788.5V19H1790.5V35H1792.5V87H1794.5V65H1796.5V58H1798.5V57H1800.5V79H1802.5V65H1804.5V61H1806.5V94H1808.5V57H1810.5V49H1812.5V55H1814.5V41H1816.5V58H1818.5V29H1820.5V23H1822.5V27H1824.5V82H1826.5V72H1828.5V91H1830.5V65H1832.5V57H1834.5V67H1836.5V73H1838.5V12H1840.5V71H1842.5V92H1844.5V54H1846.5V39H1848.5V49H1850.5V34H1852.5V38H1854.5V4H1856.5V49H1858.5V34H1860.5V36H1862.5V51H1866.5V62H1868.5V86H1870.5V78H1872.5V53H1874.5V96H1878.5V90H1880.5V95H1882.5V36H1884.5V95H1886.5V70H1888.5V10H1890.5V62H1892.5V45H1894.5V65H1896.5V12H1898.5V72H1900.5V68H1902.5V69H1904.5V78H1906.5V93H1908.5V44H1910.5V42H1912.5V29H1914.5V37H1916.5V78H1918.5V62H1920.5V47H1922.5V71H1924.5V52H1926.5V67H1928.5V77H1930.5V65H1932.5V66H1934.5V77H1936.5V68H1938.5V61H1940.5V16H1942.5V71H1944.5V95H1946.5V66H1948.5V63H1950.5V70H1952.5V49H1954.5V17H1956.5V72H1958.5V56H1960.5V93H1962.5V73H1964.5V95H1966.5V52H1968.5V35H1970.5V66H1972.5V57H1974.5V59H1976.5V96H1978.5V12H1980.5V23H1982.5V74H1984.5V65H1986.5V51H1988.5V91H1990.5V49H1992.5V63H1994.5V46H1996.5V71H1998.5V59H2000.5V54H2002.5V53H2004.5V63H2008.5V37H2010.5V46H2012.5V64H2014.5V50H2016.5V81H2018.5V94H2020.5V60H2022.5V34H2024.5V53H2026.5V55H2028.5V54H2030.5V26H2032.5V76H2034.5V80H2036.5V89H2038.5V67H2040.5V47H2042.5V64H2044.5V28H2046.5V67H2048.5V38H2050.5V68H2052.5V72H2054.5V95H2056.5V69H2058.5V81H2060.5V67H2062.5V77H2064.5V96H2066.5V72H2067V100z"/>
<path fill="#5e93c3" d="M891.75 100V96H893.75V100zM899.75 100V99H901.75V96H905.75V100zM919.75 100V99H925.75V100zM929.75 100V94H931.75V100zM949.75 100V99H951.75V100zM955.75 100V98H957.75V99H959.75V98H961.75V100zM967.75 100V99H969.75V98H971.75V100zM973.75 100V98H975.75V100zM981.75 100V99H983.75V98H985.75V100zM991.75 100V93H993.75V100zM997.75 100V93H999.75V99H1001.75V100zM1005.75 100V99H1007.75V100zM1009.75 100V96H1011.75V100zM1015.75 100V99H1017.75V100zM1019.75 100V99H1021.75V100zM1023.75 100V97H1025.75V100zM1029.75 100V99H1031.75V100zM1035.75 100V99H1037.75V97H1039.75V99H1041.75V100zM1043.75 100V96H1045.75V97H1047.75V99H1051.75V98H1053.75V94H1055.75V99H1057.75V98H1059.75V100zM1063.75 100V96H1066V100zM1066 100V97H1068V100zM1072 100V97H1074V100zM1076 100V96H1078V100zM1080 100V99H1082V100zM1084 100V98H1086V96H1088V99H1090V100zM1092 100V98H1094V87H1096V100zM1100 100V99H1102V87H1104V98H1106V99H1107.5V100zM1107.5 100V98H1109.5V100zM1115.5 100V95H1117.5V100zM1119.5 100V99H1121.5V100zM1123.5 100V94H1125.5V98H1127.5V100zM1131.5 100V98H1133.5V97H1135.5V100zM1137.5 100V84H1139.5V100zM1149.5 100V98H1151.5V100zM1155.5 100V98H1157.5V99H1159.5V100zM1167.5 100V98H1169.5V100zM1171.5 100V98H1173.5V99H1175.5V100zM1177.5 100V98H1179.5V100zM1181.5 100V99H1183.5V100zM1185.5 100V99H1191.5V97H1195.5V100zM1199.5 100V95H1201.5V98H1203.5V95H1205.5V97H1207.5V95H1209.5V100zM1211.5 100V96H1213.5V94H1215.5V97H1217.5V94H1219.5V93H1223.5V97H1225.5V94H1227.5V93H1229.5V96H1231.5V92H1233.5V94H1237.5V93H1239.5V92H1241.5V93H1243.5V90H1247.5V92H1249.5V87H1251.5V93H1253.5V91H1255.5V87H1257.5V90H1259.5V91H1263.5V89H1267.5V87H1269.5V88H1271.5V87H1273.5V83H1277.5V86H1281.5V80H1283.5V85H1285.5V82H1287.5V84H1289.5V79H1291.5V82H1293.5V76H1299.5V77H1301.5V79H1303.5V76H1305.5V77H1307.5V83H1309.5V73H1311.5V79H1313.5V77H1315.5V72H1317.5V73H1319.5V69H1321.5V72H1323.5V73H1325.5V70H1327.5V67H1329.5V70H1331.5V75H1333.5V72H1335.75V100zM1351.5 100V99H1353.5V100zM1359.5 100V93H1361.5V98H1363.5V100zM1367.5 100V93H1369.5V100zM1371.5 100V90H1373.5V92H1375.5V95H1377.5V100zM1381.5 100V96H1383.5V100zM1385.5 100V95H1387.5V100zM1389.5 100V91H1391.5V87H1393.5V100zM1397.5 100V83H1399.5V100zM1403.5 100V85H1405.5V84H1407.5V87H1409.5V83H1411.5V100zM1413.5 100V87H1415.5V82H1417.5V100zM1536 100V0H1560V5H1562V16H1564V18H1566V20H1568V23H1570V25H1572V27H1574V29H1576V19H1580V100zM1608 100V54H1614V52H1616V44H1618V52H1620V47H1622V43H1624V41H1626V45H1628V67H1630V48H1632V58H1634V41H1636V53H1638V69H1640V54H1642V49H1644V55H1646V100zM1648 100V71H1650V72H1652V70H1654V100zM1656 100V46H1658V100zM1660 100V58H1662V100zM1664 100V41H1666V51H1668V40H1670V64H1672V100zM1674 100V44H1676V100zM1678 100V56H1678.5V100zM2072.5 100V77H2074.5V58H2076.5V90H2078.5V70H2080.5V68H2082.5V46H2084.5V61H2088.5V56H2090.5V63H2092.5V88H2094.5V64H2096.5V46H2098.5V80H2100.5V78H2102.5V60H2104.5V88H2106.5V72H2108.5V91H2110.5V75H2112.5V83H2114.5V94H2116.5V100zM1768.5 100V77H1770.5V73H1772.5V98H1774.5V43H1776.5V46H1778.5V22H1780.5V85H1782.5V77H1784.5V78H1786.5V29H1788.5V31H1790.5V47H1792.5V88H1794.5V80H1796.5V84H1798.5V74H1800.5V84H1802.5V71H1804.5V70H1806.5V95H1808.5V63H1810.5V58H1812.5V62H1814.5V48H1816.5V76H1818.5V34H1820.5V46H1822.5V50H1824.5V88H1826.5V87H1828.5V95H1830.5V85H1832.5V87H1834.5V89H1836.5V79H1838.5V30H1840.5V84H1842.5V95H1844.5V72H1846.5V66H1850.5V50H1852.5V46H1854.5V28H1856.5V56H1858.5V52H1860.5V41H1862.5V66H1864.5V60H1866.5V77H1868.5V90H1870.5V83H1872.5V59H1874.5V97H1878.5V91H1880.5V97H1882.5V57H1884.5V96H1886.5V79H1888.5V34H1890.5V67H1892.5V70H1894.5V74H1896.5V32H1898.5V83H1900.5V78H1902.5V89H1904.5V84H1906.5V96H1908.5V65H1910.5V63H1912.5V35H1914.5V54H1916.5V89H1918.5V67H1920.5V53H1922.5V84H1924.5V79H1926.5V88H1928.5V83H1930.5V84H1932.5V88H1934.5V82H1936.5V74H1938.5V72H1940.5V38H1942.5V78H1944.5V96H1946.5V71H1948.5V70H1950.5V76H1952.5V59H1954.5V36H1956.5V79H1958.5V70H1960.5V97H1962.5V78H1964.5V97H1966.5V74H1968.5V56H1970.5V88H1972.5V86H1974.5V72H1976.5V97H1978.5V20H1980.5V36H1982.5V84H1984.5V87H1986.5V68H1988.5V95H1990.5V68H1992.5V81H1994.5V63H1996.5V78H1998.5V72H2000.5V73H2002.5V66H2004.5V86H2006.5V81H2008.5V67H2010.5V70H2012.5V85H2014.5V73H2016.5V87H2018.5V96H2020.5V68H2022.5V53H2024.5V69H2026.5V76H2028.5V68H2030.5V47H2032.5V88H2034.5V90H2036.5V91H2038.5V86H2040.5V64H2042.5V74H2044.5V39H2046.5V76H2048.5V54H2050.5V83H2052.5V90H2054.5V98H2056.5V82H2058.5V89H2060.5V82H2062.5V85H2064.5V98H2066.5V81H2067V100z"/>
<path fill="#4575b4" d="M138 100V99H140V100zM146 100V99H148V100zM156 100V99H158V100zM160 100V99H162V100zM166 100V73H168V100zM394 100V99H396V100zM406 100V99H408V100zM428 100V99H432V100zM442 100V99H444V100zM446 100V99H448V100zM454 100V99H456V100zM464 100V99H466V100zM474 100V99H476V100zM490 100V99H492V100zM494 100V99H498V100zM516 100V99H518V100zM532 100V99H534V100zM538 100V99H540V100zM546 100V99H550V100zM562 100V99H564V100zM574 100V99H576V100zM598 100V99H599.75V100zM891.75 100V98H893.75V100zM901.75 100V98H905.75V100zM929.75 100V97H931.75V100zM939.75 100V99H941.75V100zM947.75 100V99H949.75V100zM953.75 100V99H957.75V100zM959.75 100V99H961.75V100zM969.75 100V99H975.75V100zM977.75 100V99H979.75V100zM983.75 100V99H991.75V96H993.75V100zM997.75 100V96H999.75V100zM1003.75 100V99H1005.75V100zM1009.75 100V98H1011.75V100zM1013.75 100V99H1015.75V100zM1023.75 100V99H1025.75V100zM1027.75 100V99H1029.75V100zM1033.75 100V99H1035.75V100zM1037.75 100V99H1039.75V100zM1043.75 100V98H1045.75V99H1047.75V100zM1051.75 100V99H1053.75V97H1055.75V100zM1057.75 100V99H1059.75V100zM1063.75 100V98H1066V100zM1066 100V98H1068V100zM1072 100V98H1074V99H1076V98H1078V99H1080V100zM1084 100V99H1086V98H1088V100zM1090 100V99H1094V93H1096V100zM1098 100V99H1100V100zM1102 100V92H1104V99H1106V100zM1109.5 100V99H1113.5V100zM1115.5 100V96H1117.5V100zM1121.5 100V99H1123.5V95H1125.5V99H1129.5V100zM1133.5 100V99H1135.5V100zM1137.5 100V86H1139.5V99H1143.5V90H1145.5V100zM1151.5 100V96H1153.5V100zM1155.5 100V99H1157.5V100zM1159.5 100V96H1161.5V100zM1163.5 100V99H1165.5V100zM1167.5 100V99H1169.5V100zM1193.5 100V99H1209.5V98H1215.5V99H1217.5V98H1227.5V97H1239.5V96H1243.5V97H1247.5V96H1249.5V95H1251.5V96H1253.5V95H1259.5V96H1261.5V95H1265.5V94H1267.5V95H1269.5V93H1271.5V95H1273.5V94H1275.5V92H1277.5V94H1279.5V92H1287.5V93H1289.5V90H1291.5V93H1293.5V89H1299.5V88H1301.5V90H1307.5V93H1309.5V88H1311.5V89H1313.5V91H1315.5V86H1317.5V85H1319.5V84H1325.5V86H1327.5V84H1331.5V88H1333.5V85H1335.75V100zM1431 100V99H1435V95H1437V92H1439V89H1441V88H1443V85H1445V82H1447V80H1449V77H1451V76H1453V71H1455V69H1457V68H1459V66H1460V100zM1460 100V0H1470V2H1472V0H1476V2H1478V5H1480V9H1482V12H1484V14H1486V13H1490V14H1494V17H1496V16H1498V2H1500V18H1502V2H1504V15H1506V2H1508V17H1510V15H1512V18H1514V17H1516V19H1520V20H1522V21H1524V25H1528V3H1532V33H1534V30H1536V100zM1608 100V82H1610V72H1612V75H1614V70H1616V81H1618V77H1620V78H1624V79H1626V73H1628V75H1630V70H1632V82H1634V73H1636V82H1638V71H1640V70H1642V78H1644V82H1646V64H1648V82H1650V73H1652V81H1654V68H1656V80H1658V47H1660V81H1662V47H1664V63H1666V80H1672V46H1674V47H1678V65H1678.5V100zM1694.5 100V95H1696.5V100zM1702.5 100V95H1704.5V100zM1732.5 100V95H1734.5V100zM2072.5 100V90H2074.5V81H2076.5V95H2078.5V86H2080.5V85H2082.5V75H2084.5V82H2088.5V80H2090.5V83H2092.5V94H2094.5V84H2096.5V75H2098.5V91H2100.5V90H2102.5V82H2104.5V94H2106.5V87H2108.5V96H2110.5V89H2112.5V92H2114.5V97H2116.5V100zM1768.5 100V87H1770.5V94H1772.5V99H1774.5V57H1776.5V55H1778.5V46H1780.5V93H1786.5V55H1788.5V46H1790.5V63H1792.5V93H1794.5V90H1796.5V92H1798.5V86H1800.5V92H1806.5V98H1808.5V93H1810.5V87H1812.5V86H1814.5V54H1816.5V94H1818.5V52H1820.5V60H1822.5V73H1824.5V95H1828.5V99H1830.5V95H1836.5V92H1838.5V50H1840.5V93H1842.5V99H1844.5V95H1848.5V93H1850.5V64H1852.5V58H1854.5V35H1856.5V81H1858.5V59H1860.5V47H1862.5V81H1866.5V84H1868.5V93H1870.5V91H1872.5V68H1874.5V99H1878.5V93H1880.5V98H1882.5V84H1884.5V98H1886.5V85H1888.5V41H1890.5V91H1892.5V90H1894.5V85H1896.5V54H1898.5V94H1902.5V96H1904.5V94H1906.5V99H1908.5V92H1910.5V85H1912.5V42H1914.5V63H1916.5V96H1920.5V71H1922.5V96H1928.5V95H1930.5V90H1932.5V96H1934.5V91H1936.5V86H1940.5V53H1942.5V85H1944.5V98H1946.5V94H1948.5V91H1950.5V85H1952.5V86H1954.5V57H1956.5V87H1960.5V98H1962.5V89H1964.5V99H1966.5V90H1968.5V70H1970.5V96H1972.5V95H1974.5V94H1976.5V99H1978.5V37H1980.5V54H1982.5V90H1984.5V94H1986.5V96H1988.5V97H1990.5V96H1994.5V91H1996.5V89H1998.5V86H2000.5V85H2002.5V93H2006.5V96H2016.5V94H2018.5V99H2020.5V93H2022.5V61H2024.5V94H2026.5V93H2030.5V69H2032.5V95H2034.5V96H2036.5V95H2038.5V92H2040.5V85H2042.5V83H2044.5V57H2046.5V83H2048.5V68H2050.5V89H2052.5V96H2054.5V99H2056.5V96H2062.5V94H2064.5V99H2066.5V92H2067V100z"/>
</g>
</g>
<text x="3" y="41" font-size="65" font-weight="bold">a</text>
<text x="54.5" y="94.8" font-size="36" font-weight="bold">K2</text>
<text x="54.5" y="204.8" font-size="36" font-weight="bold">K3</text>
<text x="54.5" y="314.5" font-size="36" font-weight="bold">K5</text>
<text x="54.5" y="424" font-size="36" font-weight="bold">K9</text>
<text x="54.5" y="534.3" font-size="36" font-weight="bold">K14</text>
<text x="54.5" y="643.3" font-size="36" font-weight="bold" fill="#e30613">K15</text>
<text x="54.5" y="752.3" font-size="36" font-weight="bold">K16</text>
<text x="157" y="814" font-size="30" font-style="italic" text-anchor="end" transform="rotate(-50 157 814)">Teosinte (mix)</text>
<text x="207" y="810" font-size="29" font-style="italic" text-anchor="end" transform="rotate(-50 207 810)">nicaraguensis</text>
<text x="248" y="811" font-size="29" font-style="italic" text-anchor="end" transform="rotate(-50 248 811)">luxurians</text>
<text x="301" y="813" font-size="29" font-style="italic" text-anchor="end" transform="rotate(-50 301 813)">diploperennis</text>
<text x="352" y="814" font-size="29" font-style="italic" text-anchor="end" transform="rotate(-50 352 814)">perennis</text>
<text x="391" y="814" font-size="29" font-style="italic" text-anchor="end" transform="rotate(-50 391 814)">huehuetenangensis</text>
<text x="415" y="821" font-size="29.5" font-style="italic">mexicana</text>
<text x="616" y="821" font-size="29.5" font-style="italic">parviglumis</text>
<text x="1004" y="822" font-size="29.5" font-style="italic">maize (TST)</text>
<text x="1676" y="823" font-size="29.5" font-style="italic">maize (TEM)</text>
<text x="2119" y="823" font-size="29.5" font-style="italic" text-anchor="end" transform="rotate(-30 2119 823)">maize (mix)</text>
<text x="3" y="1080" font-size="64" font-weight="bold">b</text>
<path d="M193 1035V1856.5H1086" fill="none" stroke="#000" stroke-width="2.5"/>
<path d="M186.5 1246.3H193M186.5 1460.8H193M186.5 1676H193M233 1856.5V1864M323.3 1856.5V1864M413.6 1856.5V1864M503.9 1856.5V1864M594.2 1856.5V1864M684.5 1856.5V1864M774.8 1856.5V1864M865.1 1856.5V1864M955.4 1856.5V1864M1045.7 1856.5V1864" fill="none" stroke="#000" stroke-width="2"/>
<text x="176.5" y="1255.8" font-size="37" text-anchor="end">0.75</text>
<text x="176.5" y="1470.3" font-size="37" text-anchor="end">0.72</text>
<text x="176.5" y="1685.5" font-size="37" text-anchor="end">0.69</text>
<text x="231.5" y="1901.5" font-size="37" text-anchor="middle">2</text>
<text x="321.8" y="1901.5" font-size="37" text-anchor="middle">4</text>
<text x="412.1" y="1901.5" font-size="37" text-anchor="middle">6</text>
<text x="502.4" y="1901.5" font-size="37" text-anchor="middle">8</text>
<text x="592.7" y="1901.5" font-size="37" text-anchor="middle">10</text>
<text x="683" y="1901.5" font-size="37" text-anchor="middle">12</text>
<text x="773.3" y="1901.5" font-size="37" text-anchor="middle">14</text>
<text x="863.6" y="1901.5" font-size="37" text-anchor="middle">16</text>
<text x="953.9" y="1901.5" font-size="37" text-anchor="middle">18</text>
<text x="1044.2" y="1901.5" font-size="37" text-anchor="middle">20</text>
<text x="617.5" y="1960.5" font-size="45" font-weight="bold" text-anchor="middle">K</text>
<text x="88" y="1459" font-size="45" font-weight="bold" text-anchor="middle" transform="rotate(-90 88 1459)">Cross-validation error</text>
<polyline points="233,1072 278.4,1255.5 323.3,1340.6 368.7,1482.1 413.6,1549.4 459,1590.8 504.5,1625.9 549.3,1662.2 594.2,1682.3 639.6,1730 684.5,1757.6 730,1757.6 774.8,1796.7 819.7,1819.8 864.5,1807.1 910,1804.2 955.4,1816.3 1000.9,1816.3 1045.7,1812.9" fill="none" stroke="#1f6fb5" stroke-width="2.6" stroke-linejoin="round"/>
<path d="M219 1072h28 M233 1058v28 M223.1 1062.1l19.8 19.8 M223.1 1081.9l19.8 -19.8M264.4 1255.5h28 M278.4 1241.5v28 M268.5 1245.6l19.8 19.8 M268.5 1265.4l19.8 -19.8M309.3 1340.6h28 M323.3 1326.6v28 M313.4 1330.7l19.8 19.8 M313.4 1350.5l19.8 -19.8M354.7 1482.1h28 M368.7 1468.1v28 M358.8 1472.2l19.8 19.8 M358.8 1492l19.8 -19.8M399.6 1549.4h28 M413.6 1535.4v28 M403.7 1539.5l19.8 19.8 M403.7 1559.3l19.8 -19.8M445 1590.8h28 M459 1576.8v28 M449.1 1580.9l19.8 19.8 M449.1 1600.7l19.8 -19.8M490.5 1625.9h28 M504.5 1611.9v28 M494.6 1616l19.8 19.8 M494.6 1635.8l19.8 -19.8M535.3 1662.2h28 M549.3 1648.2v28 M539.4 1652.3l19.8 19.8 M539.4 1672.1l19.8 -19.8M580.2 1682.3h28 M594.2 1668.3v28 M584.3 1672.4l19.8 19.8 M584.3 1692.2l19.8 -19.8M625.6 1730h28 M639.6 1716v28 M629.7 1720.1l19.8 19.8 M629.7 1739.9l19.8 -19.8M670.5 1757.6h28 M684.5 1743.6v28 M674.6 1747.7l19.8 19.8 M674.6 1767.5l19.8 -19.8M716 1757.6h28 M730 1743.6v28 M720.1 1747.7l19.8 19.8 M720.1 1767.5l19.8 -19.8M760.8 1796.7h28 M774.8 1782.7v28 M764.9 1786.8l19.8 19.8 M764.9 1806.6l19.8 -19.8M805.7 1819.8h28 M819.7 1805.8v28 M809.8 1809.9l19.8 19.8 M809.8 1829.7l19.8 -19.8M850.5 1807.1h28 M864.5 1793.1v28 M854.6 1797.2l19.8 19.8 M854.6 1817l19.8 -19.8M896 1804.2h28 M910 1790.2v28 M900.1 1794.3l19.8 19.8 M900.1 1814.1l19.8 -19.8M941.4 1816.3h28 M955.4 1802.3v28 M945.5 1806.4l19.8 19.8 M945.5 1826.2l19.8 -19.8M986.9 1816.3h28 M1000.9 1802.3v28 M991 1806.4l19.8 19.8 M991 1826.2l19.8 -19.8M1031.7 1812.9h28 M1045.7 1798.9v28 M1035.8 1803l19.8 19.8 M1035.8 1822.8l19.8 -19.8" fill="none" stroke="#1f6fb5" stroke-width="1.7"/>
<text x="1073" y="935" font-size="64" font-weight="bold">c</text>
<path d="M1818 912V1885.5M1100.5 1452.5H2073" fill="none" stroke="#000" stroke-width="2.2"/>
<path d="M1812.5 948H1818M1812.5 1200H1818M1812.5 1704.6H1818M1100.6 1452.5V1458.5M1459.3 1452.5V1458.5" fill="none" stroke="#000" stroke-width="2"/>
<text x="1803" y="961.5" font-size="37" text-anchor="end">0.10</text>
<text x="1803" y="1213.5" font-size="37" text-anchor="end">0.05</text>
<text x="1803" y="1718.1" font-size="37" text-anchor="end">-0.05</text>
<text x="1802" y="1466.5" font-size="37" text-anchor="end">0</text>
<text x="1084.5" y="1498" font-size="37" text-anchor="middle">-0.10</text>
<text x="1452" y="1498" font-size="37" text-anchor="middle">-0.05</text>
<text x="1560" y="1958" font-size="43" font-weight="bold" text-anchor="middle">PC1</text>
<text x="2116" y="1430" font-size="43" font-weight="bold" text-anchor="middle" transform="rotate(-90 2116 1430)">PC2</text>
<circle cx="1417.5" cy="976.25" r="4" fill="#f39a3c"/>
<text x="1450.75" y="986.25" font-size="29.5" font-style="italic">nicaraguensis</text>
<circle cx="1417.5" cy="1021.75" r="4" fill="#e0387f"/>
<text x="1451.75" y="1030.75" font-size="33" font-style="italic">luxurians</text>
<circle cx="1417.5" cy="1062.75" r="4" fill="#7a1f2e"/>
<text x="1448.75" y="1070.75" font-size="29.5" font-style="italic">diploperennis</text>
<circle cx="1417.5" cy="1097.75" r="4" fill="#2f9fdc"/>
<text x="1448.75" y="1107.5" font-size="29.5" font-style="italic">perennis</text>
<circle cx="1417.5" cy="1140.25" r="4" fill="#12824a"/>
<text x="1450" y="1148.75" font-size="29.5" font-style="italic">huehuetenangensis</text>
<circle cx="1417.5" cy="1178.5" r="4" fill="#1f6fc0"/>
<text x="1450" y="1188.75" font-size="29.5" font-style="italic">mexicana</text>
<circle cx="1417.5" cy="1218.75" r="4" fill="#f04028"/>
<text x="1448.75" y="1225.5" font-size="29.5" font-style="italic">parviglumis</text>
<circle cx="1417.5" cy="1256.25" r="4" fill="#8a55c5"/>
<text x="1442" y="1266.25" font-size="30" font-style="italic">Teosinte (mix)</text>
<circle cx="1875.8" cy="1067.8" r="4.2" fill="#7cc0ee"/>
<text x="1899.3" y="1078.4" font-size="29.5" font-style="italic">maize (TST)</text>
<circle cx="1875.8" cy="1108.2" r="3.8" fill="#46583e"/>
<text x="1900.1" y="1116.4" font-size="29.5" font-style="italic">maize (TEM)</text>
<circle cx="1877" cy="1147.4" r="4.7" fill="#f6b3b0"/>
<text x="1898.4" y="1155.9" font-size="29.5" font-style="italic">maize (mix)</text>
<path fill="#f39a3c" d="M1191.85 956.25a3.9 3.9 0 1 0 7.8 0a3.9 3.9 0 1 0 -7.8 0M1192.35 962.5a3.9 3.9 0 1 0 7.8 0a3.9 3.9 0 1 0 -7.8 0M1202.35 963.75a3.9 3.9 0 1 0 7.8 0a3.9 3.9 0 1 0 -7.8 0M1205.35 967a3.9 3.9 0 1 0 7.8 0a3.9 3.9 0 1 0 -7.8 0M1215.6 972.5a3.9 3.9 0 1 0 7.8 0a3.9 3.9 0 1 0 -7.8 0M1222.6 975a3.9 3.9 0 1 0 7.8 0a3.9 3.9 0 1 0 -7.8 0M1224.1 979.5a3.9 3.9 0 1 0 7.8 0a3.9 3.9 0 1 0 -7.8 0M1225.6 983.75a3.9 3.9 0 1 0 7.8 0a3.9 3.9 0 1 0 -7.8 0M1228.6 987.5a3.9 3.9 0 1 0 7.8 0a3.9 3.9 0 1 0 -7.8 0M1233.1 988a3.9 3.9 0 1 0 7.8 0a3.9 3.9 0 1 0 -7.8 0M1230.6 993.75a3.9 3.9 0 1 0 7.8 0a3.9 3.9 0 1 0 -7.8 0M1233.6 994.5a3.9 3.9 0 1 0 7.8 0a3.9 3.9 0 1 0 -7.8 0M1256.85 999.25a3.9 3.9 0 1 0 7.8 0a3.9 3.9 0 1 0 -7.8 0"/>
<path fill="#e8308a" d="M1188.6 977.5a3.9 3.9 0 1 0 7.8 0a3.9 3.9 0 1 0 -7.8 0M1191.1 975a3.9 3.9 0 1 0 7.8 0a3.9 3.9 0 1 0 -7.8 0M1195.6 974.5a3.9 3.9 0 1 0 7.8 0a3.9 3.9 0 1 0 -7.8 0M1192.35 980.5a3.9 3.9 0 1 0 7.8 0a3.9 3.9 0 1 0 -7.8 0M1196.6 979.5a3.9 3.9 0 1 0 7.8 0a3.9 3.9 0 1 0 -7.8 0M1194.85 984.5a3.9 3.9 0 1 0 7.8 0a3.9 3.9 0 1 0 -7.8 0M1199.85 982.5a3.9 3.9 0 1 0 7.8 0a3.9 3.9 0 1 0 -7.8 0M1202.35 985a3.9 3.9 0 1 0 7.8 0a3.9 3.9 0 1 0 -7.8 0M1201.1 988.75a3.9 3.9 0 1 0 7.8 0a3.9 3.9 0 1 0 -7.8 0M1206.6 988a3.9 3.9 0 1 0 7.8 0a3.9 3.9 0 1 0 -7.8 0M1203.6 990a3.9 3.9 0 1 0 7.8 0a3.9 3.9 0 1 0 -7.8 0M1243.35 1012.25a3.9 3.9 0 1 0 7.8 0a3.9 3.9 0 1 0 -7.8 0M1263.35 1017.25a3.9 3.9 0 1 0 7.8 0a3.9 3.9 0 1 0 -7.8 0M1281.6 1027.75a3.9 3.9 0 1 0 7.8 0a3.9 3.9 0 1 0 -7.8 0M1325.1 1054.5a3.9 3.9 0 1 0 7.8 0a3.9 3.9 0 1 0 -7.8 0"/>
<path fill="#7a1f2e" d="M1138.6 1066.75a3.9 3.9 0 1 0 7.8 0a3.9 3.9 0 1 0 -7.8 0M1140.35 1072.5a3.9 3.9 0 1 0 7.8 0a3.9 3.9 0 1 0 -7.8 0M1144.1 1072a3.9 3.9 0 1 0 7.8 0a3.9 3.9 0 1 0 -7.8 0M1145.35 1078a3.9 3.9 0 1 0 7.8 0a3.9 3.9 0 1 0 -7.8 0M1151.85 1080a3.9 3.9 0 1 0 7.8 0a3.9 3.9 0 1 0 -7.8 0M1174.85 1075.5a3.9 3.9 0 1 0 7.8 0a3.9 3.9 0 1 0 -7.8 0M1176.1 1078a3.9 3.9 0 1 0 7.8 0a3.9 3.9 0 1 0 -7.8 0M1165.6 1085a3.9 3.9 0 1 0 7.8 0a3.9 3.9 0 1 0 -7.8 0M1174.1 1085.5a3.9 3.9 0 1 0 7.8 0a3.9 3.9 0 1 0 -7.8 0M1164.85 1088a3.9 3.9 0 1 0 7.8 0a3.9 3.9 0 1 0 -7.8 0M1188.1 1081.75a3.9 3.9 0 1 0 7.8 0a3.9 3.9 0 1 0 -7.8 0M1199.85 1092.75a3.9 3.9 0 1 0 7.8 0a3.9 3.9 0 1 0 -7.8 0M1191.1 1099.25a3.9 3.9 0 1 0 7.8 0a3.9 3.9 0 1 0 -7.8 0M1223.1 1103.75a3.9 3.9 0 1 0 7.8 0a3.9 3.9 0 1 0 -7.8 0"/>
<path fill="#2f9fdc" d="M1156.6 1119.25a3.9 3.9 0 1 0 7.8 0a3.9 3.9 0 1 0 -7.8 0M1158.1 1122.5a3.9 3.9 0 1 0 7.8 0a3.9 3.9 0 1 0 -7.8 0M1160.6 1125.5a3.9 3.9 0 1 0 7.8 0a3.9 3.9 0 1 0 -7.8 0M1161.6 1133.75a3.9 3.9 0 1 0 7.8 0a3.9 3.9 0 1 0 -7.8 0M1162.35 1138a3.9 3.9 0 1 0 7.8 0a3.9 3.9 0 1 0 -7.8 0M1162.6 1141.75a3.9 3.9 0 1 0 7.8 0a3.9 3.9 0 1 0 -7.8 0M1198.35 1128.5a3.9 3.9 0 1 0 7.8 0a3.9 3.9 0 1 0 -7.8 0M1210.35 1142.75a3.9 3.9 0 1 0 7.8 0a3.9 3.9 0 1 0 -7.8 0M1196.1 1147.5a3.9 3.9 0 1 0 7.8 0a3.9 3.9 0 1 0 -7.8 0M1206.1 1152a3.9 3.9 0 1 0 7.8 0a3.9 3.9 0 1 0 -7.8 0M1208.1 1152.5a3.9 3.9 0 1 0 7.8 0a3.9 3.9 0 1 0 -7.8 0M1178.6 1167a3.9 3.9 0 1 0 7.8 0a3.9 3.9 0 1 0 -7.8 0M1183.85 1169.5a3.9 3.9 0 1 0 7.8 0a3.9 3.9 0 1 0 -7.8 0M1222.85 1166.75a3.9 3.9 0 1 0 7.8 0a3.9 3.9 0 1 0 -7.8 0M1234.85 1175a3.9 3.9 0 1 0 7.8 0a3.9 3.9 0 1 0 -7.8 0M1244.6 1191.75a3.9 3.9 0 1 0 7.8 0a3.9 3.9 0 1 0 -7.8 0M1251.6 1193.25a3.9 3.9 0 1 0 7.8 0a3.9 3.9 0 1 0 -7.8 0M1270.6 1199.5a3.9 3.9 0 1 0 7.8 0a3.9 3.9 0 1 0 -7.8 0M1214.6 1206.25a3.9 3.9 0 1 0 7.8 0a3.9 3.9 0 1 0 -7.8 0"/>
<path fill="#12824a" d="M1411.85 1568.5a3.9 3.9 0 1 0 7.8 0a3.9 3.9 0 1 0 -7.8 0M1418.6 1565.75a3.9 3.9 0 1 0 7.8 0a3.9 3.9 0 1 0 -7.8 0M1416.85 1572.5a3.9 3.9 0 1 0 7.8 0a3.9 3.9 0 1 0 -7.8 0M1417.35 1577a3.9 3.9 0 1 0 7.8 0a3.9 3.9 0 1 0 -7.8 0M1433.1 1563.75a3.9 3.9 0 1 0 7.8 0a3.9 3.9 0 1 0 -7.8 0"/>
<path fill="#1f6fc0" d="M1491.1 1820a3.9 3.9 0 1 0 7.8 0a3.9 3.9 0 1 0 -7.8 0M1496.1 1815a3.9 3.9 0 1 0 7.8 0a3.9 3.9 0 1 0 -7.8 0M1501.1 1810a3.9 3.9 0 1 0 7.8 0a3.9 3.9 0 1 0 -7.8 0M1508.6 1805a3.9 3.9 0 1 0 7.8 0a3.9 3.9 0 1 0 -7.8 0M1514.85 1802.5a3.9 3.9 0 1 0 7.8 0a3.9 3.9 0 1 0 -7.8 0M1514.85 1810a3.9 3.9 0 1 0 7.8 0a3.9 3.9 0 1 0 -7.8 0M1506.1 1810a3.9 3.9 0 1 0 7.8 0a3.9 3.9 0 1 0 -7.8 0M1493.6 1825a3.9 3.9 0 1 0 7.8 0a3.9 3.9 0 1 0 -7.8 0M1499.85 1793.5a3.9 3.9 0 1 0 7.8 0a3.9 3.9 0 1 0 -7.8 0M1522.35 1792a3.9 3.9 0 1 0 7.8 0a3.9 3.9 0 1 0 -7.8 0M1528.6 1785a3.9 3.9 0 1 0 7.8 0a3.9 3.9 0 1 0 -7.8 0M1533.1 1783a3.9 3.9 0 1 0 7.8 0a3.9 3.9 0 1 0 -7.8 0M1543.1 1784a3.9 3.9 0 1 0 7.8 0a3.9 3.9 0 1 0 -7.8 0M1543.6 1775.75a3.9 3.9 0 1 0 7.8 0a3.9 3.9 0 1 0 -7.8 0M1509.85 1777a3.9 3.9 0 1 0 7.8 0a3.9 3.9 0 1 0 -7.8 0M1520.35 1778.25a3.9 3.9 0 1 0 7.8 0a3.9 3.9 0 1 0 -7.8 0M1521.1 1767.5a3.9 3.9 0 1 0 7.8 0a3.9 3.9 0 1 0 -7.8 0M1526.1 1762.5a3.9 3.9 0 1 0 7.8 0a3.9 3.9 0 1 0 -7.8 0M1499.85 1759.25a3.9 3.9 0 1 0 7.8 0a3.9 3.9 0 1 0 -7.8 0M1514.85 1755a3.9 3.9 0 1 0 7.8 0a3.9 3.9 0 1 0 -7.8 0M1523.6 1755.5a3.9 3.9 0 1 0 7.8 0a3.9 3.9 0 1 0 -7.8 0M1529.85 1753.75a3.9 3.9 0 1 0 7.8 0a3.9 3.9 0 1 0 -7.8 0M1532.35 1750a3.9 3.9 0 1 0 7.8 0a3.9 3.9 0 1 0 -7.8 0M1516.1 1748.75a3.9 3.9 0 1 0 7.8 0a3.9 3.9 0 1 0 -7.8 0M1521.1 1747.5a3.9 3.9 0 1 0 7.8 0a3.9 3.9 0 1 0 -7.8 0M1539.85 1747.5a3.9 3.9 0 1 0 7.8 0a3.9 3.9 0 1 0 -7.8 0M1543.1 1742.5a3.9 3.9 0 1 0 7.8 0a3.9 3.9 0 1 0 -7.8 0M1553.1 1740a3.9 3.9 0 1 0 7.8 0a3.9 3.9 0 1 0 -7.8 0M1561.85 1734a3.9 3.9 0 1 0 7.8 0a3.9 3.9 0 1 0 -7.8 0M1584.85 1745.5a3.9 3.9 0 1 0 7.8 0a3.9 3.9 0 1 0 -7.8 0M1541.1 1719.75a3.9 3.9 0 1 0 7.8 0a3.9 3.9 0 1 0 -7.8 0M1521.1 1725a3.9 3.9 0 1 0 7.8 0a3.9 3.9 0 1 0 -7.8 0M1473.74 1834.45a3.9 3.9 0 1 0 7.8 0a3.9 3.9 0 1 0 -7.8 0M1480.88 1818.1a3.9 3.9 0 1 0 7.8 0a3.9 3.9 0 1 0 -7.8 0M1472.87 1838.47a3.9 3.9 0 1 0 7.8 0a3.9 3.9 0 1 0 -7.8 0M1482.65 1824.81a3.9 3.9 0 1 0 7.8 0a3.9 3.9 0 1 0 -7.8 0M1484.06 1823.74a3.9 3.9 0 1 0 7.8 0a3.9 3.9 0 1 0 -7.8 0M1478.59 1826.26a3.9 3.9 0 1 0 7.8 0a3.9 3.9 0 1 0 -7.8 0M1481.33 1828.63a3.9 3.9 0 1 0 7.8 0a3.9 3.9 0 1 0 -7.8 0M1477.54 1837.89a3.9 3.9 0 1 0 7.8 0a3.9 3.9 0 1 0 -7.8 0M1466.35 1836.25a3.9 3.9 0 1 0 7.8 0a3.9 3.9 0 1 0 -7.8 0M1485.45 1828.56a3.9 3.9 0 1 0 7.8 0a3.9 3.9 0 1 0 -7.8 0M1476.71 1826.86a3.9 3.9 0 1 0 7.8 0a3.9 3.9 0 1 0 -7.8 0M1482.65 1823.09a3.9 3.9 0 1 0 7.8 0a3.9 3.9 0 1 0 -7.8 0M1471.05 1836.91a3.9 3.9 0 1 0 7.8 0a3.9 3.9 0 1 0 -7.8 0M1475.65 1833.86a3.9 3.9 0 1 0 7.8 0a3.9 3.9 0 1 0 -7.8 0M1487.58 1828.14a3.9 3.9 0 1 0 7.8 0a3.9 3.9 0 1 0 -7.8 0M1475.99 1828.73a3.9 3.9 0 1 0 7.8 0a3.9 3.9 0 1 0 -7.8 0M1480.41 1828.96a3.9 3.9 0 1 0 7.8 0a3.9 3.9 0 1 0 -7.8 0M1482.11 1826.83a3.9 3.9 0 1 0 7.8 0a3.9 3.9 0 1 0 -7.8 0M1479.66 1830.17a3.9 3.9 0 1 0 7.8 0a3.9 3.9 0 1 0 -7.8 0M1485.01 1826.97a3.9 3.9 0 1 0 7.8 0a3.9 3.9 0 1 0 -7.8 0M1480.48 1828.44a3.9 3.9 0 1 0 7.8 0a3.9 3.9 0 1 0 -7.8 0M1481.85 1826.99a3.9 3.9 0 1 0 7.8 0a3.9 3.9 0 1 0 -7.8 0M1478.88 1821.53a3.9 3.9 0 1 0 7.8 0a3.9 3.9 0 1 0 -7.8 0M1477.08 1834.95a3.9 3.9 0 1 0 7.8 0a3.9 3.9 0 1 0 -7.8 0M1478.05 1822.41a3.9 3.9 0 1 0 7.8 0a3.9 3.9 0 1 0 -7.8 0M1474.8 1837.16a3.9 3.9 0 1 0 7.8 0a3.9 3.9 0 1 0 -7.8 0M1482.88 1828.49a3.9 3.9 0 1 0 7.8 0a3.9 3.9 0 1 0 -7.8 0M1482.88 1824.52a3.9 3.9 0 1 0 7.8 0a3.9 3.9 0 1 0 -7.8 0M1471.94 1831a3.9 3.9 0 1 0 7.8 0a3.9 3.9 0 1 0 -7.8 0M1481.6 1834.34a3.9 3.9 0 1 0 7.8 0a3.9 3.9 0 1 0 -7.8 0M1477.06 1831.89a3.9 3.9 0 1 0 7.8 0a3.9 3.9 0 1 0 -7.8 0M1473.69 1833.07a3.9 3.9 0 1 0 7.8 0a3.9 3.9 0 1 0 -7.8 0M1475.06 1831.53a3.9 3.9 0 1 0 7.8 0a3.9 3.9 0 1 0 -7.8 0M1481.9 1827.15a3.9 3.9 0 1 0 7.8 0a3.9 3.9 0 1 0 -7.8 0M1477.84 1838.48a3.9 3.9 0 1 0 7.8 0a3.9 3.9 0 1 0 -7.8 0M1485.45 1824.52a3.9 3.9 0 1 0 7.8 0a3.9 3.9 0 1 0 -7.8 0M1477.7 1825.99a3.9 3.9 0 1 0 7.8 0a3.9 3.9 0 1 0 -7.8 0M1484.83 1827.98a3.9 3.9 0 1 0 7.8 0a3.9 3.9 0 1 0 -7.8 0M1476.96 1836.13a3.9 3.9 0 1 0 7.8 0a3.9 3.9 0 1 0 -7.8 0M1474.75 1831.71a3.9 3.9 0 1 0 7.8 0a3.9 3.9 0 1 0 -7.8 0M1485.82 1822.19a3.9 3.9 0 1 0 7.8 0a3.9 3.9 0 1 0 -7.8 0M1475.84 1834.31a3.9 3.9 0 1 0 7.8 0a3.9 3.9 0 1 0 -7.8 0M1480.18 1830.58a3.9 3.9 0 1 0 7.8 0a3.9 3.9 0 1 0 -7.8 0M1474.94 1840.26a3.9 3.9 0 1 0 7.8 0a3.9 3.9 0 1 0 -7.8 0M1478.47 1830.83a3.9 3.9 0 1 0 7.8 0a3.9 3.9 0 1 0 -7.8 0M1475.52 1839.08a3.9 3.9 0 1 0 7.8 0a3.9 3.9 0 1 0 -7.8 0M1480.25 1827.76a3.9 3.9 0 1 0 7.8 0a3.9 3.9 0 1 0 -7.8 0M1483.2 1828.56a3.9 3.9 0 1 0 7.8 0a3.9 3.9 0 1 0 -7.8 0M1477.75 1832.41a3.9 3.9 0 1 0 7.8 0a3.9 3.9 0 1 0 -7.8 0M1468.41 1840.65a3.9 3.9 0 1 0 7.8 0a3.9 3.9 0 1 0 -7.8 0M1480.99 1828.27a3.9 3.9 0 1 0 7.8 0a3.9 3.9 0 1 0 -7.8 0M1475.96 1835.2a3.9 3.9 0 1 0 7.8 0a3.9 3.9 0 1 0 -7.8 0M1482.24 1823.12a3.9 3.9 0 1 0 7.8 0a3.9 3.9 0 1 0 -7.8 0M1487.63 1819.9a3.9 3.9 0 1 0 7.8 0a3.9 3.9 0 1 0 -7.8 0M1476 1832.15a3.9 3.9 0 1 0 7.8 0a3.9 3.9 0 1 0 -7.8 0M1475.97 1835.42a3.9 3.9 0 1 0 7.8 0a3.9 3.9 0 1 0 -7.8 0M1474.34 1832.77a3.9 3.9 0 1 0 7.8 0a3.9 3.9 0 1 0 -7.8 0M1481.19 1834.09a3.9 3.9 0 1 0 7.8 0a3.9 3.9 0 1 0 -7.8 0M1482.04 1828.81a3.9 3.9 0 1 0 7.8 0a3.9 3.9 0 1 0 -7.8 0M1478.22 1832.22a3.9 3.9 0 1 0 7.8 0a3.9 3.9 0 1 0 -7.8 0M1474.72 1834.38a3.9 3.9 0 1 0 7.8 0a3.9 3.9 0 1 0 -7.8 0M1475.16 1835.29a3.9 3.9 0 1 0 7.8 0a3.9 3.9 0 1 0 -7.8 0M1480.05 1826.22a3.9 3.9 0 1 0 7.8 0a3.9 3.9 0 1 0 -7.8 0M1476.5 1832.69a3.9 3.9 0 1 0 7.8 0a3.9 3.9 0 1 0 -7.8 0M1471.82 1824.44a3.9 3.9 0 1 0 7.8 0a3.9 3.9 0 1 0 -7.8 0M1477.27 1832.12a3.9 3.9 0 1 0 7.8 0a3.9 3.9 0 1 0 -7.8 0M1477.88 1828.57a3.9 3.9 0 1 0 7.8 0a3.9 3.9 0 1 0 -7.8 0M1476.41 1831.34a3.9 3.9 0 1 0 7.8 0a3.9 3.9 0 1 0 -7.8 0M1476.77 1833.64a3.9 3.9 0 1 0 7.8 0a3.9 3.9 0 1 0 -7.8 0M1479.21 1838.6a3.9 3.9 0 1 0 7.8 0a3.9 3.9 0 1 0 -7.8 0"/>
<path fill="#f8391f" d="M1581.6 1601.75a3.9 3.9 0 1 0 7.8 0a3.9 3.9 0 1 0 -7.8 0M1600.35 1607.5a3.9 3.9 0 1 0 7.8 0a3.9 3.9 0 1 0 -7.8 0M1564.85 1610.75a3.9 3.9 0 1 0 7.8 0a3.9 3.9 0 1 0 -7.8 0M1559.85 1613.75a3.9 3.9 0 1 0 7.8 0a3.9 3.9 0 1 0 -7.8 0M1553.6 1616.25a3.9 3.9 0 1 0 7.8 0a3.9 3.9 0 1 0 -7.8 0M1546.1 1620a3.9 3.9 0 1 0 7.8 0a3.9 3.9 0 1 0 -7.8 0M1556.1 1623.75a3.9 3.9 0 1 0 7.8 0a3.9 3.9 0 1 0 -7.8 0M1546.1 1628a3.9 3.9 0 1 0 7.8 0a3.9 3.9 0 1 0 -7.8 0M1572.35 1617.5a3.9 3.9 0 1 0 7.8 0a3.9 3.9 0 1 0 -7.8 0M1582.35 1617.5a3.9 3.9 0 1 0 7.8 0a3.9 3.9 0 1 0 -7.8 0M1589.85 1621.25a3.9 3.9 0 1 0 7.8 0a3.9 3.9 0 1 0 -7.8 0M1598.1 1618.75a3.9 3.9 0 1 0 7.8 0a3.9 3.9 0 1 0 -7.8 0M1576.1 1625a3.9 3.9 0 1 0 7.8 0a3.9 3.9 0 1 0 -7.8 0M1568.6 1630a3.9 3.9 0 1 0 7.8 0a3.9 3.9 0 1 0 -7.8 0M1573.6 1633.75a3.9 3.9 0 1 0 7.8 0a3.9 3.9 0 1 0 -7.8 0M1563.6 1636.25a3.9 3.9 0 1 0 7.8 0a3.9 3.9 0 1 0 -7.8 0M1558.6 1640a3.9 3.9 0 1 0 7.8 0a3.9 3.9 0 1 0 -7.8 0M1567.35 1642.5a3.9 3.9 0 1 0 7.8 0a3.9 3.9 0 1 0 -7.8 0M1587.35 1635a3.9 3.9 0 1 0 7.8 0a3.9 3.9 0 1 0 -7.8 0M1603.6 1639.25a3.9 3.9 0 1 0 7.8 0a3.9 3.9 0 1 0 -7.8 0M1599.85 1641.25a3.9 3.9 0 1 0 7.8 0a3.9 3.9 0 1 0 -7.8 0M1586.1 1644.5a3.9 3.9 0 1 0 7.8 0a3.9 3.9 0 1 0 -7.8 0M1567.35 1648.75a3.9 3.9 0 1 0 7.8 0a3.9 3.9 0 1 0 -7.8 0M1578.6 1651.25a3.9 3.9 0 1 0 7.8 0a3.9 3.9 0 1 0 -7.8 0M1584.85 1652.5a3.9 3.9 0 1 0 7.8 0a3.9 3.9 0 1 0 -7.8 0M1594.85 1652.5a3.9 3.9 0 1 0 7.8 0a3.9 3.9 0 1 0 -7.8 0M1577.35 1657.5a3.9 3.9 0 1 0 7.8 0a3.9 3.9 0 1 0 -7.8 0M1583.6 1658.75a3.9 3.9 0 1 0 7.8 0a3.9 3.9 0 1 0 -7.8 0M1593.6 1657.5a3.9 3.9 0 1 0 7.8 0a3.9 3.9 0 1 0 -7.8 0M1571.1 1628.75a3.9 3.9 0 1 0 7.8 0a3.9 3.9 0 1 0 -7.8 0M1569.85 1636.25a3.9 3.9 0 1 0 7.8 0a3.9 3.9 0 1 0 -7.8 0M1564.85 1632.5a3.9 3.9 0 1 0 7.8 0a3.9 3.9 0 1 0 -7.8 0M1574.85 1637.5a3.9 3.9 0 1 0 7.8 0a3.9 3.9 0 1 0 -7.8 0M1561.1 1635a3.9 3.9 0 1 0 7.8 0a3.9 3.9 0 1 0 -7.8 0M1571.1 1640a3.9 3.9 0 1 0 7.8 0a3.9 3.9 0 1 0 -7.8 0M1578.6 1622.5a3.9 3.9 0 1 0 7.8 0a3.9 3.9 0 1 0 -7.8 0M1581.1 1628.75a3.9 3.9 0 1 0 7.8 0a3.9 3.9 0 1 0 -7.8 0M1522.85 1660.5a3.9 3.9 0 1 0 7.8 0a3.9 3.9 0 1 0 -7.8 0M1532.35 1663.75a3.9 3.9 0 1 0 7.8 0a3.9 3.9 0 1 0 -7.8 0M1536.6 1664.5a3.9 3.9 0 1 0 7.8 0a3.9 3.9 0 1 0 -7.8 0M1529.85 1667.5a3.9 3.9 0 1 0 7.8 0a3.9 3.9 0 1 0 -7.8 0M1533.6 1670a3.9 3.9 0 1 0 7.8 0a3.9 3.9 0 1 0 -7.8 0M1526.1 1671.25a3.9 3.9 0 1 0 7.8 0a3.9 3.9 0 1 0 -7.8 0M1518.6 1672.5a3.9 3.9 0 1 0 7.8 0a3.9 3.9 0 1 0 -7.8 0M1531.1 1673.75a3.9 3.9 0 1 0 7.8 0a3.9 3.9 0 1 0 -7.8 0M1521.1 1677a3.9 3.9 0 1 0 7.8 0a3.9 3.9 0 1 0 -7.8 0"/>
<path fill="#8a55c5" d="M1793.6 1569a3.9 3.9 0 1 0 7.8 0a3.9 3.9 0 1 0 -7.8 0M1588.6 1667.75a3.9 3.9 0 1 0 7.8 0a3.9 3.9 0 1 0 -7.8 0M1601.6 1678.5a3.9 3.9 0 1 0 7.8 0a3.9 3.9 0 1 0 -7.8 0M1631.1 1679.75a3.9 3.9 0 1 0 7.8 0a3.9 3.9 0 1 0 -7.8 0M1529.6 1682.25a3.9 3.9 0 1 0 7.8 0a3.9 3.9 0 1 0 -7.8 0M1555.6 1705.25a3.9 3.9 0 1 0 7.8 0a3.9 3.9 0 1 0 -7.8 0M1533.6 1717.75a3.9 3.9 0 1 0 7.8 0a3.9 3.9 0 1 0 -7.8 0M1522.35 1721.25a3.9 3.9 0 1 0 7.8 0a3.9 3.9 0 1 0 -7.8 0M1528.6 1723.75a3.9 3.9 0 1 0 7.8 0a3.9 3.9 0 1 0 -7.8 0M1512.35 1729.5a3.9 3.9 0 1 0 7.8 0a3.9 3.9 0 1 0 -7.8 0M1514.85 1734.5a3.9 3.9 0 1 0 7.8 0a3.9 3.9 0 1 0 -7.8 0M1503.6 1736.75a3.9 3.9 0 1 0 7.8 0a3.9 3.9 0 1 0 -7.8 0M1499.85 1738.75a3.9 3.9 0 1 0 7.8 0a3.9 3.9 0 1 0 -7.8 0"/>
<path fill="#f6b3b0" d="M1946.02 1445.98a4.4 4.4 0 1 0 8.8 0a4.4 4.4 0 1 0 -8.8 0M1942.61 1447.68a4.4 4.4 0 1 0 8.8 0a4.4 4.4 0 1 0 -8.8 0M1949.42 1444.27a4.4 4.4 0 1 0 8.8 0a4.4 4.4 0 1 0 -8.8 0M1928.97 1463.02a4.4 4.4 0 1 0 8.8 0a4.4 4.4 0 1 0 -8.8 0M1925.57 1466.43a4.4 4.4 0 1 0 8.8 0a4.4 4.4 0 1 0 -8.8 0M1971.58 1423.82a4.4 4.4 0 1 0 8.8 0a4.4 4.4 0 1 0 -8.8 0M1974.99 1422.12a4.4 4.4 0 1 0 8.8 0a4.4 4.4 0 1 0 -8.8 0M1981.8 1401.67a4.4 4.4 0 1 0 8.8 0a4.4 4.4 0 1 0 -8.8 0M1984.36 1399.97a4.4 4.4 0 1 0 8.8 0a4.4 4.4 0 1 0 -8.8 0M1888.07 1486.03a4.4 4.4 0 1 0 8.8 0a4.4 4.4 0 1 0 -8.8 0M1959.65 1435.75a4.4 4.4 0 1 0 8.8 0a4.4 4.4 0 1 0 -8.8 0M1934.09 1457.91a4.4 4.4 0 1 0 8.8 0a4.4 4.4 0 1 0 -8.8 0"/>
<path fill="#46583e" d="M1874.6 1452.11a3.9 3.9 0 1 0 7.8 0a3.9 3.9 0 1 0 -7.8 0M1872.56 1475.29a3.9 3.9 0 1 0 7.8 0a3.9 3.9 0 1 0 -7.8 0M1920.95 1436.09a3.9 3.9 0 1 0 7.8 0a3.9 3.9 0 1 0 -7.8 0M2013.83 1391.1a3.9 3.9 0 1 0 7.8 0a3.9 3.9 0 1 0 -7.8 0M2024.06 1327.2a3.9 3.9 0 1 0 7.8 0a3.9 3.9 0 1 0 -7.8 0M1997.3 1390.59a3.9 3.9 0 1 0 7.8 0a3.9 3.9 0 1 0 -7.8 0M1891.47 1504.26a3.9 3.9 0 1 0 7.8 0a3.9 3.9 0 1 0 -7.8 0M1899.99 1499.66a3.9 3.9 0 1 0 7.8 0a3.9 3.9 0 1 0 -7.8 0M1900.16 1496.25a3.9 3.9 0 1 0 7.8 0a3.9 3.9 0 1 0 -7.8 0M1901.36 1488.58a3.9 3.9 0 1 0 7.8 0a3.9 3.9 0 1 0 -7.8 0M1893.69 1485.51a3.9 3.9 0 1 0 7.8 0a3.9 3.9 0 1 0 -7.8 0M1897.1 1485.17a3.9 3.9 0 1 0 7.8 0a3.9 3.9 0 1 0 -7.8 0M1904.76 1476.65a3.9 3.9 0 1 0 7.8 0a3.9 3.9 0 1 0 -7.8 0M1906.47 1480.91a3.9 3.9 0 1 0 7.8 0a3.9 3.9 0 1 0 -7.8 0M2020.14 1297.21a3.9 3.9 0 1 0 7.8 0a3.9 3.9 0 1 0 -7.8 0M2024.06 1305.39a3.9 3.9 0 1 0 7.8 0a3.9 3.9 0 1 0 -7.8 0M2019.79 1306.24a3.9 3.9 0 1 0 7.8 0a3.9 3.9 0 1 0 -7.8 0M1925.57 1450.88a3.9 3.9 0 1 0 7.8 0a3.9 3.9 0 1 0 -7.8 0M1975.85 1413.83a3.9 3.9 0 1 0 7.8 0a3.9 3.9 0 1 0 -7.8 0M1911.8 1473.37a3.9 3.9 0 1 0 7.8 0a3.9 3.9 0 1 0 -7.8 0M2020.48 1312.17a3.9 3.9 0 1 0 7.8 0a3.9 3.9 0 1 0 -7.8 0M1904.21 1485.91a3.9 3.9 0 1 0 7.8 0a3.9 3.9 0 1 0 -7.8 0M1973.41 1393.12a3.9 3.9 0 1 0 7.8 0a3.9 3.9 0 1 0 -7.8 0M1996.83 1371.41a3.9 3.9 0 1 0 7.8 0a3.9 3.9 0 1 0 -7.8 0M1975.25 1382.75a3.9 3.9 0 1 0 7.8 0a3.9 3.9 0 1 0 -7.8 0M1942.89 1433.65a3.9 3.9 0 1 0 7.8 0a3.9 3.9 0 1 0 -7.8 0M2012.33 1326.83a3.9 3.9 0 1 0 7.8 0a3.9 3.9 0 1 0 -7.8 0M1959.37 1414.19a3.9 3.9 0 1 0 7.8 0a3.9 3.9 0 1 0 -7.8 0M2000.17 1363.23a3.9 3.9 0 1 0 7.8 0a3.9 3.9 0 1 0 -7.8 0M1994.21 1353.07a3.9 3.9 0 1 0 7.8 0a3.9 3.9 0 1 0 -7.8 0M2006.86 1336.85a3.9 3.9 0 1 0 7.8 0a3.9 3.9 0 1 0 -7.8 0M1958.3 1417.48a3.9 3.9 0 1 0 7.8 0a3.9 3.9 0 1 0 -7.8 0M1931.01 1450.97a3.9 3.9 0 1 0 7.8 0a3.9 3.9 0 1 0 -7.8 0M1897.1 1490.24a3.9 3.9 0 1 0 7.8 0a3.9 3.9 0 1 0 -7.8 0M1967.14 1386.6a3.9 3.9 0 1 0 7.8 0a3.9 3.9 0 1 0 -7.8 0M1936.75 1441.25a3.9 3.9 0 1 0 7.8 0a3.9 3.9 0 1 0 -7.8 0M2009.89 1324.86a3.9 3.9 0 1 0 7.8 0a3.9 3.9 0 1 0 -7.8 0M1928.07 1454.25a3.9 3.9 0 1 0 7.8 0a3.9 3.9 0 1 0 -7.8 0M1984.92 1385.79a3.9 3.9 0 1 0 7.8 0a3.9 3.9 0 1 0 -7.8 0M1914.5 1465.31a3.9 3.9 0 1 0 7.8 0a3.9 3.9 0 1 0 -7.8 0M1932.6 1439.28a3.9 3.9 0 1 0 7.8 0a3.9 3.9 0 1 0 -7.8 0M1920.12 1458.31a3.9 3.9 0 1 0 7.8 0a3.9 3.9 0 1 0 -7.8 0M2008.81 1347.09a3.9 3.9 0 1 0 7.8 0a3.9 3.9 0 1 0 -7.8 0M1954.66 1434.31a3.9 3.9 0 1 0 7.8 0a3.9 3.9 0 1 0 -7.8 0M1938.56 1428.62a3.9 3.9 0 1 0 7.8 0a3.9 3.9 0 1 0 -7.8 0M1962.81 1399.71a3.9 3.9 0 1 0 7.8 0a3.9 3.9 0 1 0 -7.8 0M2017.58 1319.5a3.9 3.9 0 1 0 7.8 0a3.9 3.9 0 1 0 -7.8 0M2015.97 1330.28a3.9 3.9 0 1 0 7.8 0a3.9 3.9 0 1 0 -7.8 0M1995.72 1370.48a3.9 3.9 0 1 0 7.8 0a3.9 3.9 0 1 0 -7.8 0M1986.85 1369.21a3.9 3.9 0 1 0 7.8 0a3.9 3.9 0 1 0 -7.8 0M1961.81 1426.41a3.9 3.9 0 1 0 7.8 0a3.9 3.9 0 1 0 -7.8 0M1980.47 1399.33a3.9 3.9 0 1 0 7.8 0a3.9 3.9 0 1 0 -7.8 0M1992.97 1370.49a3.9 3.9 0 1 0 7.8 0a3.9 3.9 0 1 0 -7.8 0M2000.79 1361.25a3.9 3.9 0 1 0 7.8 0a3.9 3.9 0 1 0 -7.8 0M2015.17 1332.1a3.9 3.9 0 1 0 7.8 0a3.9 3.9 0 1 0 -7.8 0M2005.02 1333.89a3.9 3.9 0 1 0 7.8 0a3.9 3.9 0 1 0 -7.8 0M1944.7 1414.68a3.9 3.9 0 1 0 7.8 0a3.9 3.9 0 1 0 -7.8 0M1952.17 1400.67a3.9 3.9 0 1 0 7.8 0a3.9 3.9 0 1 0 -7.8 0M1976.14 1410.7a3.9 3.9 0 1 0 7.8 0a3.9 3.9 0 1 0 -7.8 0M1921.97 1459.44a3.9 3.9 0 1 0 7.8 0a3.9 3.9 0 1 0 -7.8 0M1966.68 1406.89a3.9 3.9 0 1 0 7.8 0a3.9 3.9 0 1 0 -7.8 0M1946.43 1426.94a3.9 3.9 0 1 0 7.8 0a3.9 3.9 0 1 0 -7.8 0M1904.26 1487.17a3.9 3.9 0 1 0 7.8 0a3.9 3.9 0 1 0 -7.8 0M2000.48 1339.17a3.9 3.9 0 1 0 7.8 0a3.9 3.9 0 1 0 -7.8 0M1915.26 1468.83a3.9 3.9 0 1 0 7.8 0a3.9 3.9 0 1 0 -7.8 0M1971.98 1389.47a3.9 3.9 0 1 0 7.8 0a3.9 3.9 0 1 0 -7.8 0M1987.21 1373.15a3.9 3.9 0 1 0 7.8 0a3.9 3.9 0 1 0 -7.8 0M2002.99 1345.52a3.9 3.9 0 1 0 7.8 0a3.9 3.9 0 1 0 -7.8 0M1949.21 1426.08a3.9 3.9 0 1 0 7.8 0a3.9 3.9 0 1 0 -7.8 0M1985 1391.52a3.9 3.9 0 1 0 7.8 0a3.9 3.9 0 1 0 -7.8 0M1960.02 1413.98a3.9 3.9 0 1 0 7.8 0a3.9 3.9 0 1 0 -7.8 0M2006.66 1348.34a3.9 3.9 0 1 0 7.8 0a3.9 3.9 0 1 0 -7.8 0M1935.35 1428.18a3.9 3.9 0 1 0 7.8 0a3.9 3.9 0 1 0 -7.8 0M1969.25 1375.98a3.9 3.9 0 1 0 7.8 0a3.9 3.9 0 1 0 -7.8 0M1952.91 1418.71a3.9 3.9 0 1 0 7.8 0a3.9 3.9 0 1 0 -7.8 0M1996.86 1371.18a3.9 3.9 0 1 0 7.8 0a3.9 3.9 0 1 0 -7.8 0M1941.25 1435.42a3.9 3.9 0 1 0 7.8 0a3.9 3.9 0 1 0 -7.8 0M1989.56 1365.57a3.9 3.9 0 1 0 7.8 0a3.9 3.9 0 1 0 -7.8 0M1929.68 1462.01a3.9 3.9 0 1 0 7.8 0a3.9 3.9 0 1 0 -7.8 0M2005.75 1331.91a3.9 3.9 0 1 0 7.8 0a3.9 3.9 0 1 0 -7.8 0M2009 1328.58a3.9 3.9 0 1 0 7.8 0a3.9 3.9 0 1 0 -7.8 0M1949.71 1421.38a3.9 3.9 0 1 0 7.8 0a3.9 3.9 0 1 0 -7.8 0M2016.08 1336.58a3.9 3.9 0 1 0 7.8 0a3.9 3.9 0 1 0 -7.8 0M1971.81 1410.5a3.9 3.9 0 1 0 7.8 0a3.9 3.9 0 1 0 -7.8 0M1979.04 1363.29a3.9 3.9 0 1 0 7.8 0a3.9 3.9 0 1 0 -7.8 0M2005.19 1349.71a3.9 3.9 0 1 0 7.8 0a3.9 3.9 0 1 0 -7.8 0M1954.61 1432.69a3.9 3.9 0 1 0 7.8 0a3.9 3.9 0 1 0 -7.8 0M1988.27 1378.25a3.9 3.9 0 1 0 7.8 0a3.9 3.9 0 1 0 -7.8 0M1987.31 1373.67a3.9 3.9 0 1 0 7.8 0a3.9 3.9 0 1 0 -7.8 0M1941.16 1436.36a3.9 3.9 0 1 0 7.8 0a3.9 3.9 0 1 0 -7.8 0M1989.94 1375.79a3.9 3.9 0 1 0 7.8 0a3.9 3.9 0 1 0 -7.8 0M1928.47 1447.69a3.9 3.9 0 1 0 7.8 0a3.9 3.9 0 1 0 -7.8 0M1976.34 1400.05a3.9 3.9 0 1 0 7.8 0a3.9 3.9 0 1 0 -7.8 0M1965.6 1398.49a3.9 3.9 0 1 0 7.8 0a3.9 3.9 0 1 0 -7.8 0M1910.59 1480.24a3.9 3.9 0 1 0 7.8 0a3.9 3.9 0 1 0 -7.8 0M1899.44 1487.83a3.9 3.9 0 1 0 7.8 0a3.9 3.9 0 1 0 -7.8 0M1930.38 1448.27a3.9 3.9 0 1 0 7.8 0a3.9 3.9 0 1 0 -7.8 0M1917.64 1457.74a3.9 3.9 0 1 0 7.8 0a3.9 3.9 0 1 0 -7.8 0M2011.22 1324.2a3.9 3.9 0 1 0 7.8 0a3.9 3.9 0 1 0 -7.8 0M1971.59 1412.07a3.9 3.9 0 1 0 7.8 0a3.9 3.9 0 1 0 -7.8 0M1963.34 1388.15a3.9 3.9 0 1 0 7.8 0a3.9 3.9 0 1 0 -7.8 0M1932.67 1450.06a3.9 3.9 0 1 0 7.8 0a3.9 3.9 0 1 0 -7.8 0M1996.06 1370.14a3.9 3.9 0 1 0 7.8 0a3.9 3.9 0 1 0 -7.8 0M1995.77 1365.56a3.9 3.9 0 1 0 7.8 0a3.9 3.9 0 1 0 -7.8 0M1970.65 1374.04a3.9 3.9 0 1 0 7.8 0a3.9 3.9 0 1 0 -7.8 0M1963.53 1410.48a3.9 3.9 0 1 0 7.8 0a3.9 3.9 0 1 0 -7.8 0M2018.73 1308.42a3.9 3.9 0 1 0 7.8 0a3.9 3.9 0 1 0 -7.8 0M1961.53 1417.29a3.9 3.9 0 1 0 7.8 0a3.9 3.9 0 1 0 -7.8 0M1903.66 1479.88a3.9 3.9 0 1 0 7.8 0a3.9 3.9 0 1 0 -7.8 0M1987.74 1381.5a3.9 3.9 0 1 0 7.8 0a3.9 3.9 0 1 0 -7.8 0M1911.33 1474.07a3.9 3.9 0 1 0 7.8 0a3.9 3.9 0 1 0 -7.8 0M1929.81 1456.55a3.9 3.9 0 1 0 7.8 0a3.9 3.9 0 1 0 -7.8 0M1922.67 1462.8a3.9 3.9 0 1 0 7.8 0a3.9 3.9 0 1 0 -7.8 0M1965.87 1405.62a3.9 3.9 0 1 0 7.8 0a3.9 3.9 0 1 0 -7.8 0M2004.23 1349.62a3.9 3.9 0 1 0 7.8 0a3.9 3.9 0 1 0 -7.8 0M1984.23 1392.36a3.9 3.9 0 1 0 7.8 0a3.9 3.9 0 1 0 -7.8 0M2009.62 1336.02a3.9 3.9 0 1 0 7.8 0a3.9 3.9 0 1 0 -7.8 0M1975.87 1374.74a3.9 3.9 0 1 0 7.8 0a3.9 3.9 0 1 0 -7.8 0M1963.1 1401.05a3.9 3.9 0 1 0 7.8 0a3.9 3.9 0 1 0 -7.8 0M1998.21 1365.7a3.9 3.9 0 1 0 7.8 0a3.9 3.9 0 1 0 -7.8 0M2002.81 1353.51a3.9 3.9 0 1 0 7.8 0a3.9 3.9 0 1 0 -7.8 0M1977.58 1394.85a3.9 3.9 0 1 0 7.8 0a3.9 3.9 0 1 0 -7.8 0M1920.99 1464.84a3.9 3.9 0 1 0 7.8 0a3.9 3.9 0 1 0 -7.8 0M1968.13 1404.98a3.9 3.9 0 1 0 7.8 0a3.9 3.9 0 1 0 -7.8 0M1984.07 1359.56a3.9 3.9 0 1 0 7.8 0a3.9 3.9 0 1 0 -7.8 0M1998.19 1370.21a3.9 3.9 0 1 0 7.8 0a3.9 3.9 0 1 0 -7.8 0M1952.59 1414.96a3.9 3.9 0 1 0 7.8 0a3.9 3.9 0 1 0 -7.8 0M1986.42 1380.33a3.9 3.9 0 1 0 7.8 0a3.9 3.9 0 1 0 -7.8 0M2010.13 1353.57a3.9 3.9 0 1 0 7.8 0a3.9 3.9 0 1 0 -7.8 0M1966.91 1411.66a3.9 3.9 0 1 0 7.8 0a3.9 3.9 0 1 0 -7.8 0M1934.65 1427.9a3.9 3.9 0 1 0 7.8 0a3.9 3.9 0 1 0 -7.8 0M1956.53 1403.76a3.9 3.9 0 1 0 7.8 0a3.9 3.9 0 1 0 -7.8 0M1993.05 1350.42a3.9 3.9 0 1 0 7.8 0a3.9 3.9 0 1 0 -7.8 0M1990.2 1372.86a3.9 3.9 0 1 0 7.8 0a3.9 3.9 0 1 0 -7.8 0M1950.84 1423.84a3.9 3.9 0 1 0 7.8 0a3.9 3.9 0 1 0 -7.8 0M1979.07 1388.91a3.9 3.9 0 1 0 7.8 0a3.9 3.9 0 1 0 -7.8 0M1992.88 1364.99a3.9 3.9 0 1 0 7.8 0a3.9 3.9 0 1 0 -7.8 0M1933.62 1450.57a3.9 3.9 0 1 0 7.8 0a3.9 3.9 0 1 0 -7.8 0M1900.42 1486.21a3.9 3.9 0 1 0 7.8 0a3.9 3.9 0 1 0 -7.8 0M2009.45 1351.62a3.9 3.9 0 1 0 7.8 0a3.9 3.9 0 1 0 -7.8 0M1971.53 1387.87a3.9 3.9 0 1 0 7.8 0a3.9 3.9 0 1 0 -7.8 0M1906.8 1479.85a3.9 3.9 0 1 0 7.8 0a3.9 3.9 0 1 0 -7.8 0M1967.7 1416.51a3.9 3.9 0 1 0 7.8 0a3.9 3.9 0 1 0 -7.8 0M1989.7 1353.38a3.9 3.9 0 1 0 7.8 0a3.9 3.9 0 1 0 -7.8 0M1987.37 1379.25a3.9 3.9 0 1 0 7.8 0a3.9 3.9 0 1 0 -7.8 0M1984.75 1356.73a3.9 3.9 0 1 0 7.8 0a3.9 3.9 0 1 0 -7.8 0M1975.1 1414.56a3.9 3.9 0 1 0 7.8 0a3.9 3.9 0 1 0 -7.8 0M1944.65 1436.94a3.9 3.9 0 1 0 7.8 0a3.9 3.9 0 1 0 -7.8 0M2021.97 1306.54a3.9 3.9 0 1 0 7.8 0a3.9 3.9 0 1 0 -7.8 0M1932.38 1441.48a3.9 3.9 0 1 0 7.8 0a3.9 3.9 0 1 0 -7.8 0M1991.91 1384.11a3.9 3.9 0 1 0 7.8 0a3.9 3.9 0 1 0 -7.8 0M1961.54 1415.7a3.9 3.9 0 1 0 7.8 0a3.9 3.9 0 1 0 -7.8 0M1982.21 1395a3.9 3.9 0 1 0 7.8 0a3.9 3.9 0 1 0 -7.8 0M1955.29 1405.55a3.9 3.9 0 1 0 7.8 0a3.9 3.9 0 1 0 -7.8 0M1979 1414.3a3.9 3.9 0 1 0 7.8 0a3.9 3.9 0 1 0 -7.8 0M1985.39 1369.24a3.9 3.9 0 1 0 7.8 0a3.9 3.9 0 1 0 -7.8 0M1922 1458.49a3.9 3.9 0 1 0 7.8 0a3.9 3.9 0 1 0 -7.8 0M1993.34 1381.69a3.9 3.9 0 1 0 7.8 0a3.9 3.9 0 1 0 -7.8 0M1989 1362.82a3.9 3.9 0 1 0 7.8 0a3.9 3.9 0 1 0 -7.8 0M1936.68 1455.67a3.9 3.9 0 1 0 7.8 0a3.9 3.9 0 1 0 -7.8 0M1902.4 1485.59a3.9 3.9 0 1 0 7.8 0a3.9 3.9 0 1 0 -7.8 0M1948.62 1424.24a3.9 3.9 0 1 0 7.8 0a3.9 3.9 0 1 0 -7.8 0M2011.72 1333.38a3.9 3.9 0 1 0 7.8 0a3.9 3.9 0 1 0 -7.8 0M1956.15 1409.71a3.9 3.9 0 1 0 7.8 0a3.9 3.9 0 1 0 -7.8 0M1970.49 1387.91a3.9 3.9 0 1 0 7.8 0a3.9 3.9 0 1 0 -7.8 0M2007.36 1334.25a3.9 3.9 0 1 0 7.8 0a3.9 3.9 0 1 0 -7.8 0M2001.41 1345.99a3.9 3.9 0 1 0 7.8 0a3.9 3.9 0 1 0 -7.8 0M2015.59 1324.26a3.9 3.9 0 1 0 7.8 0a3.9 3.9 0 1 0 -7.8 0M1920.29 1459.39a3.9 3.9 0 1 0 7.8 0a3.9 3.9 0 1 0 -7.8 0M1992.63 1368.45a3.9 3.9 0 1 0 7.8 0a3.9 3.9 0 1 0 -7.8 0M1900.5 1490.82a3.9 3.9 0 1 0 7.8 0a3.9 3.9 0 1 0 -7.8 0M1940.1 1442.45a3.9 3.9 0 1 0 7.8 0a3.9 3.9 0 1 0 -7.8 0M1950.15 1421.89a3.9 3.9 0 1 0 7.8 0a3.9 3.9 0 1 0 -7.8 0M1932.96 1442.95a3.9 3.9 0 1 0 7.8 0a3.9 3.9 0 1 0 -7.8 0M1967.15 1411.6a3.9 3.9 0 1 0 7.8 0a3.9 3.9 0 1 0 -7.8 0M2006.75 1338.66a3.9 3.9 0 1 0 7.8 0a3.9 3.9 0 1 0 -7.8 0M1964.7 1398.87a3.9 3.9 0 1 0 7.8 0a3.9 3.9 0 1 0 -7.8 0M1954.36 1414.39a3.9 3.9 0 1 0 7.8 0a3.9 3.9 0 1 0 -7.8 0M1931.44 1432.95a3.9 3.9 0 1 0 7.8 0a3.9 3.9 0 1 0 -7.8 0M1950.85 1436.5a3.9 3.9 0 1 0 7.8 0a3.9 3.9 0 1 0 -7.8 0M1957.88 1422.65a3.9 3.9 0 1 0 7.8 0a3.9 3.9 0 1 0 -7.8 0M1941.56 1436.4a3.9 3.9 0 1 0 7.8 0a3.9 3.9 0 1 0 -7.8 0M1991.05 1363.25a3.9 3.9 0 1 0 7.8 0a3.9 3.9 0 1 0 -7.8 0M1990.86 1376.83a3.9 3.9 0 1 0 7.8 0a3.9 3.9 0 1 0 -7.8 0M1904.7 1484.8a3.9 3.9 0 1 0 7.8 0a3.9 3.9 0 1 0 -7.8 0M2000.82 1334.82a3.9 3.9 0 1 0 7.8 0a3.9 3.9 0 1 0 -7.8 0M1932.05 1451.73a3.9 3.9 0 1 0 7.8 0a3.9 3.9 0 1 0 -7.8 0M1969.93 1423.94a3.9 3.9 0 1 0 7.8 0a3.9 3.9 0 1 0 -7.8 0M1976.99 1401.5a3.9 3.9 0 1 0 7.8 0a3.9 3.9 0 1 0 -7.8 0M1947.01 1436.75a3.9 3.9 0 1 0 7.8 0a3.9 3.9 0 1 0 -7.8 0M1999.46 1349.09a3.9 3.9 0 1 0 7.8 0a3.9 3.9 0 1 0 -7.8 0M1943.63 1438.38a3.9 3.9 0 1 0 7.8 0a3.9 3.9 0 1 0 -7.8 0M2013.51 1335.35a3.9 3.9 0 1 0 7.8 0a3.9 3.9 0 1 0 -7.8 0M1951.99 1399.94a3.9 3.9 0 1 0 7.8 0a3.9 3.9 0 1 0 -7.8 0M1990.43 1366.5a3.9 3.9 0 1 0 7.8 0a3.9 3.9 0 1 0 -7.8 0M1911.79 1473.25a3.9 3.9 0 1 0 7.8 0a3.9 3.9 0 1 0 -7.8 0M1998.09 1357.37a3.9 3.9 0 1 0 7.8 0a3.9 3.9 0 1 0 -7.8 0M1981.1 1397.16a3.9 3.9 0 1 0 7.8 0a3.9 3.9 0 1 0 -7.8 0M2019.87 1313.25a3.9 3.9 0 1 0 7.8 0a3.9 3.9 0 1 0 -7.8 0M1971.12 1408.03a3.9 3.9 0 1 0 7.8 0a3.9 3.9 0 1 0 -7.8 0M2005.2 1335.46a3.9 3.9 0 1 0 7.8 0a3.9 3.9 0 1 0 -7.8 0M1932.37 1450.19a3.9 3.9 0 1 0 7.8 0a3.9 3.9 0 1 0 -7.8 0M1994.34 1351.79a3.9 3.9 0 1 0 7.8 0a3.9 3.9 0 1 0 -7.8 0M1943.24 1426.64a3.9 3.9 0 1 0 7.8 0a3.9 3.9 0 1 0 -7.8 0M1975.65 1403.65a3.9 3.9 0 1 0 7.8 0a3.9 3.9 0 1 0 -7.8 0M2003.26 1361.07a3.9 3.9 0 1 0 7.8 0a3.9 3.9 0 1 0 -7.8 0M1998.11 1344.93a3.9 3.9 0 1 0 7.8 0a3.9 3.9 0 1 0 -7.8 0M1922.27 1454.89a3.9 3.9 0 1 0 7.8 0a3.9 3.9 0 1 0 -7.8 0M1966.95 1391.5a3.9 3.9 0 1 0 7.8 0a3.9 3.9 0 1 0 -7.8 0M1988.24 1365.26a3.9 3.9 0 1 0 7.8 0a3.9 3.9 0 1 0 -7.8 0M1965.05 1422.09a3.9 3.9 0 1 0 7.8 0a3.9 3.9 0 1 0 -7.8 0M1939.56 1442.31a3.9 3.9 0 1 0 7.8 0a3.9 3.9 0 1 0 -7.8 0M1968.25 1391.69a3.9 3.9 0 1 0 7.8 0a3.9 3.9 0 1 0 -7.8 0M1942.43 1433.46a3.9 3.9 0 1 0 7.8 0a3.9 3.9 0 1 0 -7.8 0M1971.91 1412.49a3.9 3.9 0 1 0 7.8 0a3.9 3.9 0 1 0 -7.8 0M1975.87 1384.48a3.9 3.9 0 1 0 7.8 0a3.9 3.9 0 1 0 -7.8 0M2004.44 1355.71a3.9 3.9 0 1 0 7.8 0a3.9 3.9 0 1 0 -7.8 0M2016.74 1317.41a3.9 3.9 0 1 0 7.8 0a3.9 3.9 0 1 0 -7.8 0M1954.56 1422.97a3.9 3.9 0 1 0 7.8 0a3.9 3.9 0 1 0 -7.8 0M1954.41 1435.63a3.9 3.9 0 1 0 7.8 0a3.9 3.9 0 1 0 -7.8 0M1935.1 1445.72a3.9 3.9 0 1 0 7.8 0a3.9 3.9 0 1 0 -7.8 0M1998.18 1357.64a3.9 3.9 0 1 0 7.8 0a3.9 3.9 0 1 0 -7.8 0M1985.64 1405.81a3.9 3.9 0 1 0 7.8 0a3.9 3.9 0 1 0 -7.8 0M1937.35 1435.49a3.9 3.9 0 1 0 7.8 0a3.9 3.9 0 1 0 -7.8 0M1968.94 1392.05a3.9 3.9 0 1 0 7.8 0a3.9 3.9 0 1 0 -7.8 0M1915.98 1459.18a3.9 3.9 0 1 0 7.8 0a3.9 3.9 0 1 0 -7.8 0M1930.99 1459.18a3.9 3.9 0 1 0 7.8 0a3.9 3.9 0 1 0 -7.8 0M1957.89 1415.19a3.9 3.9 0 1 0 7.8 0a3.9 3.9 0 1 0 -7.8 0M1931.54 1449.58a3.9 3.9 0 1 0 7.8 0a3.9 3.9 0 1 0 -7.8 0M1945.99 1424.03a3.9 3.9 0 1 0 7.8 0a3.9 3.9 0 1 0 -7.8 0M1968.93 1376.4a3.9 3.9 0 1 0 7.8 0a3.9 3.9 0 1 0 -7.8 0M1966.54 1395.59a3.9 3.9 0 1 0 7.8 0a3.9 3.9 0 1 0 -7.8 0M2004.12 1348.87a3.9 3.9 0 1 0 7.8 0a3.9 3.9 0 1 0 -7.8 0M1937.26 1434.72a3.9 3.9 0 1 0 7.8 0a3.9 3.9 0 1 0 -7.8 0M1984.76 1394.62a3.9 3.9 0 1 0 7.8 0a3.9 3.9 0 1 0 -7.8 0M1979.2 1395.63a3.9 3.9 0 1 0 7.8 0a3.9 3.9 0 1 0 -7.8 0M1923.4 1459.49a3.9 3.9 0 1 0 7.8 0a3.9 3.9 0 1 0 -7.8 0M2007.19 1342.69a3.9 3.9 0 1 0 7.8 0a3.9 3.9 0 1 0 -7.8 0M2001.79 1351.51a3.9 3.9 0 1 0 7.8 0a3.9 3.9 0 1 0 -7.8 0M1951.26 1429.88a3.9 3.9 0 1 0 7.8 0a3.9 3.9 0 1 0 -7.8 0M1952.35 1413.19a3.9 3.9 0 1 0 7.8 0a3.9 3.9 0 1 0 -7.8 0M1960.18 1411.96a3.9 3.9 0 1 0 7.8 0a3.9 3.9 0 1 0 -7.8 0M1989.79 1371.34a3.9 3.9 0 1 0 7.8 0a3.9 3.9 0 1 0 -7.8 0M1975.08 1392.94a3.9 3.9 0 1 0 7.8 0a3.9 3.9 0 1 0 -7.8 0M1924.75 1455.04a3.9 3.9 0 1 0 7.8 0a3.9 3.9 0 1 0 -7.8 0M1983.88 1378.68a3.9 3.9 0 1 0 7.8 0a3.9 3.9 0 1 0 -7.8 0M1937.05 1455.88a3.9 3.9 0 1 0 7.8 0a3.9 3.9 0 1 0 -7.8 0M1948.23 1417.79a3.9 3.9 0 1 0 7.8 0a3.9 3.9 0 1 0 -7.8 0M1930.99 1459.64a3.9 3.9 0 1 0 7.8 0a3.9 3.9 0 1 0 -7.8 0M2000.4 1365.66a3.9 3.9 0 1 0 7.8 0a3.9 3.9 0 1 0 -7.8 0M1968.75 1390.24a3.9 3.9 0 1 0 7.8 0a3.9 3.9 0 1 0 -7.8 0M1988.77 1369.03a3.9 3.9 0 1 0 7.8 0a3.9 3.9 0 1 0 -7.8 0M1984.19 1382.7a3.9 3.9 0 1 0 7.8 0a3.9 3.9 0 1 0 -7.8 0M2000.25 1358.11a3.9 3.9 0 1 0 7.8 0a3.9 3.9 0 1 0 -7.8 0M1939.68 1436.89a3.9 3.9 0 1 0 7.8 0a3.9 3.9 0 1 0 -7.8 0M1933.13 1448.94a3.9 3.9 0 1 0 7.8 0a3.9 3.9 0 1 0 -7.8 0M1928.03 1443.5a3.9 3.9 0 1 0 7.8 0a3.9 3.9 0 1 0 -7.8 0M2017.09 1322.78a3.9 3.9 0 1 0 7.8 0a3.9 3.9 0 1 0 -7.8 0M1946.66 1433.05a3.9 3.9 0 1 0 7.8 0a3.9 3.9 0 1 0 -7.8 0M2004.07 1351.15a3.9 3.9 0 1 0 7.8 0a3.9 3.9 0 1 0 -7.8 0M1937.38 1454.06a3.9 3.9 0 1 0 7.8 0a3.9 3.9 0 1 0 -7.8 0M1948.92 1420.25a3.9 3.9 0 1 0 7.8 0a3.9 3.9 0 1 0 -7.8 0M1967.17 1423.26a3.9 3.9 0 1 0 7.8 0a3.9 3.9 0 1 0 -7.8 0M1954.69 1414.56a3.9 3.9 0 1 0 7.8 0a3.9 3.9 0 1 0 -7.8 0M1965.52 1397.2a3.9 3.9 0 1 0 7.8 0a3.9 3.9 0 1 0 -7.8 0M1969.74 1401.85a3.9 3.9 0 1 0 7.8 0a3.9 3.9 0 1 0 -7.8 0M1954.34 1430.28a3.9 3.9 0 1 0 7.8 0a3.9 3.9 0 1 0 -7.8 0M1982.46 1376.65a3.9 3.9 0 1 0 7.8 0a3.9 3.9 0 1 0 -7.8 0M1952.19 1399.65a3.9 3.9 0 1 0 7.8 0a3.9 3.9 0 1 0 -7.8 0M2020.62 1302.44a3.9 3.9 0 1 0 7.8 0a3.9 3.9 0 1 0 -7.8 0M1940.16 1427.41a3.9 3.9 0 1 0 7.8 0a3.9 3.9 0 1 0 -7.8 0M1981.66 1400.59a3.9 3.9 0 1 0 7.8 0a3.9 3.9 0 1 0 -7.8 0M1967.6 1413.5a3.9 3.9 0 1 0 7.8 0a3.9 3.9 0 1 0 -7.8 0M1905.16 1482.79a3.9 3.9 0 1 0 7.8 0a3.9 3.9 0 1 0 -7.8 0M1985.11 1378.84a3.9 3.9 0 1 0 7.8 0a3.9 3.9 0 1 0 -7.8 0M2011.73 1333.41a3.9 3.9 0 1 0 7.8 0a3.9 3.9 0 1 0 -7.8 0M2002.33 1348.67a3.9 3.9 0 1 0 7.8 0a3.9 3.9 0 1 0 -7.8 0M1975.78 1394.55a3.9 3.9 0 1 0 7.8 0a3.9 3.9 0 1 0 -7.8 0M1975.31 1385.23a3.9 3.9 0 1 0 7.8 0a3.9 3.9 0 1 0 -7.8 0M1976.22 1402.39a3.9 3.9 0 1 0 7.8 0a3.9 3.9 0 1 0 -7.8 0M2016.27 1311.4a3.9 3.9 0 1 0 7.8 0a3.9 3.9 0 1 0 -7.8 0M2000.5 1356.25a3.9 3.9 0 1 0 7.8 0a3.9 3.9 0 1 0 -7.8 0M1988.67 1381.6a3.9 3.9 0 1 0 7.8 0a3.9 3.9 0 1 0 -7.8 0M1979.13 1394.32a3.9 3.9 0 1 0 7.8 0a3.9 3.9 0 1 0 -7.8 0M1927.54 1452.16a3.9 3.9 0 1 0 7.8 0a3.9 3.9 0 1 0 -7.8 0M1954.68 1431.01a3.9 3.9 0 1 0 7.8 0a3.9 3.9 0 1 0 -7.8 0M1978.66 1385.3a3.9 3.9 0 1 0 7.8 0a3.9 3.9 0 1 0 -7.8 0M2010.12 1340.31a3.9 3.9 0 1 0 7.8 0a3.9 3.9 0 1 0 -7.8 0M1981.53 1398.35a3.9 3.9 0 1 0 7.8 0a3.9 3.9 0 1 0 -7.8 0M1982.54 1374.8a3.9 3.9 0 1 0 7.8 0a3.9 3.9 0 1 0 -7.8 0M1943.48 1432.51a3.9 3.9 0 1 0 7.8 0a3.9 3.9 0 1 0 -7.8 0M1939.93 1423.2a3.9 3.9 0 1 0 7.8 0a3.9 3.9 0 1 0 -7.8 0M1984.12 1373.82a3.9 3.9 0 1 0 7.8 0a3.9 3.9 0 1 0 -7.8 0M1954.42 1403.88a3.9 3.9 0 1 0 7.8 0a3.9 3.9 0 1 0 -7.8 0M2003.27 1340.64a3.9 3.9 0 1 0 7.8 0a3.9 3.9 0 1 0 -7.8 0M1938.13 1446.07a3.9 3.9 0 1 0 7.8 0a3.9 3.9 0 1 0 -7.8 0M1959.63 1434.85a3.9 3.9 0 1 0 7.8 0a3.9 3.9 0 1 0 -7.8 0M1939.14 1448.72a3.9 3.9 0 1 0 7.8 0a3.9 3.9 0 1 0 -7.8 0M2016.41 1310.43a3.9 3.9 0 1 0 7.8 0a3.9 3.9 0 1 0 -7.8 0M1957.21 1405.09a3.9 3.9 0 1 0 7.8 0a3.9 3.9 0 1 0 -7.8 0M1925.16 1458.88a3.9 3.9 0 1 0 7.8 0a3.9 3.9 0 1 0 -7.8 0M1940.76 1429.29a3.9 3.9 0 1 0 7.8 0a3.9 3.9 0 1 0 -7.8 0M1926.94 1458.06a3.9 3.9 0 1 0 7.8 0a3.9 3.9 0 1 0 -7.8 0M1916.78 1472.02a3.9 3.9 0 1 0 7.8 0a3.9 3.9 0 1 0 -7.8 0M1928.97 1449.23a3.9 3.9 0 1 0 7.8 0a3.9 3.9 0 1 0 -7.8 0M1925.53 1458.29a3.9 3.9 0 1 0 7.8 0a3.9 3.9 0 1 0 -7.8 0M1975.09 1373.04a3.9 3.9 0 1 0 7.8 0a3.9 3.9 0 1 0 -7.8 0M2016.5 1317.92a3.9 3.9 0 1 0 7.8 0a3.9 3.9 0 1 0 -7.8 0M2004.59 1346.8a3.9 3.9 0 1 0 7.8 0a3.9 3.9 0 1 0 -7.8 0M1963.37 1395.49a3.9 3.9 0 1 0 7.8 0a3.9 3.9 0 1 0 -7.8 0M2016.76 1315.73a3.9 3.9 0 1 0 7.8 0a3.9 3.9 0 1 0 -7.8 0M1999.47 1354.23a3.9 3.9 0 1 0 7.8 0a3.9 3.9 0 1 0 -7.8 0M2018.95 1307.09a3.9 3.9 0 1 0 7.8 0a3.9 3.9 0 1 0 -7.8 0M2011.71 1322.83a3.9 3.9 0 1 0 7.8 0a3.9 3.9 0 1 0 -7.8 0M1985.77 1381.75a3.9 3.9 0 1 0 7.8 0a3.9 3.9 0 1 0 -7.8 0M1953.99 1434.82a3.9 3.9 0 1 0 7.8 0a3.9 3.9 0 1 0 -7.8 0M2001.8 1340.72a3.9 3.9 0 1 0 7.8 0a3.9 3.9 0 1 0 -7.8 0M1949.1 1439.73a3.9 3.9 0 1 0 7.8 0a3.9 3.9 0 1 0 -7.8 0M1918.7 1467.86a3.9 3.9 0 1 0 7.8 0a3.9 3.9 0 1 0 -7.8 0M1987.38 1369.56a3.9 3.9 0 1 0 7.8 0a3.9 3.9 0 1 0 -7.8 0M1944.38 1429.33a3.9 3.9 0 1 0 7.8 0a3.9 3.9 0 1 0 -7.8 0M1966.96 1403.99a3.9 3.9 0 1 0 7.8 0a3.9 3.9 0 1 0 -7.8 0M1973.44 1403.82a3.9 3.9 0 1 0 7.8 0a3.9 3.9 0 1 0 -7.8 0M1968.03 1382.25a3.9 3.9 0 1 0 7.8 0a3.9 3.9 0 1 0 -7.8 0M1952.05 1427.8a3.9 3.9 0 1 0 7.8 0a3.9 3.9 0 1 0 -7.8 0M1988.12 1383.08a3.9 3.9 0 1 0 7.8 0a3.9 3.9 0 1 0 -7.8 0M1930.28 1449.1a3.9 3.9 0 1 0 7.8 0a3.9 3.9 0 1 0 -7.8 0M1930.85 1437.18a3.9 3.9 0 1 0 7.8 0a3.9 3.9 0 1 0 -7.8 0M1959.89 1417.34a3.9 3.9 0 1 0 7.8 0a3.9 3.9 0 1 0 -7.8 0M1963.31 1415.29a3.9 3.9 0 1 0 7.8 0a3.9 3.9 0 1 0 -7.8 0M1991.98 1379.76a3.9 3.9 0 1 0 7.8 0a3.9 3.9 0 1 0 -7.8 0M1979.52 1398.87a3.9 3.9 0 1 0 7.8 0a3.9 3.9 0 1 0 -7.8 0M1952.1 1435.96a3.9 3.9 0 1 0 7.8 0a3.9 3.9 0 1 0 -7.8 0M1978.23 1397.85a3.9 3.9 0 1 0 7.8 0a3.9 3.9 0 1 0 -7.8 0M2002.36 1343.16a3.9 3.9 0 1 0 7.8 0a3.9 3.9 0 1 0 -7.8 0M1972.91 1385.81a3.9 3.9 0 1 0 7.8 0a3.9 3.9 0 1 0 -7.8 0M1967.9 1387.98a3.9 3.9 0 1 0 7.8 0a3.9 3.9 0 1 0 -7.8 0M2010.76 1339.75a3.9 3.9 0 1 0 7.8 0a3.9 3.9 0 1 0 -7.8 0M2007.6 1339.28a3.9 3.9 0 1 0 7.8 0a3.9 3.9 0 1 0 -7.8 0M1978.09 1403.57a3.9 3.9 0 1 0 7.8 0a3.9 3.9 0 1 0 -7.8 0M1929.05 1453.45a3.9 3.9 0 1 0 7.8 0a3.9 3.9 0 1 0 -7.8 0M1944.79 1432.39a3.9 3.9 0 1 0 7.8 0a3.9 3.9 0 1 0 -7.8 0M2014.03 1335.47a3.9 3.9 0 1 0 7.8 0a3.9 3.9 0 1 0 -7.8 0M1902.99 1484.06a3.9 3.9 0 1 0 7.8 0a3.9 3.9 0 1 0 -7.8 0M1974.87 1416.41a3.9 3.9 0 1 0 7.8 0a3.9 3.9 0 1 0 -7.8 0M1944.34 1442.97a3.9 3.9 0 1 0 7.8 0a3.9 3.9 0 1 0 -7.8 0M1938.94 1449.48a3.9 3.9 0 1 0 7.8 0a3.9 3.9 0 1 0 -7.8 0M1977.09 1383.17a3.9 3.9 0 1 0 7.8 0a3.9 3.9 0 1 0 -7.8 0M2007.47 1327.01a3.9 3.9 0 1 0 7.8 0a3.9 3.9 0 1 0 -7.8 0M2004.32 1346.5a3.9 3.9 0 1 0 7.8 0a3.9 3.9 0 1 0 -7.8 0M2006.92 1344.16a3.9 3.9 0 1 0 7.8 0a3.9 3.9 0 1 0 -7.8 0M2007.11 1347.96a3.9 3.9 0 1 0 7.8 0a3.9 3.9 0 1 0 -7.8 0M1935.46 1447.62a3.9 3.9 0 1 0 7.8 0a3.9 3.9 0 1 0 -7.8 0M1956.31 1422.45a3.9 3.9 0 1 0 7.8 0a3.9 3.9 0 1 0 -7.8 0M1982.35 1383.28a3.9 3.9 0 1 0 7.8 0a3.9 3.9 0 1 0 -7.8 0M1930.34 1459.33a3.9 3.9 0 1 0 7.8 0a3.9 3.9 0 1 0 -7.8 0M1958.27 1402.88a3.9 3.9 0 1 0 7.8 0a3.9 3.9 0 1 0 -7.8 0M1979.58 1365.31a3.9 3.9 0 1 0 7.8 0a3.9 3.9 0 1 0 -7.8 0M2008.06 1325.91a3.9 3.9 0 1 0 7.8 0a3.9 3.9 0 1 0 -7.8 0M1987.51 1377.23a3.9 3.9 0 1 0 7.8 0a3.9 3.9 0 1 0 -7.8 0M2005.63 1351.54a3.9 3.9 0 1 0 7.8 0a3.9 3.9 0 1 0 -7.8 0M1942.05 1429.43a3.9 3.9 0 1 0 7.8 0a3.9 3.9 0 1 0 -7.8 0M1966.49 1379.81a3.9 3.9 0 1 0 7.8 0a3.9 3.9 0 1 0 -7.8 0M1974.13 1397.48a3.9 3.9 0 1 0 7.8 0a3.9 3.9 0 1 0 -7.8 0M1990.38 1361.29a3.9 3.9 0 1 0 7.8 0a3.9 3.9 0 1 0 -7.8 0M1900.02 1486.95a3.9 3.9 0 1 0 7.8 0a3.9 3.9 0 1 0 -7.8 0M2013.62 1318.21a3.9 3.9 0 1 0 7.8 0a3.9 3.9 0 1 0 -7.8 0M1981.45 1412.3a3.9 3.9 0 1 0 7.8 0a3.9 3.9 0 1 0 -7.8 0M1991.95 1392.25a3.9 3.9 0 1 0 7.8 0a3.9 3.9 0 1 0 -7.8 0M1906.93 1483.25a3.9 3.9 0 1 0 7.8 0a3.9 3.9 0 1 0 -7.8 0M1938.49 1432.13a3.9 3.9 0 1 0 7.8 0a3.9 3.9 0 1 0 -7.8 0M1911.39 1472.3a3.9 3.9 0 1 0 7.8 0a3.9 3.9 0 1 0 -7.8 0M2006.1 1355.11a3.9 3.9 0 1 0 7.8 0a3.9 3.9 0 1 0 -7.8 0M1991.65 1366.35a3.9 3.9 0 1 0 7.8 0a3.9 3.9 0 1 0 -7.8 0M1995.34 1373.27a3.9 3.9 0 1 0 7.8 0a3.9 3.9 0 1 0 -7.8 0M2005.09 1343.74a3.9 3.9 0 1 0 7.8 0a3.9 3.9 0 1 0 -7.8 0M1945.49 1410.63a3.9 3.9 0 1 0 7.8 0a3.9 3.9 0 1 0 -7.8 0M1984.22 1384.27a3.9 3.9 0 1 0 7.8 0a3.9 3.9 0 1 0 -7.8 0M1933.5 1451.07a3.9 3.9 0 1 0 7.8 0a3.9 3.9 0 1 0 -7.8 0M1993.92 1371.55a3.9 3.9 0 1 0 7.8 0a3.9 3.9 0 1 0 -7.8 0M1929.67 1439.43a3.9 3.9 0 1 0 7.8 0a3.9 3.9 0 1 0 -7.8 0M1947.08 1423.32a3.9 3.9 0 1 0 7.8 0a3.9 3.9 0 1 0 -7.8 0M1981.12 1367.06a3.9 3.9 0 1 0 7.8 0a3.9 3.9 0 1 0 -7.8 0M2002.74 1337.68a3.9 3.9 0 1 0 7.8 0a3.9 3.9 0 1 0 -7.8 0M2008.21 1333.51a3.9 3.9 0 1 0 7.8 0a3.9 3.9 0 1 0 -7.8 0M2000.07 1350.9a3.9 3.9 0 1 0 7.8 0a3.9 3.9 0 1 0 -7.8 0M1997.59 1344.99a3.9 3.9 0 1 0 7.8 0a3.9 3.9 0 1 0 -7.8 0M1945.64 1431.25a3.9 3.9 0 1 0 7.8 0a3.9 3.9 0 1 0 -7.8 0M1988.78 1374.3a3.9 3.9 0 1 0 7.8 0a3.9 3.9 0 1 0 -7.8 0M1951.62 1428.77a3.9 3.9 0 1 0 7.8 0a3.9 3.9 0 1 0 -7.8 0M1932.54 1445.62a3.9 3.9 0 1 0 7.8 0a3.9 3.9 0 1 0 -7.8 0M2014.25 1341.78a3.9 3.9 0 1 0 7.8 0a3.9 3.9 0 1 0 -7.8 0M1932.56 1443.36a3.9 3.9 0 1 0 7.8 0a3.9 3.9 0 1 0 -7.8 0M1984.2 1356.41a3.9 3.9 0 1 0 7.8 0a3.9 3.9 0 1 0 -7.8 0M1982.11 1369.96a3.9 3.9 0 1 0 7.8 0a3.9 3.9 0 1 0 -7.8 0M1957.6 1423.52a3.9 3.9 0 1 0 7.8 0a3.9 3.9 0 1 0 -7.8 0M2015.97 1313.19a3.9 3.9 0 1 0 7.8 0a3.9 3.9 0 1 0 -7.8 0M1960.54 1410.61a3.9 3.9 0 1 0 7.8 0a3.9 3.9 0 1 0 -7.8 0M2007.41 1338.01a3.9 3.9 0 1 0 7.8 0a3.9 3.9 0 1 0 -7.8 0M1939.15 1442.36a3.9 3.9 0 1 0 7.8 0a3.9 3.9 0 1 0 -7.8 0M1955.38 1423.78a3.9 3.9 0 1 0 7.8 0a3.9 3.9 0 1 0 -7.8 0M1982.15 1394.99a3.9 3.9 0 1 0 7.8 0a3.9 3.9 0 1 0 -7.8 0M1943.09 1417.51a3.9 3.9 0 1 0 7.8 0a3.9 3.9 0 1 0 -7.8 0M2008.89 1322.6a3.9 3.9 0 1 0 7.8 0a3.9 3.9 0 1 0 -7.8 0M1906.33 1474.42a3.9 3.9 0 1 0 7.8 0a3.9 3.9 0 1 0 -7.8 0M1980.69 1392.25a3.9 3.9 0 1 0 7.8 0a3.9 3.9 0 1 0 -7.8 0M1958.64 1405.41a3.9 3.9 0 1 0 7.8 0a3.9 3.9 0 1 0 -7.8 0M1966.7 1402.06a3.9 3.9 0 1 0 7.8 0a3.9 3.9 0 1 0 -7.8 0M1966.91 1407.57a3.9 3.9 0 1 0 7.8 0a3.9 3.9 0 1 0 -7.8 0M1947.3 1437.78a3.9 3.9 0 1 0 7.8 0a3.9 3.9 0 1 0 -7.8 0M1953.88 1414.7a3.9 3.9 0 1 0 7.8 0a3.9 3.9 0 1 0 -7.8 0M1926.77 1447.58a3.9 3.9 0 1 0 7.8 0a3.9 3.9 0 1 0 -7.8 0M1970.12 1392.95a3.9 3.9 0 1 0 7.8 0a3.9 3.9 0 1 0 -7.8 0M2005.64 1337.04a3.9 3.9 0 1 0 7.8 0a3.9 3.9 0 1 0 -7.8 0M1904.95 1476.67a3.9 3.9 0 1 0 7.8 0a3.9 3.9 0 1 0 -7.8 0M1949.78 1428.47a3.9 3.9 0 1 0 7.8 0a3.9 3.9 0 1 0 -7.8 0M1940.1 1425.6a3.9 3.9 0 1 0 7.8 0a3.9 3.9 0 1 0 -7.8 0M2020.86 1309.31a3.9 3.9 0 1 0 7.8 0a3.9 3.9 0 1 0 -7.8 0M1923.37 1459.03a3.9 3.9 0 1 0 7.8 0a3.9 3.9 0 1 0 -7.8 0M1996.06 1376.17a3.9 3.9 0 1 0 7.8 0a3.9 3.9 0 1 0 -7.8 0M1978.2 1372.04a3.9 3.9 0 1 0 7.8 0a3.9 3.9 0 1 0 -7.8 0M1961.09 1398.22a3.9 3.9 0 1 0 7.8 0a3.9 3.9 0 1 0 -7.8 0M1977.67 1415.07a3.9 3.9 0 1 0 7.8 0a3.9 3.9 0 1 0 -7.8 0M2019.37 1316.24a3.9 3.9 0 1 0 7.8 0a3.9 3.9 0 1 0 -7.8 0M1968.71 1403.52a3.9 3.9 0 1 0 7.8 0a3.9 3.9 0 1 0 -7.8 0M1964.04 1392.32a3.9 3.9 0 1 0 7.8 0a3.9 3.9 0 1 0 -7.8 0M1926.6 1443.07a3.9 3.9 0 1 0 7.8 0a3.9 3.9 0 1 0 -7.8 0M2009.75 1351.36a3.9 3.9 0 1 0 7.8 0a3.9 3.9 0 1 0 -7.8 0M1988.33 1373.5a3.9 3.9 0 1 0 7.8 0a3.9 3.9 0 1 0 -7.8 0M1913.3 1477.62a3.9 3.9 0 1 0 7.8 0a3.9 3.9 0 1 0 -7.8 0M1925.71 1455.67a3.9 3.9 0 1 0 7.8 0a3.9 3.9 0 1 0 -7.8 0M1986.85 1378.27a3.9 3.9 0 1 0 7.8 0a3.9 3.9 0 1 0 -7.8 0M1997.12 1349.9a3.9 3.9 0 1 0 7.8 0a3.9 3.9 0 1 0 -7.8 0M1982.23 1408.12a3.9 3.9 0 1 0 7.8 0a3.9 3.9 0 1 0 -7.8 0M1922.62 1462.42a3.9 3.9 0 1 0 7.8 0a3.9 3.9 0 1 0 -7.8 0M1937.06 1441.25a3.9 3.9 0 1 0 7.8 0a3.9 3.9 0 1 0 -7.8 0M1955.12 1400.34a3.9 3.9 0 1 0 7.8 0a3.9 3.9 0 1 0 -7.8 0M1980.12 1375.47a3.9 3.9 0 1 0 7.8 0a3.9 3.9 0 1 0 -7.8 0M2008.93 1329a3.9 3.9 0 1 0 7.8 0a3.9 3.9 0 1 0 -7.8 0M1930.7 1439.55a3.9 3.9 0 1 0 7.8 0a3.9 3.9 0 1 0 -7.8 0M1969.52 1420.11a3.9 3.9 0 1 0 7.8 0a3.9 3.9 0 1 0 -7.8 0M1989.4 1356.76a3.9 3.9 0 1 0 7.8 0a3.9 3.9 0 1 0 -7.8 0M1981.95 1382.27a3.9 3.9 0 1 0 7.8 0a3.9 3.9 0 1 0 -7.8 0M1996.85 1339.02a3.9 3.9 0 1 0 7.8 0a3.9 3.9 0 1 0 -7.8 0M1955.28 1419.21a3.9 3.9 0 1 0 7.8 0a3.9 3.9 0 1 0 -7.8 0M1938.48 1445.45a3.9 3.9 0 1 0 7.8 0a3.9 3.9 0 1 0 -7.8 0M1990.05 1380.89a3.9 3.9 0 1 0 7.8 0a3.9 3.9 0 1 0 -7.8 0M1995.4 1358.92a3.9 3.9 0 1 0 7.8 0a3.9 3.9 0 1 0 -7.8 0M1938.14 1432.76a3.9 3.9 0 1 0 7.8 0a3.9 3.9 0 1 0 -7.8 0M1936.17 1451.15a3.9 3.9 0 1 0 7.8 0a3.9 3.9 0 1 0 -7.8 0M1919.16 1464.16a3.9 3.9 0 1 0 7.8 0a3.9 3.9 0 1 0 -7.8 0M1931.3 1453.32a3.9 3.9 0 1 0 7.8 0a3.9 3.9 0 1 0 -7.8 0M1934.5 1446.31a3.9 3.9 0 1 0 7.8 0a3.9 3.9 0 1 0 -7.8 0M1931.26 1456.4a3.9 3.9 0 1 0 7.8 0a3.9 3.9 0 1 0 -7.8 0M1931.83 1451.84a3.9 3.9 0 1 0 7.8 0a3.9 3.9 0 1 0 -7.8 0M1994.8 1353.17a3.9 3.9 0 1 0 7.8 0a3.9 3.9 0 1 0 -7.8 0M1964.61 1415.64a3.9 3.9 0 1 0 7.8 0a3.9 3.9 0 1 0 -7.8 0M1961.58 1403.89a3.9 3.9 0 1 0 7.8 0a3.9 3.9 0 1 0 -7.8 0M1961.79 1415.11a3.9 3.9 0 1 0 7.8 0a3.9 3.9 0 1 0 -7.8 0M1920.73 1460.72a3.9 3.9 0 1 0 7.8 0a3.9 3.9 0 1 0 -7.8 0M1984.09 1368.51a3.9 3.9 0 1 0 7.8 0a3.9 3.9 0 1 0 -7.8 0M1964.07 1404.07a3.9 3.9 0 1 0 7.8 0a3.9 3.9 0 1 0 -7.8 0M1967.32 1412.57a3.9 3.9 0 1 0 7.8 0a3.9 3.9 0 1 0 -7.8 0M2013 1336.05a3.9 3.9 0 1 0 7.8 0a3.9 3.9 0 1 0 -7.8 0M1949.21 1424.99a3.9 3.9 0 1 0 7.8 0a3.9 3.9 0 1 0 -7.8 0M1972.22 1394.07a3.9 3.9 0 1 0 7.8 0a3.9 3.9 0 1 0 -7.8 0M1903.43 1483.19a3.9 3.9 0 1 0 7.8 0a3.9 3.9 0 1 0 -7.8 0M1996.42 1365.72a3.9 3.9 0 1 0 7.8 0a3.9 3.9 0 1 0 -7.8 0M1933.08 1438.38a3.9 3.9 0 1 0 7.8 0a3.9 3.9 0 1 0 -7.8 0M1953.89 1418.16a3.9 3.9 0 1 0 7.8 0a3.9 3.9 0 1 0 -7.8 0M1967.23 1404.88a3.9 3.9 0 1 0 7.8 0a3.9 3.9 0 1 0 -7.8 0M1959.34 1403.96a3.9 3.9 0 1 0 7.8 0a3.9 3.9 0 1 0 -7.8 0M1968.8 1417.31a3.9 3.9 0 1 0 7.8 0a3.9 3.9 0 1 0 -7.8 0M1929.52 1444.88a3.9 3.9 0 1 0 7.8 0a3.9 3.9 0 1 0 -7.8 0M1963.55 1392.39a3.9 3.9 0 1 0 7.8 0a3.9 3.9 0 1 0 -7.8 0M1984.1 1383.68a3.9 3.9 0 1 0 7.8 0a3.9 3.9 0 1 0 -7.8 0M2013.48 1334.13a3.9 3.9 0 1 0 7.8 0a3.9 3.9 0 1 0 -7.8 0M2005.9 1332.25a3.9 3.9 0 1 0 7.8 0a3.9 3.9 0 1 0 -7.8 0M1937.12 1434.29a3.9 3.9 0 1 0 7.8 0a3.9 3.9 0 1 0 -7.8 0M2002.03 1364.12a3.9 3.9 0 1 0 7.8 0a3.9 3.9 0 1 0 -7.8 0M1998.49 1360.79a3.9 3.9 0 1 0 7.8 0a3.9 3.9 0 1 0 -7.8 0M1949.46 1428.14a3.9 3.9 0 1 0 7.8 0a3.9 3.9 0 1 0 -7.8 0M1913.23 1470.32a3.9 3.9 0 1 0 7.8 0a3.9 3.9 0 1 0 -7.8 0M1994.83 1351.8a3.9 3.9 0 1 0 7.8 0a3.9 3.9 0 1 0 -7.8 0M2008.66 1338.66a3.9 3.9 0 1 0 7.8 0a3.9 3.9 0 1 0 -7.8 0M1920.61 1470.33a3.9 3.9 0 1 0 7.8 0a3.9 3.9 0 1 0 -7.8 0M1979.31 1386.17a3.9 3.9 0 1 0 7.8 0a3.9 3.9 0 1 0 -7.8 0M2007.18 1346.19a3.9 3.9 0 1 0 7.8 0a3.9 3.9 0 1 0 -7.8 0M1985.26 1359a3.9 3.9 0 1 0 7.8 0a3.9 3.9 0 1 0 -7.8 0M1993.1 1376.05a3.9 3.9 0 1 0 7.8 0a3.9 3.9 0 1 0 -7.8 0M1931.73 1447.53a3.9 3.9 0 1 0 7.8 0a3.9 3.9 0 1 0 -7.8 0M1980.96 1368.41a3.9 3.9 0 1 0 7.8 0a3.9 3.9 0 1 0 -7.8 0M2006.48 1333.89a3.9 3.9 0 1 0 7.8 0a3.9 3.9 0 1 0 -7.8 0M2004.52 1346.09a3.9 3.9 0 1 0 7.8 0a3.9 3.9 0 1 0 -7.8 0M2008.1 1346.49a3.9 3.9 0 1 0 7.8 0a3.9 3.9 0 1 0 -7.8 0M1961.72 1410.48a3.9 3.9 0 1 0 7.8 0a3.9 3.9 0 1 0 -7.8 0M1909.85 1475a3.9 3.9 0 1 0 7.8 0a3.9 3.9 0 1 0 -7.8 0M2006.95 1328.57a3.9 3.9 0 1 0 7.8 0a3.9 3.9 0 1 0 -7.8 0M1926.1 1462.78a3.9 3.9 0 1 0 7.8 0a3.9 3.9 0 1 0 -7.8 0M1940.9 1432.7a3.9 3.9 0 1 0 7.8 0a3.9 3.9 0 1 0 -7.8 0M1933.73 1440.09a3.9 3.9 0 1 0 7.8 0a3.9 3.9 0 1 0 -7.8 0M2010.41 1327.8a3.9 3.9 0 1 0 7.8 0a3.9 3.9 0 1 0 -7.8 0M1956.18 1393.97a3.9 3.9 0 1 0 7.8 0a3.9 3.9 0 1 0 -7.8 0M2004.85 1338.42a3.9 3.9 0 1 0 7.8 0a3.9 3.9 0 1 0 -7.8 0M2020.44 1311.15a3.9 3.9 0 1 0 7.8 0a3.9 3.9 0 1 0 -7.8 0M1925.73 1458.49a3.9 3.9 0 1 0 7.8 0a3.9 3.9 0 1 0 -7.8 0M1935.51 1442.03a3.9 3.9 0 1 0 7.8 0a3.9 3.9 0 1 0 -7.8 0M2005.39 1341.66a3.9 3.9 0 1 0 7.8 0a3.9 3.9 0 1 0 -7.8 0M1984.09 1370.62a3.9 3.9 0 1 0 7.8 0a3.9 3.9 0 1 0 -7.8 0M1898.23 1486.57a3.9 3.9 0 1 0 7.8 0a3.9 3.9 0 1 0 -7.8 0M1994.82 1378.64a3.9 3.9 0 1 0 7.8 0a3.9 3.9 0 1 0 -7.8 0M1999.53 1351.26a3.9 3.9 0 1 0 7.8 0a3.9 3.9 0 1 0 -7.8 0M1947.85 1434.31a3.9 3.9 0 1 0 7.8 0a3.9 3.9 0 1 0 -7.8 0M2007.59 1351.79a3.9 3.9 0 1 0 7.8 0a3.9 3.9 0 1 0 -7.8 0M2011.8 1319.46a3.9 3.9 0 1 0 7.8 0a3.9 3.9 0 1 0 -7.8 0M1960.48 1425.5a3.9 3.9 0 1 0 7.8 0a3.9 3.9 0 1 0 -7.8 0M1929.62 1449.69a3.9 3.9 0 1 0 7.8 0a3.9 3.9 0 1 0 -7.8 0M1920.01 1465.98a3.9 3.9 0 1 0 7.8 0a3.9 3.9 0 1 0 -7.8 0M1917.4 1475.32a3.9 3.9 0 1 0 7.8 0a3.9 3.9 0 1 0 -7.8 0M2015.23 1325.28a3.9 3.9 0 1 0 7.8 0a3.9 3.9 0 1 0 -7.8 0M1981.95 1388.71a3.9 3.9 0 1 0 7.8 0a3.9 3.9 0 1 0 -7.8 0M2013.55 1318.56a3.9 3.9 0 1 0 7.8 0a3.9 3.9 0 1 0 -7.8 0M1973.25 1408.96a3.9 3.9 0 1 0 7.8 0a3.9 3.9 0 1 0 -7.8 0M1976.63 1396.14a3.9 3.9 0 1 0 7.8 0a3.9 3.9 0 1 0 -7.8 0M1992.33 1352.12a3.9 3.9 0 1 0 7.8 0a3.9 3.9 0 1 0 -7.8 0M1966.11 1406.38a3.9 3.9 0 1 0 7.8 0a3.9 3.9 0 1 0 -7.8 0M1950.91 1421.36a3.9 3.9 0 1 0 7.8 0a3.9 3.9 0 1 0 -7.8 0M1952.41 1434.6a3.9 3.9 0 1 0 7.8 0a3.9 3.9 0 1 0 -7.8 0M2012.32 1320.23a3.9 3.9 0 1 0 7.8 0a3.9 3.9 0 1 0 -7.8 0M1919.35 1468.81a3.9 3.9 0 1 0 7.8 0a3.9 3.9 0 1 0 -7.8 0M1996.38 1365.45a3.9 3.9 0 1 0 7.8 0a3.9 3.9 0 1 0 -7.8 0M1958.4 1418.43a3.9 3.9 0 1 0 7.8 0a3.9 3.9 0 1 0 -7.8 0M1952.93 1435.57a3.9 3.9 0 1 0 7.8 0a3.9 3.9 0 1 0 -7.8 0M1992.29 1363.27a3.9 3.9 0 1 0 7.8 0a3.9 3.9 0 1 0 -7.8 0M1956.27 1424.36a3.9 3.9 0 1 0 7.8 0a3.9 3.9 0 1 0 -7.8 0M1959.19 1430.88a3.9 3.9 0 1 0 7.8 0a3.9 3.9 0 1 0 -7.8 0M2013.41 1334.42a3.9 3.9 0 1 0 7.8 0a3.9 3.9 0 1 0 -7.8 0"/>
<path fill="#74bdf0" d="M1983.71 1441.72a4.2 4.2 0 1 0 8.4 0a4.2 4.2 0 1 0 -8.4 0M1992.23 1454.5a4.2 4.2 0 1 0 8.4 0a4.2 4.2 0 1 0 -8.4 0M1991.38 1458.76a4.2 4.2 0 1 0 8.4 0a4.2 4.2 0 1 0 -8.4 0M1924.06 1485.17a4.2 4.2 0 1 0 8.4 0a4.2 4.2 0 1 0 -8.4 0M1941.1 1488.58a4.2 4.2 0 1 0 8.4 0a4.2 4.2 0 1 0 -8.4 0M1976.82 1462.69a4.2 4.2 0 1 0 8.4 0a4.2 4.2 0 1 0 -8.4 0M1966.27 1456.24a4.2 4.2 0 1 0 8.4 0a4.2 4.2 0 1 0 -8.4 0M1980.43 1450.55a4.2 4.2 0 1 0 8.4 0a4.2 4.2 0 1 0 -8.4 0M1976.2 1449.91a4.2 4.2 0 1 0 8.4 0a4.2 4.2 0 1 0 -8.4 0M1942.78 1464.03a4.2 4.2 0 1 0 8.4 0a4.2 4.2 0 1 0 -8.4 0M1934.69 1482.76a4.2 4.2 0 1 0 8.4 0a4.2 4.2 0 1 0 -8.4 0M1961.48 1472.57a4.2 4.2 0 1 0 8.4 0a4.2 4.2 0 1 0 -8.4 0M1939.73 1454.88a4.2 4.2 0 1 0 8.4 0a4.2 4.2 0 1 0 -8.4 0M1962.19 1452.37a4.2 4.2 0 1 0 8.4 0a4.2 4.2 0 1 0 -8.4 0M1949.97 1482.03a4.2 4.2 0 1 0 8.4 0a4.2 4.2 0 1 0 -8.4 0M1941.83 1482.19a4.2 4.2 0 1 0 8.4 0a4.2 4.2 0 1 0 -8.4 0M1974 1454.3a4.2 4.2 0 1 0 8.4 0a4.2 4.2 0 1 0 -8.4 0M1945.97 1471.24a4.2 4.2 0 1 0 8.4 0a4.2 4.2 0 1 0 -8.4 0M1963.32 1460.5a4.2 4.2 0 1 0 8.4 0a4.2 4.2 0 1 0 -8.4 0M1983.34 1453.87a4.2 4.2 0 1 0 8.4 0a4.2 4.2 0 1 0 -8.4 0M1933.21 1480.09a4.2 4.2 0 1 0 8.4 0a4.2 4.2 0 1 0 -8.4 0M1933.74 1467.53a4.2 4.2 0 1 0 8.4 0a4.2 4.2 0 1 0 -8.4 0M1931.74 1483.05a4.2 4.2 0 1 0 8.4 0a4.2 4.2 0 1 0 -8.4 0M1953.43 1462.87a4.2 4.2 0 1 0 8.4 0a4.2 4.2 0 1 0 -8.4 0M1970.87 1448.28a4.2 4.2 0 1 0 8.4 0a4.2 4.2 0 1 0 -8.4 0M1965.36 1447.22a4.2 4.2 0 1 0 8.4 0a4.2 4.2 0 1 0 -8.4 0M1940.74 1479.97a4.2 4.2 0 1 0 8.4 0a4.2 4.2 0 1 0 -8.4 0M1954.64 1459.32a4.2 4.2 0 1 0 8.4 0a4.2 4.2 0 1 0 -8.4 0M1968.21 1455.16a4.2 4.2 0 1 0 8.4 0a4.2 4.2 0 1 0 -8.4 0M1952.68 1459.98a4.2 4.2 0 1 0 8.4 0a4.2 4.2 0 1 0 -8.4 0M1943.5 1470.61a4.2 4.2 0 1 0 8.4 0a4.2 4.2 0 1 0 -8.4 0M1956.82 1459.6a4.2 4.2 0 1 0 8.4 0a4.2 4.2 0 1 0 -8.4 0M1954.25 1465.2a4.2 4.2 0 1 0 8.4 0a4.2 4.2 0 1 0 -8.4 0M1978.58 1452.01a4.2 4.2 0 1 0 8.4 0a4.2 4.2 0 1 0 -8.4 0M1975.95 1453.26a4.2 4.2 0 1 0 8.4 0a4.2 4.2 0 1 0 -8.4 0M1962.55 1446.63a4.2 4.2 0 1 0 8.4 0a4.2 4.2 0 1 0 -8.4 0M1963.16 1472.85a4.2 4.2 0 1 0 8.4 0a4.2 4.2 0 1 0 -8.4 0M1967.49 1444.39a4.2 4.2 0 1 0 8.4 0a4.2 4.2 0 1 0 -8.4 0M1977.82 1446.72a4.2 4.2 0 1 0 8.4 0a4.2 4.2 0 1 0 -8.4 0M1965.95 1458.27a4.2 4.2 0 1 0 8.4 0a4.2 4.2 0 1 0 -8.4 0M1956.17 1460.81a4.2 4.2 0 1 0 8.4 0a4.2 4.2 0 1 0 -8.4 0M1958.83 1472.44a4.2 4.2 0 1 0 8.4 0a4.2 4.2 0 1 0 -8.4 0M1966.96 1461.28a4.2 4.2 0 1 0 8.4 0a4.2 4.2 0 1 0 -8.4 0M1929.57 1469.24a4.2 4.2 0 1 0 8.4 0a4.2 4.2 0 1 0 -8.4 0M1936.18 1473.85a4.2 4.2 0 1 0 8.4 0a4.2 4.2 0 1 0 -8.4 0M1948.91 1469.27a4.2 4.2 0 1 0 8.4 0a4.2 4.2 0 1 0 -8.4 0M1950.04 1459.12a4.2 4.2 0 1 0 8.4 0a4.2 4.2 0 1 0 -8.4 0M1951.02 1473.84a4.2 4.2 0 1 0 8.4 0a4.2 4.2 0 1 0 -8.4 0M1978.83 1449.26a4.2 4.2 0 1 0 8.4 0a4.2 4.2 0 1 0 -8.4 0M1970.8 1449.93a4.2 4.2 0 1 0 8.4 0a4.2 4.2 0 1 0 -8.4 0M1935.46 1477.09a4.2 4.2 0 1 0 8.4 0a4.2 4.2 0 1 0 -8.4 0M1973.37 1453.36a4.2 4.2 0 1 0 8.4 0a4.2 4.2 0 1 0 -8.4 0M1956.4 1456.41a4.2 4.2 0 1 0 8.4 0a4.2 4.2 0 1 0 -8.4 0M1970.99 1461.79a4.2 4.2 0 1 0 8.4 0a4.2 4.2 0 1 0 -8.4 0M1967.98 1443.94a4.2 4.2 0 1 0 8.4 0a4.2 4.2 0 1 0 -8.4 0M1947.19 1465.91a4.2 4.2 0 1 0 8.4 0a4.2 4.2 0 1 0 -8.4 0M1968.48 1449.13a4.2 4.2 0 1 0 8.4 0a4.2 4.2 0 1 0 -8.4 0M1959.89 1462.83a4.2 4.2 0 1 0 8.4 0a4.2 4.2 0 1 0 -8.4 0M1969.03 1462.81a4.2 4.2 0 1 0 8.4 0a4.2 4.2 0 1 0 -8.4 0M1937.69 1477.08a4.2 4.2 0 1 0 8.4 0a4.2 4.2 0 1 0 -8.4 0M1937.63 1468a4.2 4.2 0 1 0 8.4 0a4.2 4.2 0 1 0 -8.4 0M1950.22 1473.68a4.2 4.2 0 1 0 8.4 0a4.2 4.2 0 1 0 -8.4 0M1963.84 1459.03a4.2 4.2 0 1 0 8.4 0a4.2 4.2 0 1 0 -8.4 0M1967.87 1466.55a4.2 4.2 0 1 0 8.4 0a4.2 4.2 0 1 0 -8.4 0M1957.32 1461.82a4.2 4.2 0 1 0 8.4 0a4.2 4.2 0 1 0 -8.4 0M1933.75 1480.21a4.2 4.2 0 1 0 8.4 0a4.2 4.2 0 1 0 -8.4 0M1939.39 1470.25a4.2 4.2 0 1 0 8.4 0a4.2 4.2 0 1 0 -8.4 0M1975.59 1461.75a4.2 4.2 0 1 0 8.4 0a4.2 4.2 0 1 0 -8.4 0M1963.3 1461.99a4.2 4.2 0 1 0 8.4 0a4.2 4.2 0 1 0 -8.4 0M1966.12 1458.23a4.2 4.2 0 1 0 8.4 0a4.2 4.2 0 1 0 -8.4 0M1973.72 1446.19a4.2 4.2 0 1 0 8.4 0a4.2 4.2 0 1 0 -8.4 0M1984.47 1449.07a4.2 4.2 0 1 0 8.4 0a4.2 4.2 0 1 0 -8.4 0M1954.4 1480.39a4.2 4.2 0 1 0 8.4 0a4.2 4.2 0 1 0 -8.4 0M1970.52 1462.69a4.2 4.2 0 1 0 8.4 0a4.2 4.2 0 1 0 -8.4 0M1943.34 1477.8a4.2 4.2 0 1 0 8.4 0a4.2 4.2 0 1 0 -8.4 0M1944.32 1464.7a4.2 4.2 0 1 0 8.4 0a4.2 4.2 0 1 0 -8.4 0M1961.13 1439.86a4.2 4.2 0 1 0 8.4 0a4.2 4.2 0 1 0 -8.4 0M1980.55 1459.44a4.2 4.2 0 1 0 8.4 0a4.2 4.2 0 1 0 -8.4 0M1966.88 1454.93a4.2 4.2 0 1 0 8.4 0a4.2 4.2 0 1 0 -8.4 0M1939.88 1477a4.2 4.2 0 1 0 8.4 0a4.2 4.2 0 1 0 -8.4 0M1937.91 1460.43a4.2 4.2 0 1 0 8.4 0a4.2 4.2 0 1 0 -8.4 0M1973.36 1449.98a4.2 4.2 0 1 0 8.4 0a4.2 4.2 0 1 0 -8.4 0M1933.43 1481.66a4.2 4.2 0 1 0 8.4 0a4.2 4.2 0 1 0 -8.4 0M1957.36 1477.63a4.2 4.2 0 1 0 8.4 0a4.2 4.2 0 1 0 -8.4 0M1947.66 1460.11a4.2 4.2 0 1 0 8.4 0a4.2 4.2 0 1 0 -8.4 0M1924 1473.78a4.2 4.2 0 1 0 8.4 0a4.2 4.2 0 1 0 -8.4 0M1967.54 1456.7a4.2 4.2 0 1 0 8.4 0a4.2 4.2 0 1 0 -8.4 0M1928.36 1477.9a4.2 4.2 0 1 0 8.4 0a4.2 4.2 0 1 0 -8.4 0M1975.51 1455.88a4.2 4.2 0 1 0 8.4 0a4.2 4.2 0 1 0 -8.4 0M1975.39 1448.75a4.2 4.2 0 1 0 8.4 0a4.2 4.2 0 1 0 -8.4 0M1972.52 1449.74a4.2 4.2 0 1 0 8.4 0a4.2 4.2 0 1 0 -8.4 0M1937.93 1472.68a4.2 4.2 0 1 0 8.4 0a4.2 4.2 0 1 0 -8.4 0M1956.8 1453.46a4.2 4.2 0 1 0 8.4 0a4.2 4.2 0 1 0 -8.4 0M1971.43 1459.62a4.2 4.2 0 1 0 8.4 0a4.2 4.2 0 1 0 -8.4 0M1937.53 1480.02a4.2 4.2 0 1 0 8.4 0a4.2 4.2 0 1 0 -8.4 0M1934.55 1485.43a4.2 4.2 0 1 0 8.4 0a4.2 4.2 0 1 0 -8.4 0M1943.91 1467.72a4.2 4.2 0 1 0 8.4 0a4.2 4.2 0 1 0 -8.4 0M1954.44 1465.01a4.2 4.2 0 1 0 8.4 0a4.2 4.2 0 1 0 -8.4 0M1960.61 1450.88a4.2 4.2 0 1 0 8.4 0a4.2 4.2 0 1 0 -8.4 0M1939.16 1481.53a4.2 4.2 0 1 0 8.4 0a4.2 4.2 0 1 0 -8.4 0M1959.4 1448.83a4.2 4.2 0 1 0 8.4 0a4.2 4.2 0 1 0 -8.4 0M1942.98 1473.82a4.2 4.2 0 1 0 8.4 0a4.2 4.2 0 1 0 -8.4 0M1966.66 1461.52a4.2 4.2 0 1 0 8.4 0a4.2 4.2 0 1 0 -8.4 0M1951.31 1468.42a4.2 4.2 0 1 0 8.4 0a4.2 4.2 0 1 0 -8.4 0M1978.41 1447.83a4.2 4.2 0 1 0 8.4 0a4.2 4.2 0 1 0 -8.4 0M1967.01 1464.82a4.2 4.2 0 1 0 8.4 0a4.2 4.2 0 1 0 -8.4 0M1938 1467.84a4.2 4.2 0 1 0 8.4 0a4.2 4.2 0 1 0 -8.4 0M1951.39 1457.43a4.2 4.2 0 1 0 8.4 0a4.2 4.2 0 1 0 -8.4 0M1940.66 1471.18a4.2 4.2 0 1 0 8.4 0a4.2 4.2 0 1 0 -8.4 0M1936.93 1481.71a4.2 4.2 0 1 0 8.4 0a4.2 4.2 0 1 0 -8.4 0M1941.4 1472.86a4.2 4.2 0 1 0 8.4 0a4.2 4.2 0 1 0 -8.4 0M1981.4 1456.28a4.2 4.2 0 1 0 8.4 0a4.2 4.2 0 1 0 -8.4 0M1968.2 1449.4a4.2 4.2 0 1 0 8.4 0a4.2 4.2 0 1 0 -8.4 0M1957.64 1454.74a4.2 4.2 0 1 0 8.4 0a4.2 4.2 0 1 0 -8.4 0M1966.37 1457.12a4.2 4.2 0 1 0 8.4 0a4.2 4.2 0 1 0 -8.4 0M1941.38 1463.9a4.2 4.2 0 1 0 8.4 0a4.2 4.2 0 1 0 -8.4 0M1971.28 1447.92a4.2 4.2 0 1 0 8.4 0a4.2 4.2 0 1 0 -8.4 0M1949.98 1461.83a4.2 4.2 0 1 0 8.4 0a4.2 4.2 0 1 0 -8.4 0M1968.63 1451.67a4.2 4.2 0 1 0 8.4 0a4.2 4.2 0 1 0 -8.4 0M1942.14 1468.87a4.2 4.2 0 1 0 8.4 0a4.2 4.2 0 1 0 -8.4 0M1946.12 1491.24a4.2 4.2 0 1 0 8.4 0a4.2 4.2 0 1 0 -8.4 0M1964.47 1447.13a4.2 4.2 0 1 0 8.4 0a4.2 4.2 0 1 0 -8.4 0M1981.86 1454.6a4.2 4.2 0 1 0 8.4 0a4.2 4.2 0 1 0 -8.4 0M1940.14 1474.04a4.2 4.2 0 1 0 8.4 0a4.2 4.2 0 1 0 -8.4 0M1953.24 1463.2a4.2 4.2 0 1 0 8.4 0a4.2 4.2 0 1 0 -8.4 0M1958.39 1445.53a4.2 4.2 0 1 0 8.4 0a4.2 4.2 0 1 0 -8.4 0M1964.1 1467.75a4.2 4.2 0 1 0 8.4 0a4.2 4.2 0 1 0 -8.4 0M1940.63 1463.42a4.2 4.2 0 1 0 8.4 0a4.2 4.2 0 1 0 -8.4 0M1939.1 1473.29a4.2 4.2 0 1 0 8.4 0a4.2 4.2 0 1 0 -8.4 0M1973.15 1438.4a4.2 4.2 0 1 0 8.4 0a4.2 4.2 0 1 0 -8.4 0M1985.61 1445.19a4.2 4.2 0 1 0 8.4 0a4.2 4.2 0 1 0 -8.4 0M1945.52 1476.61a4.2 4.2 0 1 0 8.4 0a4.2 4.2 0 1 0 -8.4 0M1949.38 1476.81a4.2 4.2 0 1 0 8.4 0a4.2 4.2 0 1 0 -8.4 0M1955.59 1466.45a4.2 4.2 0 1 0 8.4 0a4.2 4.2 0 1 0 -8.4 0M1967.26 1462.92a4.2 4.2 0 1 0 8.4 0a4.2 4.2 0 1 0 -8.4 0M1951.14 1459.91a4.2 4.2 0 1 0 8.4 0a4.2 4.2 0 1 0 -8.4 0M1932.92 1480.57a4.2 4.2 0 1 0 8.4 0a4.2 4.2 0 1 0 -8.4 0M1971.16 1448.19a4.2 4.2 0 1 0 8.4 0a4.2 4.2 0 1 0 -8.4 0M1937.22 1481.52a4.2 4.2 0 1 0 8.4 0a4.2 4.2 0 1 0 -8.4 0M1975.91 1449.27a4.2 4.2 0 1 0 8.4 0a4.2 4.2 0 1 0 -8.4 0M1955.97 1464.12a4.2 4.2 0 1 0 8.4 0a4.2 4.2 0 1 0 -8.4 0M1933.47 1458.18a4.2 4.2 0 1 0 8.4 0a4.2 4.2 0 1 0 -8.4 0M1941.91 1467.93a4.2 4.2 0 1 0 8.4 0a4.2 4.2 0 1 0 -8.4 0M1958.82 1463.53a4.2 4.2 0 1 0 8.4 0a4.2 4.2 0 1 0 -8.4 0M1954.33 1464.43a4.2 4.2 0 1 0 8.4 0a4.2 4.2 0 1 0 -8.4 0M1945.61 1487.68a4.2 4.2 0 1 0 8.4 0a4.2 4.2 0 1 0 -8.4 0M1977.95 1445.69a4.2 4.2 0 1 0 8.4 0a4.2 4.2 0 1 0 -8.4 0M1945.45 1469.65a4.2 4.2 0 1 0 8.4 0a4.2 4.2 0 1 0 -8.4 0M1960.27 1467.78a4.2 4.2 0 1 0 8.4 0a4.2 4.2 0 1 0 -8.4 0M1947.81 1472.4a4.2 4.2 0 1 0 8.4 0a4.2 4.2 0 1 0 -8.4 0M1960.77 1465.46a4.2 4.2 0 1 0 8.4 0a4.2 4.2 0 1 0 -8.4 0M1945.58 1466.97a4.2 4.2 0 1 0 8.4 0a4.2 4.2 0 1 0 -8.4 0M1973.06 1461.39a4.2 4.2 0 1 0 8.4 0a4.2 4.2 0 1 0 -8.4 0M1934.92 1477.98a4.2 4.2 0 1 0 8.4 0a4.2 4.2 0 1 0 -8.4 0M1967.23 1451.95a4.2 4.2 0 1 0 8.4 0a4.2 4.2 0 1 0 -8.4 0M1945.82 1466.83a4.2 4.2 0 1 0 8.4 0a4.2 4.2 0 1 0 -8.4 0M1960.27 1449.18a4.2 4.2 0 1 0 8.4 0a4.2 4.2 0 1 0 -8.4 0M1940.51 1459.04a4.2 4.2 0 1 0 8.4 0a4.2 4.2 0 1 0 -8.4 0M1970.73 1454.78a4.2 4.2 0 1 0 8.4 0a4.2 4.2 0 1 0 -8.4 0M1943.94 1469.58a4.2 4.2 0 1 0 8.4 0a4.2 4.2 0 1 0 -8.4 0M1950.73 1468.65a4.2 4.2 0 1 0 8.4 0a4.2 4.2 0 1 0 -8.4 0M1971.13 1452.82a4.2 4.2 0 1 0 8.4 0a4.2 4.2 0 1 0 -8.4 0M1966.85 1470.29a4.2 4.2 0 1 0 8.4 0a4.2 4.2 0 1 0 -8.4 0M1936.15 1468.99a4.2 4.2 0 1 0 8.4 0a4.2 4.2 0 1 0 -8.4 0M1973.62 1450.8a4.2 4.2 0 1 0 8.4 0a4.2 4.2 0 1 0 -8.4 0M1967.2 1444.62a4.2 4.2 0 1 0 8.4 0a4.2 4.2 0 1 0 -8.4 0M1954.72 1467.27a4.2 4.2 0 1 0 8.4 0a4.2 4.2 0 1 0 -8.4 0M1963.19 1457.55a4.2 4.2 0 1 0 8.4 0a4.2 4.2 0 1 0 -8.4 0M1957.6 1445.92a4.2 4.2 0 1 0 8.4 0a4.2 4.2 0 1 0 -8.4 0M1965.47 1455.87a4.2 4.2 0 1 0 8.4 0a4.2 4.2 0 1 0 -8.4 0M1971.22 1461.54a4.2 4.2 0 1 0 8.4 0a4.2 4.2 0 1 0 -8.4 0M1960.04 1456.83a4.2 4.2 0 1 0 8.4 0a4.2 4.2 0 1 0 -8.4 0M1931.16 1475.35a4.2 4.2 0 1 0 8.4 0a4.2 4.2 0 1 0 -8.4 0M1956.47 1456.08a4.2 4.2 0 1 0 8.4 0a4.2 4.2 0 1 0 -8.4 0M1949.75 1462.19a4.2 4.2 0 1 0 8.4 0a4.2 4.2 0 1 0 -8.4 0M1936.17 1478.24a4.2 4.2 0 1 0 8.4 0a4.2 4.2 0 1 0 -8.4 0M1940.62 1475.41a4.2 4.2 0 1 0 8.4 0a4.2 4.2 0 1 0 -8.4 0M1959.36 1456.01a4.2 4.2 0 1 0 8.4 0a4.2 4.2 0 1 0 -8.4 0M1978.47 1460.56a4.2 4.2 0 1 0 8.4 0a4.2 4.2 0 1 0 -8.4 0M1948.7 1457.78a4.2 4.2 0 1 0 8.4 0a4.2 4.2 0 1 0 -8.4 0M1971.37 1452.89a4.2 4.2 0 1 0 8.4 0a4.2 4.2 0 1 0 -8.4 0M1942.01 1454.61a4.2 4.2 0 1 0 8.4 0a4.2 4.2 0 1 0 -8.4 0M1976.3 1447.08a4.2 4.2 0 1 0 8.4 0a4.2 4.2 0 1 0 -8.4 0M1967.57 1461.49a4.2 4.2 0 1 0 8.4 0a4.2 4.2 0 1 0 -8.4 0M1946.29 1459.52a4.2 4.2 0 1 0 8.4 0a4.2 4.2 0 1 0 -8.4 0M1956.55 1467.7a4.2 4.2 0 1 0 8.4 0a4.2 4.2 0 1 0 -8.4 0M1950.11 1451.64a4.2 4.2 0 1 0 8.4 0a4.2 4.2 0 1 0 -8.4 0M1939.04 1471.96a4.2 4.2 0 1 0 8.4 0a4.2 4.2 0 1 0 -8.4 0M1931.52 1469.09a4.2 4.2 0 1 0 8.4 0a4.2 4.2 0 1 0 -8.4 0M1931.7 1480.31a4.2 4.2 0 1 0 8.4 0a4.2 4.2 0 1 0 -8.4 0M1962.5 1456.28a4.2 4.2 0 1 0 8.4 0a4.2 4.2 0 1 0 -8.4 0M1948.29 1456.66a4.2 4.2 0 1 0 8.4 0a4.2 4.2 0 1 0 -8.4 0M1935.13 1475.35a4.2 4.2 0 1 0 8.4 0a4.2 4.2 0 1 0 -8.4 0M1946.05 1459.7a4.2 4.2 0 1 0 8.4 0a4.2 4.2 0 1 0 -8.4 0M1974.03 1450.83a4.2 4.2 0 1 0 8.4 0a4.2 4.2 0 1 0 -8.4 0M1964.38 1441.01a4.2 4.2 0 1 0 8.4 0a4.2 4.2 0 1 0 -8.4 0M1942.35 1480.97a4.2 4.2 0 1 0 8.4 0a4.2 4.2 0 1 0 -8.4 0M1943.74 1463.24a4.2 4.2 0 1 0 8.4 0a4.2 4.2 0 1 0 -8.4 0M1972.49 1452.29a4.2 4.2 0 1 0 8.4 0a4.2 4.2 0 1 0 -8.4 0M1943.07 1459.06a4.2 4.2 0 1 0 8.4 0a4.2 4.2 0 1 0 -8.4 0M1944.26 1470.83a4.2 4.2 0 1 0 8.4 0a4.2 4.2 0 1 0 -8.4 0M1971.95 1438.94a4.2 4.2 0 1 0 8.4 0a4.2 4.2 0 1 0 -8.4 0M1967.4 1449.17a4.2 4.2 0 1 0 8.4 0a4.2 4.2 0 1 0 -8.4 0M1950.42 1462.38a4.2 4.2 0 1 0 8.4 0a4.2 4.2 0 1 0 -8.4 0M1959.48 1466.86a4.2 4.2 0 1 0 8.4 0a4.2 4.2 0 1 0 -8.4 0M1974.45 1462.54a4.2 4.2 0 1 0 8.4 0a4.2 4.2 0 1 0 -8.4 0M1949.68 1482.26a4.2 4.2 0 1 0 8.4 0a4.2 4.2 0 1 0 -8.4 0M1976.45 1435.81a4.2 4.2 0 1 0 8.4 0a4.2 4.2 0 1 0 -8.4 0M1951.79 1474.51a4.2 4.2 0 1 0 8.4 0a4.2 4.2 0 1 0 -8.4 0M1967.11 1469.79a4.2 4.2 0 1 0 8.4 0a4.2 4.2 0 1 0 -8.4 0M1959.62 1461.75a4.2 4.2 0 1 0 8.4 0a4.2 4.2 0 1 0 -8.4 0M1977.66 1448.85a4.2 4.2 0 1 0 8.4 0a4.2 4.2 0 1 0 -8.4 0M1959.13 1456.52a4.2 4.2 0 1 0 8.4 0a4.2 4.2 0 1 0 -8.4 0M1950.67 1466.32a4.2 4.2 0 1 0 8.4 0a4.2 4.2 0 1 0 -8.4 0M1939.51 1483.77a4.2 4.2 0 1 0 8.4 0a4.2 4.2 0 1 0 -8.4 0M1944 1454.19a4.2 4.2 0 1 0 8.4 0a4.2 4.2 0 1 0 -8.4 0M1955.49 1461.15a4.2 4.2 0 1 0 8.4 0a4.2 4.2 0 1 0 -8.4 0M1975.54 1446.8a4.2 4.2 0 1 0 8.4 0a4.2 4.2 0 1 0 -8.4 0M1933.31 1473.28a4.2 4.2 0 1 0 8.4 0a4.2 4.2 0 1 0 -8.4 0M1963.66 1465.18a4.2 4.2 0 1 0 8.4 0a4.2 4.2 0 1 0 -8.4 0M1940.73 1485.95a4.2 4.2 0 1 0 8.4 0a4.2 4.2 0 1 0 -8.4 0M1934.34 1472.79a4.2 4.2 0 1 0 8.4 0a4.2 4.2 0 1 0 -8.4 0M1936.22 1479.57a4.2 4.2 0 1 0 8.4 0a4.2 4.2 0 1 0 -8.4 0M1939.72 1479.3a4.2 4.2 0 1 0 8.4 0a4.2 4.2 0 1 0 -8.4 0M1946.21 1475.23a4.2 4.2 0 1 0 8.4 0a4.2 4.2 0 1 0 -8.4 0M1941.72 1473.58a4.2 4.2 0 1 0 8.4 0a4.2 4.2 0 1 0 -8.4 0M1931.86 1481.34a4.2 4.2 0 1 0 8.4 0a4.2 4.2 0 1 0 -8.4 0M1943.31 1464.57a4.2 4.2 0 1 0 8.4 0a4.2 4.2 0 1 0 -8.4 0M1941.11 1470.58a4.2 4.2 0 1 0 8.4 0a4.2 4.2 0 1 0 -8.4 0M1958.08 1452.59a4.2 4.2 0 1 0 8.4 0a4.2 4.2 0 1 0 -8.4 0M1961.56 1473.49a4.2 4.2 0 1 0 8.4 0a4.2 4.2 0 1 0 -8.4 0M1968.48 1458.44a4.2 4.2 0 1 0 8.4 0a4.2 4.2 0 1 0 -8.4 0M1970.04 1449.62a4.2 4.2 0 1 0 8.4 0a4.2 4.2 0 1 0 -8.4 0M1940.16 1466.97a4.2 4.2 0 1 0 8.4 0a4.2 4.2 0 1 0 -8.4 0M1954.09 1470.62a4.2 4.2 0 1 0 8.4 0a4.2 4.2 0 1 0 -8.4 0M1967.78 1454.04a4.2 4.2 0 1 0 8.4 0a4.2 4.2 0 1 0 -8.4 0M1957.8 1464.36a4.2 4.2 0 1 0 8.4 0a4.2 4.2 0 1 0 -8.4 0M1968.59 1455.13a4.2 4.2 0 1 0 8.4 0a4.2 4.2 0 1 0 -8.4 0M1974.15 1443.57a4.2 4.2 0 1 0 8.4 0a4.2 4.2 0 1 0 -8.4 0M1983.57 1447.53a4.2 4.2 0 1 0 8.4 0a4.2 4.2 0 1 0 -8.4 0M1947.21 1470.06a4.2 4.2 0 1 0 8.4 0a4.2 4.2 0 1 0 -8.4 0M1958.07 1459.4a4.2 4.2 0 1 0 8.4 0a4.2 4.2 0 1 0 -8.4 0M1938.44 1465.82a4.2 4.2 0 1 0 8.4 0a4.2 4.2 0 1 0 -8.4 0M1946.83 1467.25a4.2 4.2 0 1 0 8.4 0a4.2 4.2 0 1 0 -8.4 0M1941.53 1472.61a4.2 4.2 0 1 0 8.4 0a4.2 4.2 0 1 0 -8.4 0M1951.97 1459.18a4.2 4.2 0 1 0 8.4 0a4.2 4.2 0 1 0 -8.4 0M1922.28 1471.15a4.2 4.2 0 1 0 8.4 0a4.2 4.2 0 1 0 -8.4 0M1969.21 1462.36a4.2 4.2 0 1 0 8.4 0a4.2 4.2 0 1 0 -8.4 0M1934.37 1483.99a4.2 4.2 0 1 0 8.4 0a4.2 4.2 0 1 0 -8.4 0M1945.37 1474.29a4.2 4.2 0 1 0 8.4 0a4.2 4.2 0 1 0 -8.4 0M1947.29 1473.55a4.2 4.2 0 1 0 8.4 0a4.2 4.2 0 1 0 -8.4 0M1936.07 1486.06a4.2 4.2 0 1 0 8.4 0a4.2 4.2 0 1 0 -8.4 0M1951 1453.58a4.2 4.2 0 1 0 8.4 0a4.2 4.2 0 1 0 -8.4 0M1927.37 1468.27a4.2 4.2 0 1 0 8.4 0a4.2 4.2 0 1 0 -8.4 0M1952.68 1462.54a4.2 4.2 0 1 0 8.4 0a4.2 4.2 0 1 0 -8.4 0M1934.25 1477.74a4.2 4.2 0 1 0 8.4 0a4.2 4.2 0 1 0 -8.4 0M1961.94 1460.42a4.2 4.2 0 1 0 8.4 0a4.2 4.2 0 1 0 -8.4 0M1970.64 1449.21a4.2 4.2 0 1 0 8.4 0a4.2 4.2 0 1 0 -8.4 0M1948.04 1471.94a4.2 4.2 0 1 0 8.4 0a4.2 4.2 0 1 0 -8.4 0M1938.89 1470.82a4.2 4.2 0 1 0 8.4 0a4.2 4.2 0 1 0 -8.4 0M1957.78 1457.34a4.2 4.2 0 1 0 8.4 0a4.2 4.2 0 1 0 -8.4 0M1947.29 1472.14a4.2 4.2 0 1 0 8.4 0a4.2 4.2 0 1 0 -8.4 0M1951.83 1459.38a4.2 4.2 0 1 0 8.4 0a4.2 4.2 0 1 0 -8.4 0M1951.66 1477.43a4.2 4.2 0 1 0 8.4 0a4.2 4.2 0 1 0 -8.4 0M1959 1471.59a4.2 4.2 0 1 0 8.4 0a4.2 4.2 0 1 0 -8.4 0"/>
</svg>
</body></html>
